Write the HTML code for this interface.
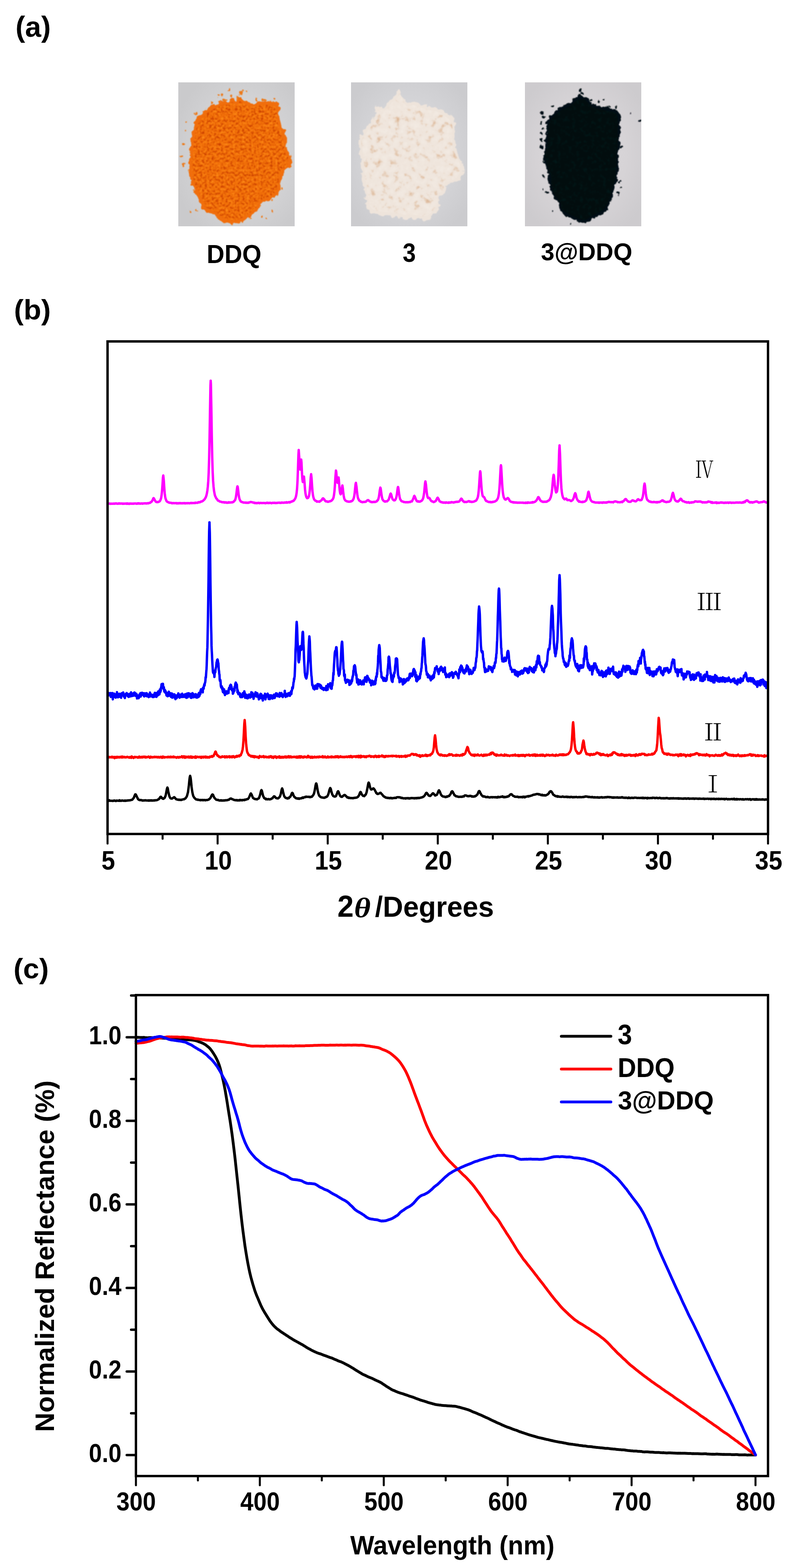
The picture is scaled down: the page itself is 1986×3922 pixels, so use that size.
<!DOCTYPE html><html><head><meta charset="utf-8"><title>Figure</title><style>
html,body{margin:0;padding:0;background:#fff;}body{width:1986px;height:3922px;overflow:hidden;}
svg{display:block;}
.t{font-family:"Liberation Sans",Arial,sans-serif;font-weight:bold;fill:#000;}
.r{font-family:"Liberation Serif","Noto Serif CJK SC",serif;fill:#000;}
</style></head><body>
<svg width="1986" height="3922" viewBox="0 0 1986 3922">
<rect width="1986" height="3922" fill="#fff"/>
<text transform="matrix(1.0050 0 0 1.0132 38.78 91.70)" font-size="72" font-family="Liberation Sans" font-weight="bold" fill="#000">(a)</text>
<text transform="matrix(1.0036 0 0 0.9868 34.89 799.10)" font-size="72" font-family="Liberation Sans" font-weight="bold" fill="#000">(b)</text>
<text transform="matrix(1.0037 0 0 0.9809 33.78 2446.99)" font-size="72" font-family="Liberation Sans" font-weight="bold" fill="#000">(c)</text>

<defs>
<filter id="edge" x="-10%" y="-10%" width="120%" height="120%">
 <feTurbulence type="fractalNoise" baseFrequency="0.09" numOctaves="2" seed="5" result="t"/>
 <feDisplacementMap in="SourceGraphic" in2="t" scale="14" xChannelSelector="R" yChannelSelector="G" result="d"/>
 <feGaussianBlur in="d" stdDeviation="0.8"/>
</filter>
<filter id="grainO" x="0" y="0" width="100%" height="100%" color-interpolation-filters="sRGB">
 <feTurbulence type="fractalNoise" baseFrequency="0.16" numOctaves="2" seed="11" result="n"/>
 <feColorMatrix in="n" type="matrix" values="0 0 0 0 0.8  0 0 0 0 0.26  0 0 0 0 0.0  -4 0 0 0 1.95" result="dk"/>
 <feColorMatrix in="n" type="matrix" values="0 0 0 0 1  0 0 0 0 0.56  0 0 0 0 0.1  3 0 0 0 -1.6" result="lt"/>
 <feMerge result="m"><feMergeNode in="SourceGraphic"/><feMergeNode in="dk"/><feMergeNode in="lt"/></feMerge>
 <feComposite in="m" in2="SourceGraphic" operator="in" result="c"/>
 <feGaussianBlur in="c" stdDeviation="0.9"/>
</filter>
<filter id="grainW" x="0" y="0" width="100%" height="100%" color-interpolation-filters="sRGB">
 <feTurbulence type="fractalNoise" baseFrequency="0.06" numOctaves="3" seed="21" result="n"/>
 <feColorMatrix in="n" type="matrix" values="0 0 0 0 0.86  0 0 0 0 0.71  0 0 0 0 0.58  -3.2 0 0 0 1.36" result="dk"/>
 <feColorMatrix in="n" type="matrix" values="0 0 0 0 0.95  0 0 0 0 0.92  0 0 0 0 0.89  2.5 0 0 0 -1.2" result="lt"/>
 <feMerge result="m"><feMergeNode in="SourceGraphic"/><feMergeNode in="dk"/><feMergeNode in="lt"/></feMerge>
 <feComposite in="m" in2="SourceGraphic" operator="in" result="c"/>
 <feGaussianBlur in="c" stdDeviation="0.9"/>
</filter>
<filter id="grainK" x="0" y="0" width="100%" height="100%" color-interpolation-filters="sRGB">
 <feTurbulence type="fractalNoise" baseFrequency="0.1" numOctaves="2" seed="31" result="n"/>
 <feColorMatrix in="n" type="matrix" values="0 0 0 0 0.0  0 0 0 0 0.11  0 0 0 0 0.11  2 0 0 0 -1.0" result="lt"/>
 <feMerge result="m"><feMergeNode in="SourceGraphic"/><feMergeNode in="lt"/></feMerge>
 <feComposite in="m" in2="SourceGraphic" operator="in" result="c"/>
 <feGaussianBlur in="c" stdDeviation="0.9"/>
</filter>
<clipPath id="cp1"><rect x="446" y="206" width="291" height="360"/></clipPath>
<clipPath id="cp2"><rect x="878" y="206" width="291" height="360"/></clipPath>
<clipPath id="cp3"><rect x="1313" y="206" width="291" height="360"/></clipPath>
<radialGradient id="bg1" cx="0.55" cy="0.5" r="0.62"><stop offset="0" stop-color="#dadadc"/><stop offset="0.6" stop-color="#d3d3d5"/><stop offset="1" stop-color="#cacacc"/></radialGradient>
<radialGradient id="bg2" cx="0.5" cy="0.5" r="0.62"><stop offset="0" stop-color="#dbdbde"/><stop offset="0.6" stop-color="#d4d4d7"/><stop offset="1" stop-color="#cbcbce"/></radialGradient>
<radialGradient id="bg3" cx="0.5" cy="0.5" r="0.62"><stop offset="0" stop-color="#dedbde"/><stop offset="0.6" stop-color="#d6d3d6"/><stop offset="1" stop-color="#cdcbce"/></radialGradient>
</defs>
<g clip-path="url(#cp1)">
<rect x="446" y="206" width="291" height="360" fill="url(#bg1)"/>
<g filter="url(#edge)"><circle cx="553" cy="237" r="3.5" fill="#ec7a1a"/><circle cx="571" cy="223" r="3" fill="#ec7a1a"/><circle cx="580" cy="240" r="3.5" fill="#ec7a1a"/><circle cx="602" cy="234" r="3.5" fill="#ec7a1a"/><circle cx="607" cy="229" r="2.5" fill="#ec7a1a"/><circle cx="618" cy="228" r="2.5" fill="#ec7a1a"/><circle cx="642" cy="249" r="3" fill="#ec7a1a"/><circle cx="685" cy="249" r="3" fill="#ec7a1a"/><circle cx="544" cy="241" r="2.5" fill="#ec7a1a"/><circle cx="490" cy="285" r="3" fill="#ec7a1a"/><circle cx="468" cy="306" r="2.5" fill="#ec7a1a"/><circle cx="462" cy="327" r="2.5" fill="#ec7a1a"/><circle cx="457" cy="362" r="3.5" fill="#ec7a1a"/><circle cx="453" cy="393" r="3" fill="#ec7a1a"/><circle cx="459" cy="411" r="4" fill="#ec7a1a"/><circle cx="475" cy="531" r="3" fill="#ec7a1a"/><circle cx="491" cy="527" r="2.5" fill="#ec7a1a"/><circle cx="654" cy="542" r="3" fill="#ec7a1a"/><circle cx="665" cy="547" r="2.5" fill="#ec7a1a"/><circle cx="680" cy="527" r="3" fill="#ec7a1a"/><circle cx="625" cy="547" r="2.5" fill="#ec7a1a"/><circle cx="683" cy="502" r="3" fill="#ec7a1a"/><circle cx="705" cy="469" r="2.5" fill="#ec7a1a"/><circle cx="530" cy="258" r="4" fill="#ec7a1a"/><circle cx="596" cy="246" r="4" fill="#ec7a1a"/><circle cx="660" cy="250" r="3.5" fill="#ec7a1a"/><circle cx="563" cy="249" r="4" fill="#ec7a1a"/><path d="M542.0,259.0 C545.7,257.2 548.2,254.0 553.0,253.0 C557.8,252.0 566.5,254.2 571.0,253.0 C575.5,251.8 576.7,246.0 580.0,246.0 C583.3,246.0 587.3,253.5 591.0,253.0 C594.7,252.5 598.0,243.0 602.0,243.0 C606.0,243.0 611.2,250.8 615.0,253.0 C618.8,255.2 621.5,255.2 625.0,256.0 C628.5,256.8 632.3,258.5 636.0,258.0 C639.7,257.5 643.0,253.7 647.0,253.0 C651.0,252.3 654.5,253.8 660.0,254.0 C665.5,254.2 674.7,253.5 680.0,254.0 C685.3,254.5 689.0,255.2 692.0,257.0 C695.0,258.8 696.8,258.7 698.0,265.0 C699.2,271.3 697.8,287.0 699.0,295.0 C700.2,303.0 702.8,307.0 705.0,313.0 C707.2,319.0 710.0,322.8 712.0,331.0 C714.0,339.2 715.3,353.2 717.0,362.0 C718.7,370.8 720.0,378.5 722.0,384.0 C724.0,389.5 728.2,390.2 729.0,395.0 C729.8,399.8 729.5,407.8 727.0,413.0 C724.5,418.2 717.3,421.2 714.0,426.0 C710.7,430.8 708.8,436.3 707.0,442.0 C705.2,447.7 704.5,453.7 703.0,460.0 C701.5,466.3 700.7,474.5 698.0,480.0 C695.3,485.5 691.8,489.3 687.0,493.0 C682.2,496.7 675.0,499.0 669.0,502.0 C663.0,505.0 655.5,506.5 651.0,511.0 C646.5,515.5 646.3,523.8 642.0,529.0 C637.7,534.2 631.7,537.5 625.0,542.0 C618.3,546.5 609.5,552.7 602.0,556.0 C594.5,559.3 587.3,562.0 580.0,562.0 C572.7,562.0 564.7,559.3 558.0,556.0 C551.3,552.7 546.3,546.2 540.0,542.0 C533.7,537.8 525.7,534.0 520.0,531.0 C514.3,528.0 509.0,527.7 506.0,524.0 C503.0,520.3 504.5,515.3 502.0,509.0 C499.5,502.7 494.7,493.5 491.0,486.0 C487.3,478.5 483.0,473.2 480.0,464.0 C477.0,454.8 474.5,441.7 473.0,431.0 C471.5,420.3 470.7,407.7 471.0,400.0 C471.3,392.3 473.7,395.0 475.0,385.0 C476.3,375.0 476.8,353.2 479.0,340.0 C481.2,326.8 485.0,314.2 488.0,306.0 C491.0,297.8 492.8,296.2 497.0,291.0 C501.2,285.8 507.3,279.5 513.0,275.0 C518.7,270.5 526.2,266.7 531.0,264.0 C535.8,261.3 538.3,260.8 542.0,259.0 Z" fill="#f06e08"/></g>
<path d="M542.0,259.0 C545.7,257.2 548.2,254.0 553.0,253.0 C557.8,252.0 566.5,254.2 571.0,253.0 C575.5,251.8 576.7,246.0 580.0,246.0 C583.3,246.0 587.3,253.5 591.0,253.0 C594.7,252.5 598.0,243.0 602.0,243.0 C606.0,243.0 611.2,250.8 615.0,253.0 C618.8,255.2 621.5,255.2 625.0,256.0 C628.5,256.8 632.3,258.5 636.0,258.0 C639.7,257.5 643.0,253.7 647.0,253.0 C651.0,252.3 654.5,253.8 660.0,254.0 C665.5,254.2 674.7,253.5 680.0,254.0 C685.3,254.5 689.0,255.2 692.0,257.0 C695.0,258.8 696.8,258.7 698.0,265.0 C699.2,271.3 697.8,287.0 699.0,295.0 C700.2,303.0 702.8,307.0 705.0,313.0 C707.2,319.0 710.0,322.8 712.0,331.0 C714.0,339.2 715.3,353.2 717.0,362.0 C718.7,370.8 720.0,378.5 722.0,384.0 C724.0,389.5 728.2,390.2 729.0,395.0 C729.8,399.8 729.5,407.8 727.0,413.0 C724.5,418.2 717.3,421.2 714.0,426.0 C710.7,430.8 708.8,436.3 707.0,442.0 C705.2,447.7 704.5,453.7 703.0,460.0 C701.5,466.3 700.7,474.5 698.0,480.0 C695.3,485.5 691.8,489.3 687.0,493.0 C682.2,496.7 675.0,499.0 669.0,502.0 C663.0,505.0 655.5,506.5 651.0,511.0 C646.5,515.5 646.3,523.8 642.0,529.0 C637.7,534.2 631.7,537.5 625.0,542.0 C618.3,546.5 609.5,552.7 602.0,556.0 C594.5,559.3 587.3,562.0 580.0,562.0 C572.7,562.0 564.7,559.3 558.0,556.0 C551.3,552.7 546.3,546.2 540.0,542.0 C533.7,537.8 525.7,534.0 520.0,531.0 C514.3,528.0 509.0,527.7 506.0,524.0 C503.0,520.3 504.5,515.3 502.0,509.0 C499.5,502.7 494.7,493.5 491.0,486.0 C487.3,478.5 483.0,473.2 480.0,464.0 C477.0,454.8 474.5,441.7 473.0,431.0 C471.5,420.3 470.7,407.7 471.0,400.0 C471.3,392.3 473.7,395.0 475.0,385.0 C476.3,375.0 476.8,353.2 479.0,340.0 C481.2,326.8 485.0,314.2 488.0,306.0 C491.0,297.8 492.8,296.2 497.0,291.0 C501.2,285.8 507.3,279.5 513.0,275.0 C518.7,270.5 526.2,266.7 531.0,264.0 C535.8,261.3 538.3,260.8 542.0,259.0 Z" fill="#f06e08" filter="url(#grainO)" transform="translate(600 400) scale(0.94) translate(-600 -400)"/>
</g>
<g clip-path="url(#cp2)">
<rect x="878" y="206" width="291" height="360" fill="url(#bg2)"/>
<g filter="url(#edge)"><path d="M998.0,224.0 C1000.2,223.3 1000.0,227.5 1003.0,233.0 C1006.0,238.5 1010.8,253.3 1016.0,257.0 C1021.2,260.7 1027.2,254.2 1034.0,255.0 C1040.8,255.8 1049.5,259.8 1057.0,262.0 C1064.5,264.2 1071.7,266.2 1079.0,268.0 C1086.3,269.8 1094.3,270.3 1101.0,273.0 C1107.7,275.7 1113.3,279.5 1119.0,284.0 C1124.7,288.5 1131.7,293.7 1135.0,300.0 C1138.3,306.3 1138.5,314.7 1139.0,322.0 C1139.5,329.3 1138.0,336.5 1138.0,344.0 C1138.0,351.5 1137.7,360.2 1139.0,367.0 C1140.3,373.8 1143.0,378.2 1146.0,385.0 C1149.0,391.8 1154.8,400.3 1157.0,408.0 C1159.2,415.7 1160.2,424.3 1159.0,431.0 C1157.8,437.7 1154.0,443.7 1150.0,448.0 C1146.0,452.3 1140.2,455.0 1135.0,457.0 C1129.8,459.0 1122.8,455.5 1119.0,460.0 C1115.2,464.5 1115.3,478.8 1112.0,484.0 C1108.7,489.2 1101.3,485.0 1099.0,491.0 C1096.7,497.0 1100.7,511.8 1098.0,520.0 C1095.3,528.2 1088.5,534.8 1083.0,540.0 C1077.5,545.2 1072.3,549.8 1065.0,551.0 C1057.7,552.2 1047.8,547.7 1039.0,547.0 C1030.2,546.3 1020.2,547.8 1012.0,547.0 C1003.8,546.2 997.5,543.2 990.0,542.0 C982.5,540.8 974.5,540.7 967.0,540.0 C959.5,539.3 952.3,539.8 945.0,538.0 C937.7,536.2 927.8,533.8 923.0,529.0 C918.2,524.2 918.0,518.0 916.0,509.0 C914.0,500.0 912.8,486.2 911.0,475.0 C909.2,463.8 906.3,453.2 905.0,442.0 C903.7,430.8 903.8,417.5 903.0,408.0 C902.2,398.5 900.8,391.8 900.0,385.0 C899.2,378.2 898.7,372.7 898.0,367.0 C897.3,361.3 894.8,356.3 896.0,351.0 C897.2,345.7 901.7,340.5 905.0,335.0 C908.3,329.5 912.3,322.8 916.0,318.0 C919.7,313.2 923.3,311.7 927.0,306.0 C930.7,300.3 935.8,290.3 938.0,284.0 C940.2,277.7 935.8,271.0 940.0,268.0 C944.2,265.0 957.3,268.8 963.0,266.0 C968.7,263.2 969.5,255.8 974.0,251.0 C978.5,246.2 986.0,241.5 990.0,237.0 C994.0,232.5 995.8,224.7 998.0,224.0 Z" fill="#eee4db"/></g>
<path d="M998.0,224.0 C1000.2,223.3 1000.0,227.5 1003.0,233.0 C1006.0,238.5 1010.8,253.3 1016.0,257.0 C1021.2,260.7 1027.2,254.2 1034.0,255.0 C1040.8,255.8 1049.5,259.8 1057.0,262.0 C1064.5,264.2 1071.7,266.2 1079.0,268.0 C1086.3,269.8 1094.3,270.3 1101.0,273.0 C1107.7,275.7 1113.3,279.5 1119.0,284.0 C1124.7,288.5 1131.7,293.7 1135.0,300.0 C1138.3,306.3 1138.5,314.7 1139.0,322.0 C1139.5,329.3 1138.0,336.5 1138.0,344.0 C1138.0,351.5 1137.7,360.2 1139.0,367.0 C1140.3,373.8 1143.0,378.2 1146.0,385.0 C1149.0,391.8 1154.8,400.3 1157.0,408.0 C1159.2,415.7 1160.2,424.3 1159.0,431.0 C1157.8,437.7 1154.0,443.7 1150.0,448.0 C1146.0,452.3 1140.2,455.0 1135.0,457.0 C1129.8,459.0 1122.8,455.5 1119.0,460.0 C1115.2,464.5 1115.3,478.8 1112.0,484.0 C1108.7,489.2 1101.3,485.0 1099.0,491.0 C1096.7,497.0 1100.7,511.8 1098.0,520.0 C1095.3,528.2 1088.5,534.8 1083.0,540.0 C1077.5,545.2 1072.3,549.8 1065.0,551.0 C1057.7,552.2 1047.8,547.7 1039.0,547.0 C1030.2,546.3 1020.2,547.8 1012.0,547.0 C1003.8,546.2 997.5,543.2 990.0,542.0 C982.5,540.8 974.5,540.7 967.0,540.0 C959.5,539.3 952.3,539.8 945.0,538.0 C937.7,536.2 927.8,533.8 923.0,529.0 C918.2,524.2 918.0,518.0 916.0,509.0 C914.0,500.0 912.8,486.2 911.0,475.0 C909.2,463.8 906.3,453.2 905.0,442.0 C903.7,430.8 903.8,417.5 903.0,408.0 C902.2,398.5 900.8,391.8 900.0,385.0 C899.2,378.2 898.7,372.7 898.0,367.0 C897.3,361.3 894.8,356.3 896.0,351.0 C897.2,345.7 901.7,340.5 905.0,335.0 C908.3,329.5 912.3,322.8 916.0,318.0 C919.7,313.2 923.3,311.7 927.0,306.0 C930.7,300.3 935.8,290.3 938.0,284.0 C940.2,277.7 935.8,271.0 940.0,268.0 C944.2,265.0 957.3,268.8 963.0,266.0 C968.7,263.2 969.5,255.8 974.0,251.0 C978.5,246.2 986.0,241.5 990.0,237.0 C994.0,232.5 995.8,224.7 998.0,224.0 Z" fill="#efe5dc" filter="url(#grainW)" transform="translate(1025 390) scale(0.94) translate(-1025 -390)"/>
</g>
<g clip-path="url(#cp3)">
<rect x="1313" y="206" width="291" height="360" fill="url(#bg3)"/>
<g filter="url(#edge)"><circle cx="1451" cy="224" r="4" fill="#041012"/><circle cx="1456" cy="233" r="4" fill="#041012"/><circle cx="1447" cy="240" r="4" fill="#041012"/><circle cx="1478" cy="250" r="3" fill="#041012"/><circle cx="1498" cy="253" r="3" fill="#041012"/><circle cx="1512" cy="250" r="3" fill="#041012"/><circle cx="1527" cy="265" r="3" fill="#041012"/><circle cx="1541" cy="268" r="3" fill="#041012"/><circle cx="1380" cy="264" r="3" fill="#041012"/><circle cx="1355" cy="282" r="3.5" fill="#041012"/><circle cx="1360" cy="291" r="3" fill="#041012"/><circle cx="1353" cy="309" r="3" fill="#041012"/><circle cx="1358" cy="322" r="3" fill="#041012"/><circle cx="1353" cy="333" r="3.5" fill="#041012"/><circle cx="1355" cy="351" r="4" fill="#041012"/><circle cx="1355" cy="367" r="3.5" fill="#041012"/><circle cx="1577" cy="284" r="1.5" fill="#041012"/><circle cx="1601" cy="302" r="2.5" fill="#041012"/><circle cx="1554" cy="367" r="4.5" fill="#041012"/><circle cx="1360" cy="440" r="2.5" fill="#041012"/><circle cx="1358" cy="473" r="2" fill="#041012"/><circle cx="1369" cy="482" r="4.5" fill="#041012"/><circle cx="1550" cy="457" r="3.5" fill="#041012"/><circle cx="1552" cy="471" r="3" fill="#041012"/><circle cx="1547" cy="484" r="3.5" fill="#041012"/><circle cx="1384" cy="529" r="2" fill="#041012"/><circle cx="1429" cy="562" r="2.5" fill="#041012"/><circle cx="1463" cy="246" r="5" fill="#041012"/><circle cx="1436" cy="250" r="4" fill="#041012"/><circle cx="1520" cy="268" r="3.5" fill="#041012"/><path d="M1440.0,244.0 C1444.8,241.5 1453.2,239.7 1458.0,240.0 C1462.8,240.3 1464.8,242.7 1469.0,246.0 C1473.2,249.3 1477.3,256.7 1483.0,260.0 C1488.7,263.3 1496.0,264.2 1503.0,266.0 C1510.0,267.8 1518.0,269.2 1525.0,271.0 C1532.0,272.8 1540.8,273.0 1545.0,277.0 C1549.2,281.0 1549.2,286.3 1550.0,295.0 C1550.8,303.7 1550.0,317.8 1550.0,329.0 C1550.0,340.2 1550.5,352.7 1550.0,362.0 C1549.5,371.3 1547.5,377.3 1547.0,385.0 C1546.5,392.7 1547.3,400.3 1547.0,408.0 C1546.7,415.7 1545.7,423.5 1545.0,431.0 C1544.3,438.5 1544.5,445.7 1543.0,453.0 C1541.5,460.3 1537.8,468.3 1536.0,475.0 C1534.2,481.7 1533.8,487.0 1532.0,493.0 C1530.2,499.0 1528.0,505.0 1525.0,511.0 C1522.0,517.0 1518.5,524.2 1514.0,529.0 C1509.5,533.8 1503.2,537.0 1498.0,540.0 C1492.8,543.0 1487.8,544.3 1483.0,547.0 C1478.2,549.7 1473.5,554.2 1469.0,556.0 C1464.5,557.8 1461.2,558.8 1456.0,558.0 C1450.8,557.2 1444.0,553.7 1438.0,551.0 C1432.0,548.3 1426.0,545.7 1420.0,542.0 C1414.0,538.3 1405.7,534.2 1402.0,529.0 C1398.3,523.8 1401.0,517.0 1398.0,511.0 C1395.0,505.0 1387.7,499.7 1384.0,493.0 C1380.3,486.3 1377.8,479.5 1376.0,471.0 C1374.2,462.5 1375.0,451.7 1373.0,442.0 C1371.0,432.3 1366.5,422.3 1364.0,413.0 C1361.5,403.7 1358.0,393.8 1358.0,386.0 C1358.0,378.2 1362.7,375.3 1364.0,366.0 C1365.3,356.7 1365.2,341.0 1366.0,330.0 C1366.8,319.0 1365.5,308.3 1369.0,300.0 C1372.5,291.7 1381.5,285.3 1387.0,280.0 C1392.5,274.7 1397.2,271.0 1402.0,268.0 C1406.8,265.0 1411.5,264.2 1416.0,262.0 C1420.5,259.8 1425.0,258.0 1429.0,255.0 C1433.0,252.0 1435.2,246.5 1440.0,244.0 Z" fill="#041012"/></g>
<path d="M1440.0,244.0 C1444.8,241.5 1453.2,239.7 1458.0,240.0 C1462.8,240.3 1464.8,242.7 1469.0,246.0 C1473.2,249.3 1477.3,256.7 1483.0,260.0 C1488.7,263.3 1496.0,264.2 1503.0,266.0 C1510.0,267.8 1518.0,269.2 1525.0,271.0 C1532.0,272.8 1540.8,273.0 1545.0,277.0 C1549.2,281.0 1549.2,286.3 1550.0,295.0 C1550.8,303.7 1550.0,317.8 1550.0,329.0 C1550.0,340.2 1550.5,352.7 1550.0,362.0 C1549.5,371.3 1547.5,377.3 1547.0,385.0 C1546.5,392.7 1547.3,400.3 1547.0,408.0 C1546.7,415.7 1545.7,423.5 1545.0,431.0 C1544.3,438.5 1544.5,445.7 1543.0,453.0 C1541.5,460.3 1537.8,468.3 1536.0,475.0 C1534.2,481.7 1533.8,487.0 1532.0,493.0 C1530.2,499.0 1528.0,505.0 1525.0,511.0 C1522.0,517.0 1518.5,524.2 1514.0,529.0 C1509.5,533.8 1503.2,537.0 1498.0,540.0 C1492.8,543.0 1487.8,544.3 1483.0,547.0 C1478.2,549.7 1473.5,554.2 1469.0,556.0 C1464.5,557.8 1461.2,558.8 1456.0,558.0 C1450.8,557.2 1444.0,553.7 1438.0,551.0 C1432.0,548.3 1426.0,545.7 1420.0,542.0 C1414.0,538.3 1405.7,534.2 1402.0,529.0 C1398.3,523.8 1401.0,517.0 1398.0,511.0 C1395.0,505.0 1387.7,499.7 1384.0,493.0 C1380.3,486.3 1377.8,479.5 1376.0,471.0 C1374.2,462.5 1375.0,451.7 1373.0,442.0 C1371.0,432.3 1366.5,422.3 1364.0,413.0 C1361.5,403.7 1358.0,393.8 1358.0,386.0 C1358.0,378.2 1362.7,375.3 1364.0,366.0 C1365.3,356.7 1365.2,341.0 1366.0,330.0 C1366.8,319.0 1365.5,308.3 1369.0,300.0 C1372.5,291.7 1381.5,285.3 1387.0,280.0 C1392.5,274.7 1397.2,271.0 1402.0,268.0 C1406.8,265.0 1411.5,264.2 1416.0,262.0 C1420.5,259.8 1425.0,258.0 1429.0,255.0 C1433.0,252.0 1435.2,246.5 1440.0,244.0 Z" fill="#020d0e" filter="url(#grainK)" transform="translate(1455 400) scale(0.95) translate(-1455 -400)"/>
</g>

<text transform="matrix(0.9767 0 0 1.0419 517.09 657.70)" font-size="63" font-family="Liberation Sans" font-weight="bold" fill="#000">DDQ</text>
<text transform="matrix(0.9355 0 0 1.0442 1007.13 654.80)" font-size="63" font-family="Liberation Sans" font-weight="bold" fill="#000">3</text>
<text transform="matrix(0.9668 0 0 0.9800 1353.07 650.60)" font-size="63" font-family="Liberation Sans" font-weight="bold" fill="#000">3@DDQ</text>
<polyline points="269.0,1259.9 270.1,1260.0 271.2,1259.8 272.3,1259.6 273.4,1259.7 274.5,1259.5 275.6,1259.9 276.7,1260.3 277.8,1259.7 278.9,1259.7 280.0,1260.0 281.1,1260.0 282.2,1259.9 283.3,1259.5 284.4,1259.8 285.5,1260.1 286.6,1259.4 287.7,1259.7 288.8,1259.2 289.9,1259.4 291.0,1259.2 292.1,1259.7 293.2,1259.4 294.3,1259.9 295.4,1259.9 296.5,1259.7 297.6,1258.9 298.7,1259.6 299.8,1259.8 300.9,1259.8 302.0,1259.3 303.1,1259.6 304.2,1259.4 305.3,1259.5 306.4,1260.1 307.5,1259.5 308.6,1259.8 309.7,1260.1 310.8,1259.5 311.9,1259.7 313.0,1259.8 314.1,1259.8 315.2,1259.3 316.3,1259.8 317.4,1260.2 318.5,1259.2 319.6,1260.0 320.7,1259.7 321.8,1259.5 322.9,1260.4 324.0,1260.0 325.1,1259.3 326.2,1259.7 327.3,1259.9 328.4,1259.6 329.5,1259.9 330.6,1259.6 331.7,1259.9 332.8,1260.1 333.9,1259.4 335.0,1259.7 336.1,1259.4 337.2,1259.6 338.3,1259.2 339.4,1259.4 340.5,1259.5 341.6,1259.9 342.7,1259.9 343.8,1259.1 344.9,1259.2 346.0,1259.7 347.1,1258.8 348.2,1259.3 349.3,1259.4 350.4,1259.9 351.5,1259.7 352.6,1259.3 353.7,1259.3 354.8,1259.3 355.9,1259.9 357.0,1259.2 358.1,1259.2 359.2,1259.4 360.3,1259.2 361.4,1259.1 362.5,1258.8 363.6,1259.1 364.7,1258.9 365.8,1259.4 366.9,1259.2 368.0,1258.8 369.1,1259.0 370.2,1258.5 371.3,1258.9 372.4,1258.3 373.5,1258.3 374.6,1257.4 375.7,1257.6 376.8,1256.4 377.9,1255.5 379.0,1255.1 380.1,1253.4 381.2,1251.6 382.3,1249.8 383.4,1246.6 384.2,1245.9 385.6,1247.7 386.7,1250.2 387.8,1252.2 388.9,1253.8 390.0,1255.2 391.1,1255.7 392.2,1255.5 393.3,1256.0 394.4,1256.0 395.5,1255.4 396.6,1255.5 397.7,1254.6 398.8,1254.5 399.9,1253.1 401.0,1251.4 402.1,1248.6 403.2,1244.7 404.3,1237.4 405.4,1226.9 406.5,1211.6 407.6,1194.3 408.4,1189.3 409.8,1202.7 410.9,1221.1 412.0,1233.6 413.1,1242.6 414.2,1247.4 415.3,1250.0 416.4,1253.1 417.5,1254.5 418.6,1255.0 419.7,1255.7 420.8,1256.3 421.9,1256.4 423.0,1257.5 424.1,1257.2 425.2,1257.6 426.3,1257.6 427.4,1257.8 428.5,1257.7 429.6,1258.7 430.7,1258.3 431.8,1258.7 432.9,1258.5 434.0,1258.3 435.1,1258.5 436.2,1258.4 437.3,1258.7 438.4,1258.6 439.5,1258.6 440.6,1258.3 441.7,1258.5 442.8,1259.4 443.9,1258.6 445.0,1258.4 446.1,1258.9 447.2,1259.3 448.3,1258.3 449.4,1258.7 450.5,1258.6 451.6,1258.2 452.7,1259.1 453.8,1258.8 454.9,1258.8 456.0,1258.5 457.1,1259.0 458.2,1258.6 459.3,1258.7 460.4,1258.4 461.5,1258.3 462.6,1259.2 463.7,1258.5 464.8,1258.8 465.9,1258.7 467.0,1258.5 468.1,1258.5 469.2,1258.8 470.3,1258.5 471.4,1258.5 472.5,1258.5 473.6,1258.9 474.7,1258.7 475.8,1258.5 476.9,1258.2 478.0,1257.8 479.1,1258.6 480.2,1258.6 481.3,1258.1 482.4,1258.3 483.5,1258.3 484.6,1258.3 485.7,1258.2 486.8,1257.7 487.9,1258.3 489.0,1257.2 490.1,1257.8 491.2,1257.6 492.3,1257.6 493.4,1257.8 494.5,1257.5 495.6,1256.4 496.7,1256.1 497.8,1256.7 498.9,1255.9 500.0,1256.0 501.1,1256.0 502.2,1254.8 503.3,1254.2 504.4,1254.6 505.5,1254.0 506.6,1253.4 507.7,1252.8 508.8,1251.7 509.9,1250.5 511.0,1249.8 512.1,1248.2 513.2,1246.2 514.3,1244.8 515.4,1241.9 516.5,1238.5 517.6,1233.3 518.7,1226.9 519.8,1217.5 520.9,1203.4 522.0,1181.7 523.1,1146.7 524.2,1094.9 525.3,1025.7 526.4,963.9 527.0,952.2 527.5,960.4 528.6,1018.9 529.7,1089.1 530.8,1142.5 531.9,1178.8 533.0,1202.2 534.1,1216.6 535.2,1226.4 536.3,1232.9 537.4,1238.3 538.5,1241.5 539.6,1243.5 540.7,1246.2 541.8,1247.5 542.9,1248.4 544.0,1250.5 545.1,1252.1 546.2,1252.4 547.3,1252.7 548.4,1253.3 549.5,1254.5 550.6,1254.6 551.7,1254.9 552.8,1255.2 553.9,1255.5 555.0,1256.0 556.1,1256.2 557.2,1256.2 558.3,1255.9 559.4,1256.6 560.5,1256.3 561.6,1257.1 562.7,1256.3 563.8,1256.8 564.9,1256.9 566.0,1256.5 567.1,1257.6 568.2,1257.6 569.3,1256.9 570.4,1257.4 571.5,1257.2 572.6,1256.2 573.7,1257.1 574.8,1257.0 575.9,1257.0 577.0,1256.5 578.1,1256.6 579.2,1256.5 580.3,1256.8 581.4,1256.2 582.5,1255.7 583.6,1255.8 584.7,1254.4 585.8,1253.6 586.9,1251.8 588.0,1251.0 589.1,1247.6 590.2,1242.7 591.3,1235.3 592.4,1225.5 593.5,1217.5 594.0,1216.4 594.6,1218.0 595.7,1226.4 596.8,1236.4 597.9,1243.2 599.0,1247.7 600.1,1250.6 601.2,1252.5 602.3,1254.5 603.4,1255.0 604.5,1255.5 605.6,1255.9 606.7,1256.0 607.8,1256.6 608.9,1257.2 610.0,1256.9 611.1,1257.1 612.2,1257.2 613.3,1257.4 614.4,1256.9 615.5,1257.4 616.6,1257.2 617.7,1257.8 618.8,1257.2 619.9,1257.6 621.0,1257.8 622.1,1257.0 623.2,1256.7 624.3,1256.7 625.4,1256.3 626.5,1255.6 628.0,1255.7 628.7,1255.9 629.8,1256.0 630.9,1256.4 632.0,1256.5 633.1,1257.2 634.2,1256.9 635.3,1257.2 636.4,1258.2 637.5,1257.5 638.6,1258.3 639.7,1258.5 640.8,1258.1 641.9,1258.2 643.0,1258.7 644.1,1258.0 645.2,1257.9 646.3,1257.6 647.4,1258.1 648.5,1258.7 649.6,1258.5 650.7,1257.8 651.8,1257.9 652.9,1258.0 654.0,1258.3 655.1,1258.1 656.2,1258.2 657.3,1258.3 658.4,1258.1 659.5,1258.1 660.6,1258.2 661.7,1258.1 662.8,1258.3 663.9,1258.8 665.0,1258.3 666.1,1258.1 667.2,1257.5 668.3,1258.2 669.4,1257.4 670.5,1257.6 671.6,1258.4 672.7,1258.3 673.8,1258.0 674.9,1257.5 676.0,1257.9 677.1,1257.8 678.2,1258.2 679.3,1258.8 680.4,1258.1 681.5,1257.7 682.6,1257.6 683.7,1257.9 684.8,1257.9 685.9,1257.5 687.0,1258.0 688.1,1257.5 689.2,1258.3 690.3,1258.2 691.4,1258.2 692.5,1257.6 693.6,1258.0 694.7,1257.7 695.8,1257.6 696.9,1257.6 698.0,1257.2 699.1,1257.2 700.2,1257.9 701.3,1257.5 702.4,1257.6 703.5,1257.9 704.6,1256.9 705.7,1257.2 706.8,1257.5 707.9,1257.5 709.0,1257.2 710.1,1257.6 711.2,1257.3 712.3,1256.8 713.4,1256.8 714.5,1257.3 715.6,1257.1 716.7,1256.2 717.8,1257.3 718.9,1256.9 720.0,1257.0 721.1,1256.3 722.2,1256.2 723.3,1255.8 724.4,1256.9 725.5,1255.7 726.6,1256.1 727.7,1255.1 728.8,1255.0 729.9,1254.0 731.0,1254.1 732.1,1254.0 733.2,1252.6 734.3,1252.7 735.4,1251.5 736.5,1249.8 737.6,1248.4 738.7,1246.3 739.8,1243.5 740.9,1239.1 742.0,1232.3 743.1,1221.3 744.2,1202.4 745.3,1172.9 746.4,1138.5 747.2,1125.4 748.6,1146.0 749.7,1168.8 750.8,1174.5 751.9,1164.0 753.4,1149.5 754.1,1157.0 755.2,1181.0 756.3,1198.4 757.4,1205.6 758.5,1201.8 759.6,1193.3 760.3,1192.1 761.8,1208.6 762.9,1223.8 764.0,1233.6 765.1,1239.2 766.2,1243.0 767.3,1244.9 768.4,1246.1 769.5,1245.6 770.6,1245.3 771.7,1243.1 772.8,1240.8 773.9,1234.6 775.0,1224.9 776.1,1211.0 777.2,1194.0 778.2,1186.1 779.4,1197.1 780.5,1214.6 781.6,1228.5 782.7,1238.2 783.8,1243.4 784.9,1246.9 786.0,1249.6 787.1,1250.6 788.2,1252.1 789.3,1252.4 790.4,1253.0 791.5,1253.2 792.6,1254.8 793.7,1254.3 794.8,1254.6 795.9,1254.6 797.0,1254.7 798.1,1254.6 799.2,1255.1 800.3,1253.8 801.4,1253.1 802.5,1252.6 803.6,1251.5 804.7,1250.8 805.8,1249.2 806.9,1246.9 808.1,1246.4 809.1,1247.0 810.2,1249.1 811.3,1249.3 812.4,1251.9 813.5,1252.5 814.6,1254.0 815.7,1253.8 816.8,1254.4 817.9,1254.2 819.0,1254.5 820.1,1255.3 821.2,1255.1 822.3,1254.6 823.4,1254.3 824.5,1253.7 825.6,1253.9 826.7,1253.6 827.8,1253.1 828.9,1252.5 830.0,1251.2 831.1,1250.4 832.2,1248.8 833.3,1247.0 834.4,1243.7 835.5,1237.5 836.6,1228.4 837.7,1214.6 838.8,1195.4 840.3,1176.9 841.0,1179.9 842.1,1193.7 843.2,1205.6 844.3,1207.7 845.4,1201.4 846.8,1194.3 847.6,1200.4 848.7,1215.1 849.8,1227.3 850.9,1233.9 852.0,1236.4 853.1,1234.5 854.2,1228.1 855.3,1219.4 856.4,1214.2 857.5,1221.1 858.6,1232.2 859.7,1240.0 860.8,1245.9 861.9,1249.0 863.0,1250.8 864.1,1252.0 865.2,1252.8 866.3,1253.2 867.4,1253.9 868.5,1254.2 869.6,1254.6 870.7,1254.3 871.8,1254.9 872.9,1254.9 874.0,1254.8 875.1,1254.6 876.2,1254.8 877.3,1253.8 878.4,1254.2 879.5,1253.6 880.6,1253.0 881.7,1252.1 882.8,1250.4 883.9,1248.5 885.0,1245.5 886.1,1240.3 887.2,1232.4 888.3,1221.0 889.4,1210.8 890.2,1207.7 891.6,1216.6 892.7,1227.9 893.8,1236.6 894.9,1243.7 896.0,1247.4 897.1,1249.1 898.2,1251.8 899.3,1252.3 900.4,1253.2 901.5,1254.0 902.6,1255.1 903.7,1254.9 904.8,1255.4 905.9,1256.1 907.0,1256.2 908.1,1255.7 909.2,1255.6 910.3,1255.3 911.4,1255.4 912.5,1255.6 913.6,1255.3 914.7,1254.8 915.8,1254.5 916.9,1253.0 918.0,1252.3 919.1,1251.5 920.4,1250.8 921.3,1251.1 922.4,1252.1 923.5,1252.9 924.6,1254.1 925.7,1254.3 926.8,1254.6 927.9,1255.7 929.0,1255.7 930.1,1256.0 931.2,1255.4 932.3,1255.9 933.4,1255.8 934.5,1255.6 935.6,1255.1 936.7,1255.6 937.8,1255.8 938.9,1255.4 940.0,1254.8 941.1,1254.5 942.2,1254.2 943.3,1252.1 944.4,1251.8 945.5,1250.2 946.6,1247.3 947.7,1243.1 948.8,1236.0 949.9,1227.1 951.4,1219.6 952.1,1221.5 953.2,1229.1 954.3,1237.6 955.4,1244.0 956.5,1248.4 957.6,1250.2 958.7,1251.8 959.8,1252.9 960.9,1253.9 962.0,1253.9 963.1,1254.7 964.2,1253.9 965.3,1254.2 966.4,1254.1 967.5,1254.1 968.6,1253.8 969.7,1252.2 970.8,1251.3 971.9,1250.1 973.0,1247.3 974.1,1243.6 975.2,1240.2 976.3,1235.9 977.2,1234.5 978.5,1236.8 979.6,1241.5 980.7,1245.0 981.8,1248.3 982.9,1249.5 984.0,1250.6 985.3,1251.5 986.2,1251.5 987.3,1251.5 988.4,1250.5 989.5,1248.6 990.6,1246.4 991.7,1242.1 992.8,1236.1 993.9,1226.9 995.0,1219.4 995.6,1218.1 996.1,1219.2 997.2,1227.2 998.3,1235.4 999.4,1242.3 1000.5,1247.4 1001.6,1249.7 1002.7,1251.3 1003.8,1253.0 1004.9,1253.9 1006.0,1254.1 1007.1,1254.3 1008.2,1254.7 1009.3,1255.7 1010.4,1255.4 1011.5,1255.8 1012.6,1256.1 1013.7,1256.3 1014.8,1256.0 1015.9,1256.4 1017.0,1255.9 1018.1,1256.1 1019.2,1255.9 1020.3,1256.6 1021.4,1256.1 1022.5,1255.8 1023.6,1255.8 1024.7,1255.7 1025.8,1255.8 1026.9,1254.7 1028.0,1254.5 1029.1,1254.1 1030.2,1254.2 1031.3,1252.3 1032.4,1250.0 1033.5,1247.6 1034.6,1244.8 1035.7,1241.1 1036.5,1240.3 1037.9,1242.9 1039.0,1245.9 1040.1,1248.9 1041.2,1250.7 1042.3,1253.1 1043.4,1254.0 1044.5,1254.2 1045.6,1254.6 1046.7,1253.9 1047.8,1254.9 1048.9,1254.6 1050.0,1254.7 1051.1,1254.5 1052.2,1253.8 1053.3,1252.9 1054.4,1252.9 1055.5,1251.5 1056.6,1250.2 1057.7,1248.0 1058.8,1244.7 1059.9,1238.8 1061.0,1231.9 1062.1,1220.2 1063.2,1208.3 1064.1,1204.1 1065.4,1211.9 1066.5,1223.4 1067.6,1233.6 1068.7,1240.0 1069.8,1243.9 1070.9,1245.8 1072.0,1245.2 1073.1,1245.5 1074.0,1245.5 1075.3,1247.7 1076.4,1249.8 1077.5,1251.6 1078.6,1253.0 1079.7,1253.7 1080.8,1254.2 1081.9,1254.1 1083.0,1254.9 1084.1,1255.7 1085.2,1255.7 1086.3,1255.3 1087.4,1254.7 1088.5,1253.7 1089.6,1253.5 1090.7,1251.6 1091.8,1249.7 1092.9,1247.2 1094.0,1245.3 1094.7,1244.9 1096.2,1246.8 1097.3,1248.9 1098.4,1251.4 1099.5,1253.9 1100.6,1254.3 1101.7,1255.0 1102.8,1255.8 1103.9,1256.2 1105.0,1255.9 1106.1,1256.4 1107.2,1256.9 1108.3,1256.8 1109.4,1256.9 1110.5,1257.5 1111.6,1256.8 1112.7,1257.1 1113.8,1256.9 1114.9,1257.7 1116.0,1256.5 1117.1,1256.9 1118.2,1257.0 1119.3,1257.4 1120.4,1257.4 1121.5,1257.7 1122.6,1256.6 1123.7,1257.4 1124.8,1257.0 1125.9,1256.7 1127.0,1257.1 1128.1,1256.4 1129.2,1255.8 1130.3,1256.4 1130.8,1256.3 1131.4,1256.3 1132.5,1256.6 1133.6,1256.6 1134.7,1257.1 1135.8,1256.5 1136.9,1255.9 1138.0,1256.0 1139.1,1255.7 1140.2,1255.3 1141.3,1255.6 1142.5,1255.1 1143.5,1255.0 1144.6,1255.4 1145.7,1255.1 1146.8,1255.0 1147.9,1254.5 1149.0,1253.9 1150.1,1252.4 1151.2,1251.1 1152.3,1248.9 1153.8,1247.2 1154.5,1247.6 1155.6,1248.7 1156.7,1251.2 1157.8,1252.8 1158.9,1254.1 1160.0,1254.3 1161.1,1255.9 1162.2,1255.7 1163.3,1255.4 1164.4,1255.3 1165.5,1255.7 1166.6,1255.7 1167.7,1255.2 1168.8,1255.1 1169.9,1254.4 1171.0,1254.2 1172.1,1253.5 1172.9,1253.4 1174.3,1254.0 1175.4,1255.1 1176.5,1254.4 1177.6,1254.9 1178.7,1255.0 1179.8,1255.7 1180.9,1255.1 1182.0,1255.3 1183.1,1255.3 1184.2,1254.8 1185.3,1254.6 1186.4,1254.4 1187.5,1253.4 1188.6,1253.1 1189.7,1252.8 1190.8,1252.1 1191.9,1250.7 1193.0,1248.4 1194.1,1246.4 1195.2,1243.1 1196.3,1237.1 1197.4,1227.7 1198.5,1213.6 1199.6,1196.2 1200.7,1181.0 1201.2,1178.8 1201.8,1181.7 1202.9,1197.8 1204.0,1214.7 1205.1,1227.8 1206.2,1235.4 1207.3,1240.4 1208.4,1241.9 1209.5,1242.6 1210.8,1243.5 1211.7,1244.9 1212.8,1247.4 1213.9,1249.9 1215.0,1251.7 1216.1,1253.2 1217.2,1253.5 1218.3,1253.6 1219.4,1254.5 1220.5,1255.0 1221.6,1255.2 1222.7,1255.8 1223.8,1255.6 1224.9,1255.9 1226.0,1255.2 1227.1,1256.0 1228.2,1256.4 1229.3,1255.9 1230.4,1255.7 1231.5,1255.5 1232.6,1256.0 1233.7,1254.9 1234.8,1255.0 1235.9,1254.9 1237.0,1254.7 1238.1,1253.9 1239.2,1253.7 1240.3,1252.8 1241.4,1252.2 1242.5,1251.0 1243.6,1249.2 1244.7,1247.6 1245.8,1245.1 1246.9,1240.2 1248.0,1233.7 1249.1,1223.4 1250.2,1206.9 1251.3,1186.2 1252.4,1167.1 1253.0,1163.8 1253.5,1166.3 1254.6,1184.7 1255.7,1205.2 1256.8,1221.9 1257.9,1232.6 1259.0,1239.4 1260.1,1244.2 1261.2,1245.9 1262.3,1248.4 1263.4,1249.0 1264.5,1249.8 1265.6,1249.2 1266.7,1248.2 1267.8,1247.4 1268.9,1246.4 1270.2,1245.6 1271.1,1246.3 1272.2,1247.8 1273.3,1249.2 1274.4,1251.9 1275.5,1253.2 1276.6,1254.0 1277.7,1254.7 1278.8,1255.5 1279.9,1255.4 1281.0,1255.6 1282.1,1256.0 1283.2,1256.7 1284.3,1256.0 1285.4,1257.0 1286.5,1256.5 1287.6,1256.4 1288.7,1257.3 1289.8,1256.9 1290.9,1256.6 1292.0,1257.0 1293.1,1257.5 1294.2,1257.6 1295.3,1257.1 1296.4,1257.4 1297.5,1257.5 1298.6,1257.1 1299.7,1257.5 1300.8,1257.3 1301.9,1257.2 1303.0,1257.2 1304.1,1257.4 1305.2,1257.4 1306.3,1257.2 1307.4,1257.3 1308.5,1257.8 1309.6,1257.5 1310.7,1257.7 1311.8,1257.8 1312.9,1257.6 1314.0,1258.2 1315.1,1257.1 1316.2,1257.7 1317.3,1257.2 1318.4,1258.0 1319.5,1257.9 1320.6,1256.6 1321.7,1256.9 1322.8,1257.5 1323.9,1257.5 1325.0,1257.4 1326.1,1257.1 1327.2,1257.2 1328.3,1257.2 1329.4,1256.9 1330.5,1257.1 1331.6,1255.9 1332.7,1256.8 1333.8,1256.0 1334.9,1256.5 1336.0,1255.8 1337.1,1255.2 1338.2,1255.2 1339.3,1254.1 1340.4,1253.2 1341.5,1251.7 1342.6,1250.5 1343.7,1248.5 1344.8,1246.2 1345.9,1243.8 1346.7,1243.4 1348.1,1244.7 1349.2,1247.0 1350.3,1249.5 1351.4,1251.5 1352.5,1252.4 1353.6,1253.4 1354.7,1254.1 1355.8,1254.6 1356.9,1254.5 1358.0,1255.4 1359.1,1255.0 1360.2,1255.3 1361.3,1254.8 1362.4,1255.2 1363.5,1255.1 1364.6,1254.7 1365.7,1255.3 1366.8,1254.5 1367.9,1254.7 1369.0,1254.1 1370.1,1253.0 1371.2,1252.5 1372.3,1252.1 1373.4,1251.1 1374.5,1249.9 1375.6,1248.2 1376.7,1245.5 1377.8,1243.0 1378.9,1237.9 1380.0,1232.3 1381.1,1222.6 1382.2,1210.3 1383.3,1196.9 1384.7,1187.4 1385.5,1190.0 1386.6,1200.3 1387.7,1212.6 1388.8,1221.6 1389.9,1227.9 1391.0,1231.7 1392.1,1231.0 1393.2,1229.1 1394.3,1222.2 1395.4,1211.2 1396.5,1191.1 1397.6,1160.9 1398.7,1126.6 1399.6,1113.9 1400.9,1139.3 1402.0,1175.0 1403.1,1202.1 1404.2,1220.3 1405.3,1230.9 1406.4,1237.9 1407.5,1241.9 1408.6,1245.4 1409.7,1246.0 1410.8,1247.8 1411.9,1248.9 1413.0,1248.5 1414.1,1247.9 1415.2,1247.4 1416.2,1247.1 1417.4,1248.3 1418.5,1250.5 1419.6,1251.1 1420.7,1250.8 1421.8,1250.8 1422.9,1250.7 1423.8,1250.8 1425.1,1251.1 1426.2,1251.9 1427.3,1253.0 1428.4,1253.2 1429.5,1252.7 1430.6,1252.0 1431.7,1251.1 1432.8,1250.1 1433.9,1247.6 1435.0,1245.7 1436.1,1241.2 1437.2,1237.0 1438.7,1233.6 1439.4,1234.4 1440.5,1237.8 1441.6,1243.2 1442.7,1247.2 1443.8,1249.3 1444.9,1251.2 1446.0,1252.8 1447.1,1253.1 1448.2,1254.8 1449.3,1253.9 1450.4,1254.7 1451.5,1255.2 1452.6,1255.4 1453.7,1255.6 1454.8,1255.7 1455.9,1255.6 1457.0,1256.0 1458.1,1254.8 1459.2,1255.4 1460.3,1255.0 1461.4,1255.0 1462.5,1254.6 1463.6,1253.6 1464.7,1252.9 1465.8,1252.1 1466.9,1250.0 1468.0,1246.6 1469.1,1243.1 1470.2,1237.5 1471.3,1231.3 1472.1,1229.9 1473.5,1235.0 1474.6,1240.3 1475.7,1245.2 1476.8,1248.7 1477.9,1251.1 1479.0,1252.8 1480.1,1253.7 1481.2,1254.9 1482.3,1255.1 1483.4,1255.5 1484.5,1255.5 1485.6,1256.2 1486.7,1256.1 1487.8,1256.5 1488.9,1257.0 1490.0,1256.9 1491.1,1257.0 1492.2,1257.0 1493.3,1257.0 1494.4,1257.0 1495.5,1257.0 1496.6,1257.4 1497.7,1256.8 1498.8,1257.7 1499.9,1257.2 1501.0,1257.0 1502.1,1257.1 1503.2,1257.0 1504.3,1257.3 1505.4,1257.0 1506.5,1257.6 1507.6,1256.9 1508.7,1256.4 1509.8,1256.9 1510.9,1256.4 1512.3,1257.1 1513.1,1257.1 1514.2,1257.2 1515.3,1256.4 1516.4,1256.5 1517.5,1257.2 1518.6,1256.4 1519.7,1256.0 1520.8,1256.0 1521.9,1255.5 1522.7,1255.3 1524.1,1255.4 1525.2,1255.8 1526.3,1256.1 1527.4,1255.9 1528.5,1255.8 1529.6,1256.2 1530.7,1256.1 1531.8,1256.1 1532.9,1256.0 1534.0,1256.6 1535.1,1255.1 1536.2,1254.9 1537.3,1254.4 1538.8,1254.1 1539.5,1254.3 1540.6,1254.4 1541.7,1254.7 1542.8,1254.9 1543.9,1255.5 1545.0,1256.2 1546.1,1256.2 1547.2,1255.9 1548.3,1256.1 1549.4,1256.3 1550.5,1256.4 1551.6,1256.0 1552.7,1256.0 1553.8,1255.3 1554.9,1255.3 1556.0,1256.0 1557.1,1254.3 1558.2,1254.5 1559.3,1253.9 1560.4,1252.7 1561.5,1251.2 1562.6,1250.0 1563.7,1248.7 1564.6,1248.3 1565.9,1248.4 1567.0,1250.4 1568.1,1251.5 1569.2,1252.7 1570.3,1253.8 1571.4,1254.5 1572.5,1255.0 1573.6,1254.7 1574.7,1255.2 1575.8,1255.2 1576.9,1255.0 1578.0,1254.7 1579.1,1253.5 1580.2,1252.6 1581.3,1251.9 1582.4,1251.3 1583.5,1251.7 1584.6,1252.3 1585.7,1253.1 1586.8,1253.1 1587.9,1253.7 1589.0,1254.0 1590.1,1254.1 1591.2,1253.6 1592.3,1252.5 1593.4,1251.4 1594.5,1249.8 1595.6,1249.0 1596.2,1248.7 1596.7,1248.8 1597.8,1250.1 1598.9,1250.5 1600.0,1250.7 1601.1,1251.3 1602.2,1251.1 1603.3,1250.7 1604.4,1250.7 1605.5,1248.8 1606.6,1245.7 1607.7,1242.4 1608.8,1236.3 1609.9,1226.5 1611.0,1215.5 1612.2,1209.5 1613.2,1214.1 1614.3,1225.1 1615.4,1235.1 1616.5,1242.1 1617.6,1246.6 1618.7,1249.5 1619.8,1251.1 1620.9,1251.6 1622.0,1253.0 1623.1,1253.8 1624.2,1254.1 1625.3,1254.9 1626.4,1254.8 1627.5,1254.8 1628.6,1255.9 1629.7,1255.8 1630.8,1255.7 1631.9,1256.1 1633.0,1256.2 1634.1,1256.1 1635.2,1255.2 1636.3,1255.8 1637.4,1255.9 1638.5,1255.8 1639.6,1256.2 1640.7,1256.6 1641.8,1256.0 1642.9,1255.7 1644.0,1256.8 1645.1,1255.9 1646.2,1255.6 1647.3,1256.0 1648.4,1255.9 1649.5,1255.3 1650.6,1255.5 1651.7,1254.6 1652.8,1253.8 1653.9,1253.4 1655.0,1252.7 1656.1,1251.6 1657.0,1251.4 1658.3,1251.8 1659.4,1253.7 1660.5,1253.3 1661.6,1254.8 1662.7,1254.8 1663.8,1255.1 1664.9,1255.6 1666.0,1255.8 1667.1,1256.0 1668.2,1255.6 1669.3,1255.2 1670.4,1255.1 1671.5,1255.3 1672.6,1255.1 1673.7,1255.0 1674.8,1254.1 1675.9,1253.5 1677.0,1252.5 1678.1,1250.2 1679.2,1246.9 1680.3,1243.0 1681.4,1237.8 1682.5,1233.9 1683.2,1232.6 1684.7,1237.3 1685.8,1242.2 1686.9,1246.9 1688.0,1249.7 1689.1,1251.3 1690.2,1252.5 1691.3,1253.4 1692.4,1253.9 1693.5,1253.9 1694.6,1254.2 1695.7,1254.6 1696.8,1253.0 1697.9,1253.0 1699.0,1251.4 1700.1,1250.2 1701.2,1248.6 1702.5,1247.3 1703.4,1247.9 1704.5,1248.9 1705.6,1251.6 1706.7,1252.3 1707.8,1253.6 1708.9,1253.8 1710.0,1253.8 1710.8,1254.1 1712.2,1254.8 1713.3,1255.8 1714.4,1255.7 1715.5,1256.1 1716.6,1255.7 1717.7,1256.9 1718.8,1257.1 1719.9,1256.6 1721.0,1256.6 1722.1,1256.1 1723.2,1257.0 1724.3,1257.7 1725.4,1257.0 1726.5,1257.2 1727.6,1256.9 1728.7,1256.4 1729.8,1257.1 1730.9,1256.2 1732.0,1256.4 1733.1,1256.4 1734.2,1256.4 1735.3,1256.0 1736.4,1255.6 1737.5,1254.7 1738.6,1254.0 1739.8,1254.2 1740.8,1254.2 1741.9,1254.2 1743.0,1254.6 1744.1,1255.1 1745.2,1254.7 1746.3,1254.8 1747.4,1254.5 1748.5,1254.8 1749.6,1254.5 1750.8,1254.4 1751.8,1254.3 1752.9,1254.6 1754.0,1255.7 1755.1,1255.7 1756.2,1256.0 1757.3,1256.9 1758.4,1256.4 1759.5,1256.2 1760.6,1256.2 1761.7,1256.8 1762.8,1256.8 1763.9,1256.2 1765.0,1256.3 1766.1,1256.7 1767.2,1256.6 1768.3,1255.9 1769.4,1256.0 1770.5,1255.5 1771.6,1254.3 1772.9,1254.7 1773.8,1254.9 1774.9,1255.0 1776.0,1254.9 1777.1,1256.0 1778.2,1256.7 1779.3,1257.2 1780.4,1256.0 1781.5,1257.8 1782.6,1256.6 1783.7,1257.4 1784.8,1257.5 1785.9,1257.5 1787.0,1257.2 1788.1,1256.8 1789.2,1257.4 1790.3,1257.0 1791.4,1256.4 1792.5,1258.3 1793.6,1257.5 1794.7,1257.9 1795.8,1257.0 1796.9,1257.8 1798.0,1257.9 1799.1,1257.9 1800.2,1257.3 1801.3,1256.9 1802.4,1257.3 1803.5,1256.6 1804.6,1256.7 1805.7,1257.4 1806.8,1257.0 1807.9,1257.3 1809.0,1257.3 1810.1,1258.0 1811.2,1257.8 1812.3,1257.3 1813.4,1257.8 1814.5,1257.1 1815.6,1257.2 1816.7,1257.7 1817.8,1257.2 1818.5,1257.3 1820.0,1256.9 1821.1,1257.4 1822.2,1257.9 1823.3,1257.1 1824.4,1257.4 1825.5,1257.0 1826.6,1256.9 1827.7,1256.9 1828.8,1257.9 1829.9,1257.5 1830.9,1257.4 1832.1,1257.3 1833.2,1257.6 1834.3,1257.2 1835.4,1257.6 1836.5,1257.4 1837.6,1257.4 1838.7,1257.5 1839.8,1257.1 1840.9,1257.1 1842.0,1256.7 1843.1,1257.1 1844.2,1256.8 1845.3,1257.2 1846.4,1256.9 1847.5,1257.2 1848.6,1257.3 1849.7,1256.7 1850.8,1256.8 1851.9,1256.8 1853.0,1257.3 1854.1,1257.6 1855.2,1257.2 1856.3,1256.7 1857.4,1257.3 1858.5,1256.1 1859.6,1256.9 1860.7,1255.9 1861.8,1254.8 1862.9,1256.2 1864.0,1255.1 1865.1,1253.3 1866.2,1252.6 1867.3,1251.7 1868.2,1251.4 1869.5,1251.4 1870.6,1252.7 1871.7,1254.1 1872.8,1254.8 1873.9,1255.8 1875.0,1255.8 1876.1,1256.9 1877.2,1256.1 1878.3,1256.5 1879.4,1255.9 1880.5,1256.1 1881.6,1257.1 1882.7,1256.2 1883.8,1256.7 1884.9,1256.3 1886.0,1255.8 1887.1,1255.7 1888.2,1255.2 1889.3,1254.7 1890.4,1254.5 1891.6,1254.3 1892.6,1254.3 1893.7,1254.5 1894.8,1255.4 1895.9,1255.7 1897.0,1256.5 1898.1,1257.3 1899.2,1256.8 1900.3,1256.5 1901.4,1256.5 1902.5,1256.2 1903.6,1256.1 1904.7,1256.0 1905.8,1255.9 1906.9,1255.6 1908.0,1255.5 1909.1,1254.6 1910.2,1254.3 1911.0,1254.1 1912.4,1255.1 1913.5,1255.3 1914.6,1256.2 1915.7,1256.3 1916.8,1256.9 1917.9,1256.5 1919.0,1257.0 1920.1,1257.9" fill="none" stroke="#ff00ff" stroke-width="6" stroke-linejoin="round" stroke-linecap="round" />
<polyline points="269.0,1733.6 269.6,1740.1 270.1,1741.0 270.6,1736.6 271.2,1737.3 271.8,1738.9 272.3,1733.5 272.9,1737.5 273.4,1734.5 273.9,1736.0 274.5,1736.8 275.1,1738.6 275.6,1739.4 276.1,1739.9 276.7,1733.4 277.2,1743.1 277.8,1740.0 278.4,1738.5 278.9,1735.2 279.4,1736.3 280.0,1738.8 280.6,1739.1 281.1,1733.6 281.6,1741.9 282.2,1749.2 282.8,1734.8 283.3,1743.5 283.9,1741.3 284.4,1739.4 284.9,1743.5 285.5,1735.0 286.1,1738.5 286.6,1742.1 287.1,1736.9 287.7,1736.6 288.2,1739.0 288.8,1738.0 289.4,1745.0 289.9,1738.0 290.4,1743.8 291.0,1737.0 291.6,1742.4 292.1,1739.4 292.6,1731.3 293.2,1738.9 293.8,1735.6 294.3,1737.8 294.9,1744.3 295.4,1736.3 295.9,1736.3 296.5,1743.5 297.1,1738.8 297.6,1742.7 298.1,1738.8 298.7,1735.2 299.2,1738.2 299.8,1742.8 300.4,1742.6 300.9,1740.3 301.4,1741.0 302.0,1740.5 302.6,1738.5 303.1,1745.4 303.6,1738.5 304.2,1734.0 304.8,1735.2 305.3,1738.4 305.9,1737.9 306.4,1735.5 306.9,1734.1 307.5,1736.7 308.1,1731.9 308.6,1733.5 309.1,1740.5 309.7,1737.3 310.2,1740.7 310.8,1743.8 311.4,1742.2 311.9,1740.0 312.4,1745.9 313.0,1740.6 313.6,1736.7 314.1,1739.6 314.6,1738.5 315.2,1735.0 315.8,1738.5 316.3,1738.5 316.9,1733.6 317.4,1739.5 317.9,1739.5 318.5,1739.3 319.1,1736.0 319.6,1740.5 320.1,1741.8 320.7,1742.3 321.2,1738.3 321.8,1743.2 322.4,1736.6 322.9,1738.6 323.4,1742.4 324.0,1735.6 324.6,1735.9 325.1,1740.9 325.6,1736.6 326.2,1737.2 326.8,1739.0 327.3,1741.7 327.9,1731.7 328.4,1736.2 328.9,1736.1 329.5,1736.3 330.1,1737.4 330.6,1737.6 331.1,1740.8 331.7,1736.5 332.2,1738.7 332.8,1738.7 333.4,1734.3 333.9,1736.1 334.4,1740.1 335.0,1735.7 335.6,1732.7 336.1,1734.6 336.6,1732.1 337.2,1736.1 337.8,1738.3 338.3,1733.7 338.9,1736.1 339.4,1740.6 339.9,1736.1 340.5,1738.6 341.1,1735.4 341.6,1736.6 342.1,1738.2 342.7,1746.9 343.2,1739.6 343.8,1739.5 344.4,1739.5 344.9,1740.5 345.4,1742.6 346.0,1740.9 346.6,1746.5 347.1,1741.1 347.6,1745.0 348.2,1741.6 348.8,1742.8 349.3,1736.6 349.9,1740.4 350.4,1740.3 350.9,1739.5 351.5,1733.4 352.1,1742.2 352.6,1738.1 353.1,1737.6 353.7,1737.7 354.2,1737.2 354.8,1738.4 355.4,1732.8 355.9,1733.3 356.4,1736.5 357.0,1736.0 357.6,1734.7 358.1,1734.5 358.6,1734.2 359.2,1736.7 359.8,1740.6 360.3,1734.0 360.9,1742.0 361.4,1740.3 361.9,1736.8 362.5,1741.0 363.1,1734.8 363.6,1734.5 364.1,1736.3 364.7,1739.2 365.2,1739.6 365.8,1738.9 366.4,1740.5 366.9,1733.7 367.4,1741.6 368.0,1736.3 368.6,1739.2 369.1,1740.8 369.6,1739.2 370.2,1739.1 370.8,1740.3 371.3,1742.8 371.9,1743.6 372.4,1742.3 372.9,1736.4 373.5,1736.1 374.1,1735.3 374.6,1739.5 375.1,1732.3 375.7,1742.1 376.2,1736.7 376.8,1735.6 377.4,1738.8 377.9,1740.7 378.4,1738.6 379.0,1740.9 379.6,1738.4 380.1,1742.1 380.6,1742.5 381.2,1738.8 381.8,1743.6 382.3,1740.0 382.9,1740.1 383.4,1737.7 383.9,1740.0 384.5,1743.5 385.1,1737.2 385.6,1742.8 386.1,1741.5 386.7,1740.8 387.2,1733.1 387.8,1739.4 388.4,1741.8 388.9,1737.8 389.4,1740.7 390.0,1733.6 390.6,1742.9 391.1,1738.7 391.6,1742.9 392.2,1734.0 392.8,1740.5 393.3,1736.5 393.9,1738.2 394.4,1731.6 394.9,1731.3 395.5,1738.9 396.1,1729.2 396.6,1729.5 397.1,1731.0 397.7,1729.0 398.2,1735.6 398.8,1736.8 399.4,1728.7 399.9,1724.6 400.4,1732.1 401.0,1730.7 401.6,1728.4 402.1,1727.9 402.6,1720.1 403.2,1720.1 403.8,1714.0 404.3,1711.1 404.9,1715.5 405.4,1711.9 406.1,1713.2 407.1,1713.0 407.6,1710.4 408.1,1717.2 408.7,1722.8 409.2,1721.4 409.8,1718.6 410.4,1725.2 410.9,1729.5 411.4,1725.1 412.0,1725.2 412.6,1731.6 413.1,1730.1 413.6,1727.5 414.2,1730.7 414.8,1730.7 415.3,1734.9 415.9,1735.3 416.4,1739.4 416.9,1738.9 417.5,1732.8 418.1,1739.4 418.6,1741.3 419.1,1740.1 419.7,1741.5 420.2,1736.3 420.8,1734.5 421.4,1739.6 421.9,1733.3 422.4,1730.1 423.0,1740.0 423.6,1735.5 424.1,1737.7 424.6,1735.2 425.2,1736.0 425.8,1736.9 426.3,1739.6 426.9,1742.0 427.4,1734.1 427.9,1743.2 428.5,1737.1 429.1,1737.1 429.6,1742.0 430.1,1739.5 430.7,1735.0 431.2,1745.1 431.8,1737.1 432.4,1740.5 432.9,1740.5 433.4,1744.2 434.0,1738.5 434.6,1742.6 435.1,1737.0 435.6,1742.4 436.2,1736.7 436.8,1738.2 437.3,1745.4 437.9,1741.4 438.4,1741.6 438.9,1748.8 439.5,1743.7 440.1,1740.5 440.6,1745.2 441.1,1739.4 441.7,1746.1 442.2,1745.9 442.8,1740.1 443.4,1739.5 443.9,1741.4 444.4,1740.5 445.0,1737.3 445.6,1742.0 446.1,1734.3 446.6,1739.6 447.2,1740.3 447.8,1741.4 448.3,1743.9 448.9,1739.8 449.4,1745.2 449.9,1742.5 450.5,1740.4 451.1,1737.5 451.6,1737.6 452.1,1741.8 452.7,1737.3 453.2,1739.9 453.8,1742.6 454.4,1742.2 454.9,1743.4 455.4,1737.6 456.0,1735.1 456.6,1741.5 457.1,1739.6 457.6,1742.4 458.2,1739.4 458.8,1743.2 459.3,1741.8 459.9,1740.9 460.4,1739.6 460.9,1738.7 461.5,1737.8 462.1,1737.6 462.6,1740.1 463.1,1736.2 463.7,1743.7 464.2,1738.9 464.8,1742.7 465.4,1739.6 465.9,1739.1 466.4,1745.6 467.0,1738.2 467.6,1735.0 468.1,1736.4 468.6,1737.4 469.2,1744.5 469.8,1738.4 470.3,1740.3 470.9,1734.1 471.4,1737.7 471.9,1738.3 472.5,1741.7 473.1,1734.6 473.6,1739.3 474.1,1739.4 474.7,1736.6 475.2,1740.7 475.8,1741.0 476.4,1735.7 476.9,1745.2 477.4,1745.3 478.0,1742.2 478.6,1738.6 479.1,1745.6 479.6,1740.3 480.2,1740.8 480.8,1740.4 481.3,1733.7 481.9,1737.5 482.4,1734.8 482.9,1736.5 483.5,1738.0 484.1,1739.7 484.6,1744.2 485.1,1741.8 485.7,1741.0 486.2,1740.3 486.8,1741.5 487.4,1737.0 487.9,1737.4 488.4,1738.2 489.0,1736.4 489.6,1737.8 490.1,1736.5 490.6,1744.5 491.2,1742.5 491.8,1739.8 492.3,1738.3 492.9,1744.9 493.4,1739.2 493.9,1737.8 494.5,1738.9 495.1,1738.9 495.6,1742.0 496.1,1737.4 496.7,1743.4 497.2,1733.9 497.8,1738.2 498.4,1732.7 498.9,1740.9 499.4,1734.2 500.0,1734.3 500.6,1736.3 501.1,1736.0 501.6,1727.4 502.2,1728.2 502.8,1723.9 503.3,1727.8 503.9,1726.8 504.4,1726.1 504.9,1725.4 505.5,1726.7 506.1,1725.8 506.6,1729.5 507.1,1731.8 507.7,1720.4 508.2,1724.3 508.8,1721.7 509.4,1722.5 509.9,1716.1 510.4,1716.5 511.0,1711.7 511.6,1714.9 512.1,1711.1 512.6,1708.0 513.2,1707.0 513.8,1701.9 514.3,1693.9 514.9,1695.3 515.4,1688.2 516.0,1679.4 516.5,1674.0 517.0,1664.1 517.6,1644.6 518.1,1630.5 518.7,1619.4 519.2,1597.1 519.8,1564.1 520.4,1531.2 520.9,1495.6 521.5,1453.9 522.0,1405.4 522.5,1366.2 523.1,1329.2 523.9,1306.4 524.8,1332.6 525.3,1365.5 525.9,1411.0 526.4,1457.6 527.0,1499.4 527.5,1532.2 528.0,1563.9 528.6,1586.6 529.1,1614.9 529.7,1628.4 530.2,1636.7 530.8,1651.1 531.4,1662.4 531.9,1669.4 532.5,1679.4 533.0,1682.5 533.5,1680.0 534.1,1683.5 534.6,1681.1 535.2,1686.2 535.8,1685.9 536.3,1693.2 536.9,1685.0 537.4,1677.7 538.0,1680.9 538.5,1681.5 539.0,1674.8 539.6,1672.6 540.1,1670.2 540.7,1668.3 541.2,1662.6 541.8,1656.4 542.4,1658.0 542.9,1651.4 543.5,1650.4 544.1,1649.5 545.1,1653.3 545.6,1660.6 546.2,1658.4 546.8,1668.2 547.3,1676.2 547.9,1678.7 548.4,1686.1 549.0,1687.2 549.5,1699.2 550.0,1702.6 550.6,1703.6 551.1,1700.6 551.7,1705.4 552.2,1713.8 552.8,1718.1 553.4,1715.7 553.9,1720.2 554.5,1716.4 555.0,1719.4 555.5,1721.8 556.1,1724.7 556.6,1720.3 557.2,1729.0 557.8,1731.3 558.3,1724.9 558.9,1725.2 559.4,1731.1 560.0,1728.8 560.5,1724.2 561.0,1734.2 561.6,1732.5 562.1,1730.8 562.7,1738.6 563.2,1732.6 563.8,1729.9 564.4,1732.6 564.9,1729.2 565.5,1729.9 566.0,1733.0 566.5,1729.7 567.1,1729.3 567.6,1735.1 568.2,1732.1 568.8,1731.7 569.3,1730.8 569.9,1730.6 570.4,1733.3 571.0,1728.5 571.5,1733.5 572.0,1724.2 572.6,1725.2 573.1,1720.4 573.7,1721.9 574.2,1722.5 574.8,1723.3 575.4,1715.0 575.9,1714.8 576.9,1712.7 577.5,1713.2 578.1,1713.9 578.6,1720.3 579.2,1717.6 579.8,1725.4 580.3,1726.9 580.9,1726.0 581.4,1725.7 582.0,1725.1 582.5,1735.1 583.0,1725.3 583.6,1733.7 584.1,1730.1 584.7,1726.3 585.2,1722.7 585.8,1727.8 586.4,1728.0 586.9,1717.7 587.5,1716.8 588.0,1717.9 588.5,1710.1 589.1,1709.8 589.6,1707.3 590.2,1708.9 590.8,1709.3 591.3,1719.2 591.9,1713.7 592.4,1712.3 593.0,1721.4 593.5,1723.7 594.0,1731.8 594.6,1726.6 595.1,1729.1 595.7,1732.2 596.2,1736.4 596.8,1732.3 597.4,1736.3 597.9,1735.3 598.5,1733.6 599.0,1735.5 599.5,1736.4 600.1,1734.5 600.6,1741.9 601.2,1735.1 601.8,1743.7 602.3,1743.7 602.9,1741.1 603.4,1739.4 604.0,1741.1 604.5,1743.2 605.0,1743.7 605.6,1741.9 606.1,1743.3 606.7,1737.9 607.2,1739.6 607.8,1733.6 608.4,1740.3 608.9,1738.3 609.5,1736.7 610.0,1741.5 610.5,1740.0 611.1,1729.3 611.6,1737.6 612.2,1733.0 612.8,1740.7 613.3,1745.4 613.9,1736.9 614.4,1739.2 615.0,1738.7 615.5,1740.9 616.0,1742.1 616.6,1744.4 617.1,1738.0 617.7,1746.3 618.2,1739.5 618.8,1743.7 619.4,1746.8 619.9,1745.6 620.5,1740.4 621.0,1740.6 621.5,1740.8 622.1,1741.5 622.6,1744.7 623.2,1737.1 623.8,1742.3 624.3,1742.7 624.9,1742.5 625.4,1742.0 626.0,1744.8 626.5,1741.3 627.0,1741.7 627.6,1740.1 628.1,1743.1 628.7,1731.4 629.2,1740.6 629.8,1735.8 630.4,1736.0 630.9,1734.6 631.5,1732.9 632.0,1738.7 632.5,1739.2 633.1,1744.0 633.6,1738.9 634.2,1747.9 634.8,1744.4 635.3,1742.4 635.9,1740.2 636.4,1738.7 637.0,1736.3 637.5,1736.8 638.0,1737.3 638.6,1735.8 639.1,1731.5 639.7,1734.7 640.2,1732.9 640.8,1736.4 641.4,1742.2 641.9,1739.2 642.5,1737.0 643.0,1733.7 643.5,1735.0 644.1,1734.8 644.6,1742.9 645.2,1739.3 645.8,1742.9 646.3,1741.9 646.9,1744.8 647.4,1749.2 648.0,1743.1 648.5,1743.9 649.0,1741.9 649.6,1746.2 650.1,1739.6 650.7,1738.2 651.2,1736.3 651.8,1735.3 652.4,1740.3 652.9,1746.5 653.5,1736.2 654.0,1742.9 654.5,1742.1 655.1,1739.6 655.6,1743.5 656.2,1744.9 656.8,1744.2 657.3,1752.1 657.9,1739.9 658.4,1745.7 659.0,1744.2 659.5,1740.2 660.0,1741.3 660.6,1742.6 661.1,1740.1 661.7,1741.2 662.2,1742.7 662.8,1735.3 663.4,1746.5 663.9,1749.4 664.5,1745.7 665.0,1745.6 665.5,1737.7 666.1,1740.8 666.6,1737.9 667.2,1738.0 667.8,1742.4 668.3,1737.3 668.9,1739.8 669.4,1735.1 670.0,1741.2 670.5,1742.6 671.0,1740.6 671.6,1740.6 672.1,1748.2 672.7,1738.8 673.2,1739.2 673.8,1740.0 674.4,1746.0 674.9,1748.7 675.5,1743.4 676.0,1740.3 676.5,1741.0 677.1,1745.1 677.6,1738.9 678.2,1745.8 678.8,1745.7 679.3,1741.9 679.9,1743.9 680.4,1744.5 681.0,1747.3 681.5,1740.0 682.0,1747.3 682.6,1743.2 683.1,1742.4 683.7,1744.9 684.2,1743.5 684.8,1740.3 685.4,1737.5 685.9,1738.5 686.5,1744.9 687.0,1745.9 687.5,1741.6 688.1,1742.9 688.6,1737.5 689.2,1738.3 689.8,1738.9 690.3,1734.3 690.9,1734.3 691.4,1737.5 692.0,1736.4 692.5,1734.5 693.0,1739.2 693.6,1737.6 694.1,1741.6 694.7,1738.4 695.2,1737.5 695.8,1739.0 696.4,1738.5 696.9,1737.4 697.5,1738.4 698.0,1741.9 698.5,1741.3 699.1,1742.8 699.6,1733.2 700.2,1736.5 700.8,1735.9 701.3,1737.3 701.9,1735.1 702.4,1734.9 703.0,1738.9 703.5,1737.2 704.0,1733.4 704.6,1741.2 705.1,1740.7 705.7,1736.6 706.2,1741.6 706.8,1737.5 707.4,1743.6 707.9,1739.7 708.5,1737.8 709.0,1738.8 709.5,1737.2 710.1,1739.6 710.6,1739.2 711.2,1738.6 711.8,1736.9 712.3,1727.9 712.9,1739.6 713.4,1733.9 714.0,1740.6 714.5,1743.2 715.0,1740.5 715.6,1738.2 716.1,1738.4 716.7,1738.2 717.2,1736.8 717.8,1736.6 718.4,1735.4 718.9,1741.5 719.5,1737.5 720.0,1739.7 720.5,1735.2 721.1,1735.3 721.6,1734.0 722.2,1735.7 722.8,1736.9 723.3,1735.5 723.9,1733.2 724.4,1733.2 725.0,1740.5 725.5,1734.3 726.0,1733.5 726.6,1737.8 727.1,1735.5 727.7,1732.7 728.2,1728.7 728.8,1735.9 729.4,1728.9 729.9,1728.2 730.5,1724.9 731.0,1719.9 731.5,1718.8 732.1,1722.4 732.6,1720.3 733.2,1715.9 733.8,1710.2 734.3,1706.0 734.9,1705.4 735.4,1697.5 736.0,1699.4 736.5,1694.2 737.0,1692.1 737.6,1677.7 738.1,1662.8 738.7,1649.1 739.2,1625.7 739.8,1616.0 740.4,1597.3 740.9,1581.0 741.5,1563.8 742.1,1555.5 743.1,1568.7 743.6,1584.1 744.2,1603.5 744.8,1612.0 745.3,1627.4 745.9,1635.3 746.4,1652.0 747.0,1655.9 747.5,1656.5 748.0,1650.2 748.6,1651.2 749.1,1644.3 749.7,1637.5 750.2,1627.9 750.8,1620.7 751.3,1616.2 751.9,1617.3 752.5,1620.1 753.0,1623.4 753.5,1625.5 754.1,1623.2 754.6,1622.3 755.2,1611.2 755.8,1602.8 756.3,1590.1 756.9,1581.4 757.5,1580.4 758.0,1582.9 758.5,1595.2 759.0,1610.4 759.6,1620.0 760.1,1637.1 760.7,1651.6 761.2,1661.8 761.8,1669.8 762.4,1682.6 762.9,1684.8 763.5,1690.4 764.0,1690.4 764.5,1694.3 765.1,1692.3 765.6,1695.2 766.2,1697.3 766.8,1695.1 767.3,1692.0 767.9,1687.4 768.4,1687.2 769.0,1682.2 769.5,1673.3 770.0,1663.0 770.6,1656.7 771.1,1650.8 771.7,1629.5 772.2,1618.2 772.8,1604.2 773.8,1591.8 774.5,1598.6 775.0,1605.4 775.5,1624.6 776.1,1633.9 776.6,1646.3 777.2,1660.9 777.8,1673.4 778.3,1680.8 778.9,1690.1 779.4,1692.4 780.0,1700.5 780.5,1707.1 781.0,1713.6 781.6,1712.2 782.1,1713.0 782.7,1717.5 783.2,1718.5 783.8,1722.1 784.4,1722.0 784.9,1720.1 785.5,1722.6 786.0,1723.4 786.5,1724.3 787.1,1723.8 787.6,1720.2 788.2,1715.4 788.8,1719.0 789.3,1714.4 789.9,1720.6 790.4,1720.5 791.0,1715.6 791.5,1722.5 792.0,1722.5 792.6,1719.3 793.1,1722.7 793.7,1721.7 794.2,1710.9 794.8,1716.3 795.4,1712.4 796.1,1712.0 797.0,1713.2 797.5,1711.3 798.1,1712.6 798.6,1712.8 799.2,1713.8 799.8,1716.3 800.3,1712.8 800.9,1714.5 801.4,1720.1 802.0,1718.9 802.5,1721.0 803.0,1714.8 803.6,1718.4 804.1,1719.3 804.7,1721.0 805.2,1719.2 805.8,1723.2 806.5,1722.5 807.5,1722.8 808.0,1722.0 808.5,1724.4 809.1,1721.0 809.6,1725.8 810.2,1723.6 810.8,1722.2 811.3,1721.5 811.9,1722.8 812.4,1724.4 813.0,1724.4 813.5,1723.0 814.0,1724.7 814.6,1722.6 815.1,1726.0 815.7,1722.1 816.2,1716.0 816.8,1726.3 817.4,1722.4 817.9,1718.1 818.5,1720.4 819.0,1717.5 819.5,1725.3 820.1,1719.1 820.6,1711.6 821.2,1716.7 821.8,1712.8 822.3,1716.8 823.3,1713.5 824.0,1712.5 824.5,1713.2 825.0,1712.7 825.6,1713.2 826.1,1708.8 826.7,1717.1 827.2,1721.4 827.8,1711.0 828.4,1720.2 828.9,1714.7 829.5,1722.9 830.0,1716.2 830.5,1712.9 831.1,1714.4 831.6,1709.7 832.2,1702.5 832.8,1701.8 833.3,1692.8 833.9,1682.9 834.4,1687.6 835.0,1672.6 835.5,1662.9 836.0,1656.0 836.6,1644.5 837.5,1632.3 838.2,1629.1 838.8,1627.5 839.4,1628.6 839.9,1629.5 840.5,1621.1 841.0,1618.8 841.7,1619.1 842.6,1629.9 843.2,1642.6 843.8,1649.9 844.3,1665.6 844.9,1671.9 845.4,1677.1 846.0,1678.0 846.5,1685.8 847.0,1685.1 847.6,1690.2 848.1,1687.3 848.7,1683.9 849.2,1686.8 849.8,1683.1 850.4,1675.2 850.9,1675.5 851.5,1664.7 852.0,1656.8 852.5,1648.8 853.1,1635.7 853.6,1625.9 854.2,1615.3 854.8,1608.6 855.4,1605.0 855.9,1605.7 856.4,1614.1 857.0,1624.8 857.5,1637.3 858.0,1649.8 858.6,1658.0 859.1,1673.2 859.7,1674.4 860.2,1676.8 860.8,1689.8 861.4,1689.2 861.9,1692.9 862.5,1687.3 863.0,1701.2 863.5,1702.3 864.1,1703.6 864.6,1705.2 865.2,1708.0 865.8,1703.2 866.3,1706.2 866.9,1700.9 867.4,1701.5 868.0,1705.1 868.5,1701.5 869.2,1700.2 870.1,1702.4 870.7,1702.2 871.2,1701.3 871.8,1706.0 872.4,1704.3 872.9,1701.5 873.5,1703.7 874.0,1713.0 874.5,1703.9 875.1,1709.8 875.6,1711.5 876.2,1711.7 876.8,1705.8 877.3,1707.9 877.9,1708.3 878.4,1709.1 879.0,1703.4 879.5,1700.2 880.0,1704.9 880.6,1703.3 881.1,1698.8 881.7,1693.3 882.2,1693.5 882.8,1689.5 883.4,1688.1 883.9,1677.9 884.5,1678.0 885.0,1673.1 885.5,1666.4 886.1,1667.7 886.6,1665.2 887.2,1664.0 887.8,1665.7 888.3,1667.1 888.9,1672.5 889.4,1678.4 890.0,1682.3 890.5,1688.9 891.0,1686.1 891.6,1688.8 892.1,1697.3 892.7,1700.5 893.2,1707.4 893.8,1704.2 894.4,1700.7 894.9,1706.2 895.5,1701.4 896.0,1699.5 896.5,1712.1 897.1,1705.7 897.6,1707.3 898.2,1707.3 898.8,1711.4 899.3,1706.9 899.9,1709.7 900.4,1702.8 901.0,1701.5 901.5,1709.9 902.0,1710.2 902.6,1707.8 903.1,1707.4 903.7,1707.6 904.2,1705.3 904.8,1712.0 905.4,1709.2 905.9,1708.4 906.5,1707.5 907.0,1709.1 907.5,1707.2 908.1,1707.8 908.6,1702.1 909.2,1707.0 909.8,1711.8 910.3,1703.1 910.9,1703.4 911.4,1705.2 912.0,1704.1 912.5,1697.3 913.0,1694.6 913.6,1695.6 914.1,1694.2 914.7,1694.6 915.2,1699.1 915.8,1696.4 916.4,1699.3 916.9,1705.6 917.5,1697.5 918.0,1696.2 918.5,1690.4 919.1,1690.7 919.6,1694.0 920.5,1694.8 921.3,1696.0 921.9,1696.8 922.4,1700.4 923.0,1699.6 923.5,1699.2 924.0,1699.7 924.6,1705.2 925.1,1704.0 925.7,1707.3 926.2,1707.9 926.8,1704.6 927.4,1708.4 927.9,1702.6 928.5,1714.0 929.0,1710.9 929.5,1706.8 930.1,1704.2 930.6,1709.1 931.2,1702.8 931.8,1706.6 932.3,1711.6 932.9,1709.8 933.4,1708.1 934.0,1712.2 934.5,1705.8 935.0,1709.3 935.6,1706.6 936.1,1705.2 936.7,1708.6 937.2,1703.7 937.8,1711.6 938.4,1703.3 938.9,1709.8 939.5,1699.0 940.0,1702.2 940.5,1694.6 941.1,1691.8 941.6,1693.8 942.2,1692.5 942.8,1683.4 943.3,1686.7 943.9,1675.8 944.4,1672.5 945.0,1665.6 945.5,1657.2 946.0,1639.8 946.6,1639.3 947.1,1625.8 947.7,1620.0 948.6,1613.4 949.4,1617.6 949.9,1621.1 950.5,1637.9 951.0,1646.6 951.5,1654.7 952.1,1665.7 952.6,1679.6 953.2,1680.1 953.8,1684.4 954.3,1694.1 954.9,1694.5 955.4,1695.5 956.0,1695.2 956.5,1693.4 957.0,1695.4 957.6,1698.0 958.1,1699.3 958.7,1701.6 959.2,1702.7 959.8,1702.1 960.4,1702.5 960.9,1699.1 961.5,1696.0 962.0,1701.4 962.5,1700.5 963.1,1701.7 963.6,1703.1 964.2,1700.3 964.8,1700.5 965.3,1703.0 965.9,1702.8 966.4,1699.0 967.0,1700.4 967.5,1695.5 968.0,1689.5 968.6,1688.1 969.1,1688.0 969.7,1673.7 970.2,1671.8 970.8,1664.6 971.4,1657.4 971.9,1644.0 972.7,1642.4 973.5,1644.8 974.1,1651.1 974.6,1657.6 975.2,1666.4 975.8,1670.7 976.3,1675.3 976.9,1684.6 977.4,1683.1 978.0,1686.2 978.5,1695.4 979.0,1698.3 979.6,1702.0 980.1,1697.2 980.7,1704.5 981.2,1702.7 981.8,1705.8 982.4,1695.5 982.9,1698.2 983.5,1694.9 984.0,1688.9 984.5,1689.4 985.1,1692.7 985.6,1685.6 986.2,1682.4 986.8,1684.3 987.3,1681.2 987.9,1676.9 988.4,1666.2 989.0,1662.2 989.5,1658.9 990.0,1647.8 990.6,1647.8 991.4,1646.6 992.2,1650.1 992.8,1647.7 993.4,1650.2 993.9,1661.3 994.5,1670.2 995.0,1679.7 995.5,1687.7 996.1,1689.9 996.6,1691.5 997.2,1696.1 997.8,1693.9 998.3,1697.3 998.9,1696.0 999.4,1706.3 1000.0,1701.3 1000.5,1697.1 1001.0,1697.5 1001.6,1700.0 1002.1,1696.9 1002.7,1699.8 1003.2,1699.6 1003.8,1704.3 1004.4,1700.5 1004.9,1700.0 1005.5,1699.6 1006.0,1701.6 1006.5,1706.5 1007.1,1707.2 1007.6,1711.9 1008.2,1706.5 1008.8,1710.7 1009.3,1707.1 1009.9,1705.2 1010.4,1698.5 1011.0,1700.3 1011.5,1706.4 1012.0,1708.4 1012.6,1704.8 1013.1,1706.3 1013.7,1702.5 1014.2,1702.1 1014.8,1700.6 1015.4,1704.8 1015.9,1702.1 1016.5,1699.5 1017.0,1698.2 1017.5,1698.6 1018.3,1697.7 1019.2,1696.8 1019.8,1701.7 1020.3,1697.4 1020.9,1696.9 1021.4,1701.5 1022.0,1700.1 1022.5,1696.5 1023.0,1697.9 1023.6,1692.2 1024.2,1692.4 1024.7,1686.3 1025.2,1695.6 1025.8,1684.9 1026.3,1691.4 1026.9,1685.7 1027.5,1686.1 1028.0,1685.3 1028.6,1684.8 1029.1,1685.0 1029.7,1686.3 1030.2,1689.5 1030.8,1691.3 1031.3,1686.6 1031.8,1689.4 1032.4,1685.8 1033.0,1681.1 1033.5,1678.7 1034.0,1675.8 1034.6,1673.8 1035.1,1673.4 1035.7,1674.2 1036.2,1677.1 1036.8,1681.2 1037.3,1677.3 1037.9,1683.6 1038.5,1692.5 1039.0,1681.5 1039.5,1688.9 1040.1,1694.3 1040.7,1688.6 1041.2,1702.9 1041.8,1688.9 1042.3,1702.5 1042.8,1704.1 1043.4,1702.8 1044.0,1699.5 1044.5,1700.7 1045.0,1696.2 1045.6,1700.4 1046.2,1693.8 1046.7,1695.7 1047.2,1699.0 1047.8,1692.4 1048.3,1694.4 1048.9,1695.7 1049.5,1690.5 1050.0,1696.8 1050.5,1692.7 1051.1,1685.2 1051.7,1687.5 1052.2,1682.8 1052.8,1680.1 1053.3,1678.7 1053.8,1671.7 1054.4,1671.2 1055.0,1659.6 1055.5,1657.2 1056.0,1645.7 1056.6,1639.2 1057.2,1625.4 1057.7,1616.1 1058.2,1605.6 1058.8,1601.7 1059.7,1596.5 1060.5,1601.0 1061.0,1611.2 1061.5,1616.7 1062.1,1624.8 1062.7,1636.3 1063.2,1644.1 1063.8,1656.7 1064.3,1662.2 1064.8,1662.8 1065.4,1668.3 1066.0,1678.6 1066.5,1678.9 1067.0,1680.4 1067.6,1687.6 1068.2,1685.4 1068.7,1687.8 1069.2,1688.8 1069.8,1685.1 1070.3,1693.9 1070.9,1687.8 1071.5,1689.7 1072.0,1689.4 1072.5,1694.2 1073.1,1692.5 1073.7,1693.7 1074.2,1689.8 1074.8,1695.5 1075.3,1692.0 1075.8,1697.6 1076.4,1697.6 1077.0,1696.1 1077.5,1701.8 1078.0,1696.8 1078.6,1696.7 1079.2,1695.2 1079.7,1694.1 1080.2,1697.6 1080.8,1698.0 1081.3,1690.7 1081.9,1697.5 1082.5,1695.4 1083.0,1696.3 1083.5,1694.1 1084.1,1688.0 1084.7,1686.9 1085.2,1694.4 1085.8,1687.9 1086.3,1681.0 1086.8,1684.4 1087.4,1680.4 1088.0,1674.1 1088.5,1670.8 1089.0,1671.1 1089.6,1672.7 1090.2,1671.1 1090.7,1670.3 1091.2,1670.8 1091.8,1671.7 1092.3,1666.4 1092.9,1673.3 1093.5,1673.5 1094.0,1674.1 1094.5,1677.7 1095.1,1680.0 1095.7,1680.1 1096.2,1676.6 1096.8,1679.1 1097.3,1686.1 1097.8,1676.2 1098.4,1673.6 1099.0,1678.8 1099.5,1679.1 1100.0,1677.8 1100.6,1671.8 1101.2,1676.8 1101.7,1669.9 1102.2,1669.6 1102.8,1668.3 1103.4,1667.8 1103.9,1668.7 1104.5,1669.9 1105.0,1670.2 1105.5,1674.6 1106.1,1673.6 1106.7,1677.6 1107.2,1672.1 1107.8,1672.9 1108.3,1680.8 1108.8,1674.6 1109.4,1677.5 1110.0,1677.1 1110.5,1676.7 1111.4,1676.4 1112.2,1678.7 1112.7,1669.6 1113.2,1681.4 1113.8,1687.5 1114.3,1682.7 1114.9,1684.6 1115.5,1688.7 1116.0,1693.7 1116.5,1685.9 1117.1,1690.5 1117.7,1690.0 1118.2,1692.4 1118.8,1691.1 1119.3,1692.5 1119.8,1689.1 1120.4,1690.4 1121.0,1688.2 1121.5,1688.0 1122.0,1689.3 1122.6,1689.2 1123.2,1685.9 1123.7,1693.8 1124.2,1688.3 1124.8,1684.2 1125.3,1691.2 1125.9,1685.1 1126.5,1688.4 1127.0,1686.4 1127.5,1684.4 1128.1,1683.9 1128.7,1683.2 1129.2,1683.8 1129.8,1685.7 1130.3,1681.3 1130.8,1688.9 1131.4,1690.4 1132.0,1686.2 1132.5,1685.1 1133.0,1695.2 1133.6,1686.7 1134.2,1692.9 1134.7,1686.9 1135.2,1684.4 1135.8,1684.6 1136.3,1684.4 1136.9,1685.6 1137.5,1683.2 1138.0,1682.2 1138.5,1681.9 1139.0,1682.8 1139.7,1682.6 1140.2,1680.4 1140.8,1682.4 1141.3,1686.4 1141.8,1684.5 1142.4,1686.1 1143.0,1684.8 1143.5,1687.1 1144.0,1689.0 1144.6,1690.4 1145.2,1687.2 1145.7,1693.2 1146.2,1686.8 1146.8,1696.6 1147.3,1689.7 1147.9,1687.5 1148.5,1683.2 1149.0,1674.4 1149.5,1680.2 1150.1,1678.8 1150.7,1681.4 1151.2,1668.9 1151.8,1676.4 1152.3,1667.8 1152.8,1669.2 1153.4,1664.6 1154.2,1665.8 1155.0,1666.4 1155.6,1671.5 1156.2,1672.1 1156.7,1670.5 1157.2,1678.5 1157.8,1679.0 1158.3,1679.6 1158.9,1681.6 1159.5,1682.6 1160.0,1679.9 1160.5,1676.4 1161.1,1676.6 1161.7,1684.6 1162.2,1682.2 1162.8,1679.6 1163.3,1677.0 1163.8,1677.3 1164.4,1676.3 1165.0,1674.3 1165.5,1672.2 1166.0,1679.4 1166.6,1672.1 1167.2,1668.0 1167.7,1664.3 1168.2,1666.1 1169.1,1666.3 1169.9,1667.1 1170.5,1668.3 1171.0,1671.3 1171.5,1672.6 1172.1,1672.3 1172.7,1681.2 1173.2,1679.4 1173.8,1686.3 1174.3,1676.8 1174.8,1678.7 1175.4,1681.7 1176.0,1678.4 1176.5,1675.3 1177.0,1677.2 1177.6,1681.0 1178.2,1682.5 1178.7,1681.8 1179.2,1685.6 1179.8,1685.7 1180.3,1683.5 1180.9,1682.3 1181.5,1681.1 1182.0,1682.7 1182.5,1682.9 1183.1,1679.1 1183.7,1678.9 1184.2,1675.2 1184.8,1670.6 1185.3,1670.6 1185.8,1674.9 1186.4,1673.2 1187.0,1675.9 1187.5,1670.4 1188.0,1671.5 1188.6,1670.9 1189.2,1667.2 1189.7,1659.2 1190.2,1656.8 1190.8,1653.7 1191.3,1645.7 1191.9,1644.9 1192.5,1640.4 1193.0,1628.7 1193.5,1627.4 1194.1,1610.3 1194.7,1598.3 1195.2,1584.0 1195.8,1567.0 1196.3,1554.1 1196.8,1537.4 1197.4,1526.8 1198.3,1517.0 1199.0,1522.1 1199.6,1528.2 1200.2,1538.0 1200.7,1557.1 1201.2,1570.2 1201.8,1590.0 1202.3,1599.7 1202.9,1615.4 1203.5,1621.0 1204.0,1627.3 1204.5,1629.1 1205.1,1630.6 1205.7,1631.9 1206.2,1628.7 1207.0,1629.6 1207.8,1636.7 1208.4,1649.2 1209.0,1646.7 1209.5,1651.7 1210.0,1655.4 1210.6,1657.6 1211.2,1669.2 1211.7,1668.8 1212.2,1671.7 1212.8,1677.9 1213.3,1681.0 1213.9,1671.5 1214.5,1677.8 1215.0,1676.8 1215.5,1676.3 1216.1,1676.6 1216.7,1674.9 1217.2,1679.5 1217.8,1676.3 1218.3,1675.3 1218.8,1677.9 1219.4,1676.7 1220.0,1675.3 1220.5,1674.5 1221.0,1678.1 1221.6,1673.3 1222.2,1670.3 1222.7,1666.6 1223.2,1671.4 1223.8,1670.4 1224.3,1671.1 1224.9,1671.3 1225.5,1670.0 1226.0,1668.6 1226.5,1671.5 1227.1,1671.0 1227.7,1668.4 1228.2,1675.9 1228.8,1671.0 1229.3,1670.6 1229.8,1672.1 1230.4,1676.4 1231.0,1680.1 1231.5,1680.9 1232.0,1677.8 1232.6,1672.8 1233.2,1673.2 1233.7,1671.2 1234.2,1672.0 1234.8,1666.0 1235.3,1670.5 1235.9,1670.8 1236.5,1666.9 1237.0,1666.8 1237.5,1660.5 1238.1,1656.4 1238.7,1656.0 1239.2,1658.3 1239.8,1654.4 1240.3,1645.9 1240.8,1646.1 1241.4,1635.9 1242.0,1634.5 1242.5,1623.0 1243.0,1610.0 1243.6,1601.2 1244.2,1581.6 1244.7,1563.7 1245.2,1542.8 1245.8,1527.3 1246.3,1505.8 1246.9,1488.5 1247.5,1475.4 1248.0,1472.1 1248.5,1475.1 1249.1,1487.3 1249.7,1506.9 1250.2,1526.6 1250.8,1542.8 1251.3,1554.8 1251.8,1574.9 1252.4,1593.5 1253.0,1604.8 1253.5,1620.8 1254.0,1621.6 1254.6,1635.7 1255.2,1638.3 1255.7,1649.2 1256.2,1648.6 1256.8,1654.2 1257.3,1650.5 1257.9,1648.9 1258.5,1649.8 1259.0,1651.0 1259.5,1649.0 1260.1,1654.7 1260.7,1654.0 1261.2,1649.7 1261.8,1644.9 1262.3,1646.7 1263.0,1645.5 1264.0,1648.2 1264.5,1651.5 1265.0,1653.3 1265.6,1651.1 1266.2,1645.5 1266.7,1647.5 1267.2,1643.7 1267.8,1644.6 1268.3,1639.6 1268.9,1632.5 1269.5,1629.8 1270.0,1631.7 1270.5,1628.1 1271.0,1628.2 1271.7,1631.2 1272.2,1634.4 1272.8,1641.0 1273.3,1649.6 1273.8,1658.4 1274.4,1652.2 1275.0,1661.2 1275.5,1664.3 1276.0,1666.2 1276.6,1667.8 1277.2,1668.8 1277.7,1674.0 1278.2,1670.5 1278.8,1672.5 1279.3,1674.1 1279.9,1675.6 1280.5,1676.0 1281.0,1680.6 1281.5,1678.4 1282.1,1679.5 1282.7,1679.0 1283.2,1676.1 1283.8,1676.4 1284.3,1675.6 1284.8,1679.3 1285.4,1676.8 1286.0,1676.2 1286.5,1680.7 1287.0,1682.2 1287.6,1676.0 1288.2,1687.0 1288.7,1682.5 1289.2,1682.4 1289.8,1686.0 1290.3,1683.0 1290.9,1680.9 1291.5,1689.2 1292.0,1679.4 1292.5,1682.5 1293.1,1685.7 1293.7,1680.4 1294.2,1683.8 1294.8,1685.5 1295.3,1691.7 1295.8,1681.8 1296.4,1684.3 1297.0,1686.4 1297.5,1684.6 1298.0,1680.9 1298.6,1685.7 1299.2,1684.8 1299.7,1685.6 1300.2,1687.3 1300.8,1686.5 1301.3,1684.2 1301.9,1683.4 1302.5,1678.8 1303.0,1681.4 1303.5,1682.1 1304.1,1679.7 1304.7,1680.7 1305.2,1677.2 1305.8,1683.6 1306.3,1685.0 1306.8,1677.4 1307.4,1680.1 1308.0,1678.8 1308.5,1683.7 1309.0,1681.5 1309.6,1680.1 1310.2,1678.4 1310.7,1678.1 1311.2,1673.0 1311.8,1673.3 1312.3,1671.3 1312.9,1671.8 1313.5,1671.6 1314.0,1672.9 1314.5,1672.8 1315.1,1677.0 1315.7,1672.1 1316.2,1677.4 1316.8,1675.4 1317.3,1677.1 1317.8,1677.4 1318.4,1680.7 1319.0,1672.6 1319.5,1680.3 1320.0,1675.3 1320.6,1683.6 1321.2,1673.9 1321.7,1676.2 1322.2,1673.3 1322.8,1682.0 1323.3,1672.0 1323.9,1675.1 1324.5,1672.4 1325.0,1667.9 1325.5,1673.7 1326.1,1673.9 1326.7,1672.9 1327.2,1673.8 1327.8,1673.1 1328.3,1671.7 1328.8,1670.9 1329.4,1673.4 1330.0,1678.6 1330.5,1674.7 1331.0,1675.1 1331.6,1673.6 1332.2,1674.0 1332.7,1681.0 1333.2,1673.3 1333.8,1673.8 1334.3,1676.1 1334.9,1675.0 1335.5,1681.9 1336.0,1668.8 1336.5,1676.9 1337.1,1677.8 1337.7,1671.9 1338.2,1672.5 1338.8,1674.4 1339.3,1676.4 1339.8,1667.2 1340.4,1663.7 1341.0,1669.8 1341.5,1669.7 1342.0,1662.1 1342.6,1654.0 1343.2,1662.0 1343.7,1653.6 1344.2,1653.8 1344.8,1646.5 1345.3,1642.2 1346.2,1640.0 1347.0,1642.8 1347.5,1648.5 1348.1,1640.9 1348.7,1648.0 1349.2,1659.6 1349.8,1656.3 1350.3,1655.9 1350.8,1662.0 1351.4,1663.2 1352.0,1664.5 1352.5,1664.3 1353.0,1665.7 1353.6,1666.3 1354.2,1669.8 1354.7,1667.6 1355.2,1670.3 1355.8,1671.7 1356.3,1676.8 1356.9,1674.6 1357.5,1673.5 1358.0,1675.8 1358.5,1675.9 1359.1,1678.3 1359.7,1676.9 1360.2,1681.0 1360.8,1679.6 1361.3,1672.0 1361.8,1671.2 1362.3,1671.6 1363.0,1670.4 1363.5,1670.1 1364.0,1664.4 1364.6,1661.9 1365.2,1667.1 1365.7,1667.0 1366.2,1665.7 1366.8,1657.8 1367.3,1662.7 1367.9,1655.2 1368.5,1654.4 1369.0,1650.1 1369.5,1641.3 1370.1,1636.1 1370.7,1630.7 1371.5,1625.5 1372.3,1622.9 1372.8,1624.4 1373.4,1623.0 1374.0,1624.5 1374.5,1620.4 1375.0,1613.4 1375.6,1610.5 1376.2,1600.7 1376.7,1594.2 1377.2,1582.0 1377.8,1565.1 1378.3,1554.0 1378.9,1540.2 1379.5,1526.5 1380.0,1519.6 1380.7,1515.4 1381.7,1521.9 1382.2,1531.3 1382.8,1539.2 1383.3,1560.0 1383.8,1572.9 1384.4,1580.5 1385.0,1599.1 1385.5,1609.6 1386.0,1613.6 1386.6,1621.2 1387.2,1624.4 1387.7,1633.2 1388.2,1628.8 1388.8,1633.9 1389.3,1641.4 1389.9,1635.5 1390.5,1635.7 1391.0,1631.9 1391.5,1625.9 1392.1,1625.4 1392.7,1621.6 1393.2,1611.0 1393.8,1607.2 1394.3,1600.4 1394.8,1588.5 1395.4,1566.9 1396.0,1552.8 1396.5,1532.3 1397.0,1519.5 1397.6,1495.6 1398.2,1473.9 1398.7,1451.5 1399.6,1438.4 1400.3,1448.9 1400.9,1466.2 1401.5,1484.9 1402.0,1511.0 1402.5,1535.0 1403.1,1554.2 1403.7,1568.4 1404.2,1580.7 1404.8,1599.3 1405.3,1611.4 1405.8,1619.2 1406.4,1626.2 1407.0,1631.7 1407.5,1641.2 1408.0,1643.3 1408.6,1647.6 1409.2,1647.4 1409.7,1651.1 1410.2,1655.6 1410.8,1653.6 1411.3,1653.8 1411.9,1657.2 1412.5,1662.3 1413.0,1659.7 1413.5,1664.3 1414.1,1660.3 1414.7,1660.7 1415.2,1658.2 1415.8,1661.4 1416.3,1668.1 1416.8,1664.9 1417.4,1666.2 1418.0,1666.2 1418.5,1664.0 1419.0,1663.5 1419.6,1664.3 1420.2,1665.5 1420.7,1663.8 1421.2,1662.5 1421.8,1659.7 1422.3,1654.8 1422.9,1654.3 1423.5,1649.7 1424.0,1652.9 1424.5,1639.7 1425.1,1641.8 1425.7,1645.6 1426.2,1631.9 1426.8,1623.7 1427.3,1621.1 1427.8,1619.0 1428.4,1608.1 1429.0,1604.8 1429.5,1600.0 1430.4,1596.6 1431.2,1601.6 1431.7,1600.7 1432.2,1604.3 1432.8,1611.2 1433.3,1621.2 1433.9,1628.3 1434.5,1636.0 1435.0,1639.8 1435.5,1639.7 1436.1,1650.0 1436.7,1650.7 1437.2,1653.7 1437.8,1652.4 1438.3,1657.8 1438.8,1659.5 1439.4,1663.8 1440.0,1660.8 1440.5,1666.9 1441.0,1667.7 1441.6,1664.0 1442.2,1665.6 1442.7,1664.9 1443.2,1671.0 1443.8,1660.8 1444.3,1669.2 1444.9,1666.5 1445.5,1672.0 1446.0,1677.3 1446.5,1673.1 1447.1,1675.5 1447.7,1671.3 1448.2,1679.1 1448.8,1674.1 1449.3,1673.4 1449.8,1664.4 1450.4,1664.7 1451.0,1671.6 1451.5,1664.7 1452.2,1664.1 1453.2,1665.0 1453.7,1663.9 1454.2,1670.4 1454.8,1667.4 1455.3,1668.5 1455.9,1664.4 1456.5,1668.3 1457.0,1664.2 1457.5,1669.7 1458.1,1669.6 1458.7,1667.6 1459.2,1664.2 1459.8,1661.7 1460.3,1646.9 1460.8,1654.7 1461.4,1646.2 1462.0,1642.1 1462.5,1634.9 1463.0,1624.8 1463.6,1621.4 1464.2,1618.5 1464.9,1616.5 1465.8,1618.4 1466.3,1619.7 1466.9,1633.9 1467.5,1632.8 1468.0,1649.5 1468.5,1648.5 1469.1,1650.2 1469.7,1660.5 1470.2,1666.0 1470.8,1657.4 1471.3,1669.3 1471.8,1664.3 1472.4,1671.4 1473.0,1665.8 1473.5,1662.5 1474.0,1670.2 1474.6,1672.0 1475.2,1676.2 1475.7,1675.2 1476.2,1672.2 1476.8,1669.7 1477.3,1669.5 1477.9,1671.3 1478.5,1670.5 1479.0,1673.4 1479.5,1666.6 1480.1,1677.1 1480.7,1677.3 1481.2,1686.9 1481.8,1680.7 1482.3,1676.0 1482.8,1678.7 1483.4,1671.1 1484.0,1671.3 1484.5,1664.5 1485.0,1673.4 1485.6,1667.9 1486.2,1659.3 1486.7,1661.2 1487.2,1661.4 1487.8,1660.0 1488.3,1659.8 1488.9,1659.4 1489.5,1661.1 1490.0,1664.3 1490.5,1669.6 1491.1,1665.5 1491.7,1666.1 1492.2,1675.5 1492.8,1669.0 1493.3,1676.9 1493.8,1674.6 1494.4,1677.7 1495.0,1681.8 1495.5,1679.2 1496.0,1680.6 1496.6,1675.4 1497.2,1676.7 1497.7,1681.8 1498.2,1685.1 1498.8,1684.9 1499.3,1688.7 1499.9,1682.3 1500.5,1682.9 1501.0,1686.9 1501.5,1684.4 1502.1,1685.0 1502.7,1681.9 1503.2,1689.2 1503.8,1681.2 1504.3,1685.9 1504.8,1678.0 1505.4,1686.6 1506.0,1679.2 1506.5,1686.9 1507.0,1679.7 1507.6,1685.6 1508.2,1693.2 1508.7,1687.6 1509.2,1691.6 1509.8,1689.8 1510.3,1682.6 1510.9,1691.0 1511.5,1690.1 1512.0,1683.3 1512.5,1688.3 1513.1,1682.3 1513.7,1680.8 1514.2,1683.8 1514.8,1680.9 1515.3,1691.7 1515.8,1678.1 1516.4,1686.7 1517.0,1687.8 1517.5,1677.0 1518.0,1677.5 1518.6,1685.2 1519.2,1680.7 1519.7,1683.1 1520.2,1685.0 1520.8,1679.0 1521.3,1676.1 1521.9,1669.9 1522.5,1680.4 1523.0,1676.2 1523.5,1680.8 1524.1,1680.4 1524.7,1674.5 1525.2,1685.5 1525.8,1682.9 1526.3,1681.5 1526.8,1673.4 1527.4,1675.3 1528.0,1673.7 1528.5,1673.0 1529.0,1674.2 1530.0,1675.2 1530.7,1675.2 1531.2,1673.8 1531.8,1671.3 1532.3,1678.9 1532.9,1676.5 1533.5,1667.6 1534.0,1676.8 1534.5,1680.4 1535.1,1685.5 1535.7,1682.0 1536.2,1682.9 1536.8,1681.9 1537.3,1687.0 1537.8,1683.3 1538.4,1683.2 1539.0,1683.2 1539.5,1688.4 1540.0,1685.1 1540.6,1681.6 1541.2,1690.5 1541.7,1686.2 1542.2,1690.3 1542.8,1690.3 1543.3,1693.1 1543.9,1692.5 1544.5,1686.7 1545.0,1688.2 1545.5,1684.2 1546.1,1694.9 1546.7,1690.2 1547.2,1693.3 1547.8,1686.6 1548.3,1679.9 1548.8,1692.7 1549.4,1687.5 1550.0,1687.7 1550.5,1687.7 1551.0,1690.0 1551.6,1689.5 1552.2,1681.3 1552.7,1690.4 1553.2,1683.7 1553.8,1682.9 1554.3,1689.9 1554.9,1686.1 1555.5,1680.7 1556.0,1674.2 1556.5,1680.2 1557.1,1680.0 1557.7,1675.9 1558.2,1669.6 1558.8,1668.9 1559.3,1665.1 1559.8,1668.5 1560.4,1670.3 1561.0,1669.5 1561.5,1667.5 1562.0,1668.4 1562.6,1669.2 1563.2,1668.0 1563.7,1671.0 1564.2,1680.6 1564.8,1674.4 1565.3,1676.9 1565.9,1671.8 1566.5,1672.9 1567.0,1665.5 1567.5,1670.5 1568.1,1673.7 1568.7,1675.9 1569.2,1671.7 1569.8,1666.7 1570.7,1665.8 1571.4,1665.9 1572.0,1667.0 1572.5,1670.9 1573.0,1667.2 1573.6,1674.7 1574.2,1668.8 1574.7,1666.8 1575.2,1670.7 1575.8,1669.5 1576.3,1671.9 1576.9,1682.2 1577.5,1678.4 1578.0,1680.7 1578.5,1684.5 1579.1,1685.1 1579.7,1678.8 1580.2,1685.4 1580.8,1681.9 1581.3,1680.8 1581.8,1682.8 1582.4,1676.5 1583.0,1679.1 1583.5,1681.9 1584.0,1684.7 1584.6,1681.0 1585.2,1681.5 1585.7,1684.9 1586.2,1686.0 1586.8,1683.3 1587.3,1684.9 1587.9,1678.9 1588.5,1679.4 1589.0,1681.7 1589.5,1679.4 1590.1,1678.6 1590.7,1686.2 1591.2,1678.7 1591.8,1674.9 1592.3,1678.8 1592.8,1682.2 1593.4,1674.1 1594.0,1676.3 1594.5,1668.0 1595.0,1665.3 1595.6,1662.2 1596.2,1661.6 1596.7,1666.4 1597.2,1653.4 1597.8,1661.8 1598.3,1653.6 1598.9,1652.7 1599.4,1652.6 1600.0,1651.7 1600.5,1651.1 1601.1,1645.4 1601.7,1652.5 1602.2,1647.1 1602.8,1659.5 1603.3,1648.0 1603.8,1647.7 1604.4,1640.5 1605.0,1640.0 1605.5,1633.4 1606.0,1637.9 1606.6,1629.8 1607.2,1629.9 1607.7,1626.3 1608.6,1625.4 1609.3,1629.3 1609.9,1628.4 1610.5,1629.6 1611.0,1642.3 1611.5,1641.2 1612.1,1648.1 1612.7,1657.1 1613.2,1654.4 1613.8,1663.9 1614.3,1661.2 1614.8,1671.9 1615.4,1674.0 1616.0,1670.0 1616.5,1673.3 1617.0,1673.1 1617.6,1678.5 1618.2,1683.1 1618.7,1674.1 1619.2,1682.6 1619.8,1673.8 1620.3,1674.7 1620.9,1670.5 1621.5,1684.1 1622.0,1676.5 1622.5,1677.3 1623.1,1674.3 1623.7,1681.3 1624.2,1670.7 1624.8,1679.4 1625.3,1688.3 1625.8,1679.6 1626.4,1681.4 1627.0,1684.0 1627.5,1678.5 1628.0,1681.4 1628.6,1684.8 1629.2,1682.1 1629.7,1683.1 1630.2,1681.0 1630.8,1684.3 1631.3,1684.5 1631.9,1690.9 1632.5,1689.5 1633.0,1687.0 1633.5,1679.7 1634.1,1691.5 1634.7,1691.5 1635.2,1684.8 1635.8,1679.9 1636.3,1681.8 1636.8,1688.1 1637.4,1679.6 1638.0,1680.8 1638.5,1682.7 1639.0,1686.0 1639.6,1681.3 1640.2,1680.9 1640.7,1679.1 1641.2,1686.9 1641.8,1684.4 1642.3,1679.5 1642.9,1673.9 1643.5,1675.3 1644.0,1679.4 1644.5,1673.7 1645.1,1678.6 1645.7,1675.8 1646.2,1674.7 1646.8,1675.0 1647.3,1673.1 1647.8,1669.3 1648.4,1668.8 1648.9,1670.9 1649.5,1667.9 1650.0,1669.5 1650.6,1674.0 1651.2,1670.9 1651.7,1670.0 1652.2,1669.8 1652.8,1678.1 1653.3,1681.2 1653.9,1683.5 1654.5,1679.7 1655.0,1684.7 1655.5,1678.7 1656.1,1684.6 1656.7,1682.7 1657.2,1686.3 1657.8,1688.4 1658.3,1688.9 1658.8,1680.1 1659.4,1686.7 1660.0,1678.5 1660.5,1674.9 1661.0,1677.0 1661.6,1671.7 1662.2,1677.0 1662.7,1678.2 1663.2,1676.7 1663.8,1679.6 1664.3,1676.3 1664.9,1677.1 1665.5,1671.2 1666.0,1675.7 1666.5,1672.6 1667.3,1672.6 1668.2,1673.3 1668.8,1676.6 1669.3,1670.7 1669.8,1671.7 1670.4,1676.8 1671.0,1679.9 1671.5,1679.5 1672.0,1681.4 1672.6,1683.0 1673.2,1680.2 1673.7,1678.8 1674.2,1675.7 1674.8,1676.5 1675.3,1678.2 1675.9,1680.3 1676.5,1678.8 1677.0,1676.1 1677.5,1673.2 1678.1,1673.4 1678.7,1669.2 1679.2,1667.1 1679.8,1664.9 1680.3,1659.7 1680.8,1656.0 1681.4,1659.5 1682.0,1656.9 1682.5,1652.3 1683.0,1649.5 1683.6,1654.8 1684.5,1651.1 1685.2,1652.5 1685.8,1652.8 1686.3,1650.7 1686.9,1659.1 1687.5,1669.2 1688.0,1669.9 1688.5,1672.3 1689.1,1675.0 1689.7,1675.5 1690.2,1680.1 1690.8,1676.9 1691.3,1676.4 1691.8,1678.7 1692.4,1682.3 1693.0,1681.0 1693.5,1683.2 1694.0,1674.3 1694.6,1686.8 1695.2,1691.3 1695.7,1687.4 1696.2,1680.6 1696.8,1677.7 1697.3,1680.8 1697.9,1675.3 1698.5,1681.4 1699.0,1677.2 1699.5,1678.8 1700.1,1679.2 1700.7,1676.2 1701.2,1678.5 1701.8,1678.0 1702.3,1674.6 1702.8,1676.8 1703.4,1677.8 1704.0,1682.4 1704.5,1673.6 1705.0,1684.1 1705.6,1689.3 1706.2,1685.8 1706.7,1687.4 1707.2,1686.9 1707.8,1683.9 1708.3,1691.1 1708.9,1691.1 1709.5,1692.7 1710.0,1699.5 1710.5,1692.8 1711.1,1691.7 1711.7,1695.9 1712.2,1685.3 1712.8,1686.2 1713.3,1689.0 1713.8,1687.7 1714.4,1692.1 1715.0,1687.6 1715.5,1694.3 1716.0,1692.7 1716.6,1689.1 1717.2,1684.1 1717.7,1687.1 1718.2,1687.1 1718.8,1679.5 1719.3,1683.7 1719.9,1683.6 1720.5,1680.2 1721.0,1683.7 1721.5,1681.3 1722.1,1680.0 1723.0,1680.8 1723.8,1680.7 1724.3,1683.3 1724.8,1681.1 1725.4,1690.8 1726.0,1691.5 1726.5,1695.7 1727.0,1692.8 1727.6,1688.7 1728.2,1700.6 1728.7,1693.2 1729.2,1698.4 1729.8,1694.4 1730.3,1694.8 1730.9,1698.7 1731.5,1693.1 1732.0,1697.0 1732.5,1686.7 1733.1,1695.9 1733.7,1692.3 1734.2,1693.2 1734.8,1694.0 1735.3,1695.5 1735.8,1700.5 1736.4,1687.5 1737.0,1694.4 1737.5,1691.4 1738.0,1698.4 1738.6,1692.7 1739.2,1696.1 1739.7,1692.8 1740.2,1696.2 1740.8,1696.6 1741.3,1690.2 1741.9,1690.6 1742.5,1684.0 1743.0,1689.2 1743.5,1689.8 1744.1,1683.5 1744.7,1688.7 1745.2,1682.6 1745.9,1682.5 1746.8,1683.5 1747.4,1682.0 1748.0,1684.8 1748.5,1685.9 1749.0,1687.6 1749.6,1692.3 1750.2,1689.5 1750.7,1687.9 1751.2,1689.1 1751.8,1702.3 1752.3,1686.4 1752.9,1694.8 1753.5,1701.3 1754.0,1698.2 1754.5,1693.9 1755.1,1697.7 1755.7,1701.6 1756.2,1703.5 1756.8,1696.2 1757.3,1702.5 1757.8,1700.5 1758.4,1703.1 1759.0,1703.1 1759.5,1695.3 1760.0,1689.8 1760.6,1695.2 1761.2,1699.0 1761.7,1694.0 1762.2,1691.9 1762.8,1699.8 1763.3,1687.2 1763.9,1694.3 1764.5,1688.6 1765.0,1690.1 1765.5,1689.2 1766.1,1689.7 1767.0,1686.9 1767.8,1687.6 1768.3,1680.8 1768.8,1689.7 1769.4,1688.1 1770.0,1693.6 1770.5,1690.2 1771.0,1694.5 1771.6,1700.9 1772.2,1696.9 1772.7,1700.0 1773.2,1699.5 1773.8,1696.0 1774.3,1691.4 1774.9,1700.9 1775.5,1698.3 1776.0,1702.0 1776.5,1691.5 1777.1,1693.3 1777.7,1691.8 1778.2,1696.5 1778.8,1703.6 1779.3,1701.8 1779.8,1699.8 1780.4,1700.7 1781.0,1703.2 1781.5,1699.4 1782.0,1702.1 1782.6,1701.3 1783.2,1692.9 1783.7,1700.0 1784.2,1706.9 1784.8,1700.9 1785.3,1702.3 1785.9,1700.9 1786.5,1701.3 1787.0,1706.9 1787.5,1701.0 1788.1,1697.1 1788.7,1688.4 1789.2,1696.9 1789.8,1691.2 1790.3,1691.4 1790.8,1700.9 1791.4,1700.6 1792.0,1691.1 1792.5,1701.8 1793.0,1700.9 1793.6,1696.9 1794.2,1703.0 1794.7,1694.6 1795.2,1696.5 1795.8,1695.8 1796.3,1697.2 1796.9,1704.8 1797.5,1696.9 1798.0,1697.9 1798.5,1698.9 1799.1,1703.3 1799.7,1701.2 1800.2,1705.2 1800.8,1698.6 1801.3,1695.5 1801.8,1697.7 1802.4,1699.3 1803.0,1695.6 1803.5,1700.2 1804.0,1701.3 1805.0,1699.1 1805.7,1699.8 1806.2,1704.6 1806.8,1696.8 1807.3,1695.5 1807.9,1694.0 1808.5,1699.2 1809.0,1699.6 1809.5,1697.6 1810.1,1699.0 1810.7,1704.3 1811.2,1703.6 1811.8,1696.0 1812.3,1701.9 1812.8,1702.9 1813.4,1705.6 1814.0,1702.4 1814.5,1701.0 1815.0,1701.7 1815.6,1696.7 1816.2,1702.9 1816.7,1700.4 1817.2,1703.9 1817.8,1698.1 1818.3,1700.0 1818.9,1697.8 1819.5,1697.3 1820.0,1703.8 1820.5,1699.6 1821.1,1703.2 1821.7,1697.4 1822.2,1701.6 1822.8,1694.5 1823.3,1698.6 1823.8,1698.3 1824.4,1702.0 1825.0,1700.4 1825.5,1699.3 1826.0,1703.6 1826.6,1702.1 1827.2,1704.3 1827.7,1706.0 1828.2,1703.4 1828.8,1702.6 1829.3,1704.7 1829.9,1701.7 1830.5,1704.4 1831.0,1701.5 1831.5,1701.0 1832.0,1699.8 1832.7,1699.1 1833.2,1701.1 1833.8,1700.2 1834.3,1704.0 1834.8,1697.8 1835.4,1698.0 1836.0,1701.3 1836.5,1697.2 1837.0,1699.2 1837.6,1707.4 1838.2,1708.0 1838.7,1706.3 1839.2,1706.3 1839.8,1702.7 1840.3,1708.9 1840.9,1707.3 1841.5,1708.0 1842.0,1705.1 1842.5,1706.7 1843.1,1705.9 1843.7,1707.7 1844.2,1711.9 1844.8,1707.8 1845.3,1700.0 1845.8,1702.2 1846.4,1699.4 1847.0,1701.9 1847.5,1706.7 1848.0,1706.3 1848.6,1703.0 1849.2,1706.6 1849.7,1703.1 1850.2,1700.6 1850.8,1700.0 1851.3,1700.8 1851.9,1707.8 1852.5,1696.3 1853.0,1705.0 1853.5,1705.0 1854.1,1699.6 1854.7,1700.6 1855.2,1699.0 1855.8,1701.5 1856.3,1703.9 1856.8,1700.9 1857.4,1703.5 1858.0,1702.9 1858.5,1698.6 1859.0,1697.6 1859.6,1695.3 1860.2,1696.1 1860.7,1689.9 1861.2,1691.1 1861.8,1690.3 1862.3,1688.9 1862.9,1691.7 1863.5,1689.1 1864.0,1686.2 1864.5,1690.5 1865.1,1682.7 1865.7,1687.6 1866.2,1685.7 1866.8,1688.7 1867.3,1692.9 1867.8,1695.7 1868.4,1699.8 1869.0,1699.9 1869.5,1702.5 1870.0,1701.2 1870.6,1697.8 1871.2,1703.9 1871.7,1697.8 1872.2,1696.8 1872.8,1704.0 1873.3,1700.5 1873.9,1697.6 1874.5,1698.9 1875.0,1698.9 1875.5,1696.1 1876.4,1697.3 1877.2,1696.9 1877.8,1698.0 1878.3,1696.0 1878.8,1704.5 1879.4,1702.1 1880.0,1697.8 1880.5,1701.4 1881.0,1697.4 1881.6,1702.4 1882.2,1704.7 1882.7,1704.1 1883.2,1696.5 1883.8,1702.9 1884.3,1706.5 1884.9,1706.0 1885.5,1709.3 1886.0,1700.2 1886.5,1707.2 1887.1,1703.2 1887.7,1707.1 1888.2,1708.9 1888.8,1710.8 1889.3,1706.9 1889.8,1710.3 1890.4,1705.8 1891.0,1705.3 1891.5,1713.0 1892.0,1710.9 1892.6,1705.3 1893.2,1708.5 1893.7,1712.0 1894.2,1717.9 1894.8,1715.8 1895.3,1714.3 1895.9,1703.9 1896.5,1709.3 1897.0,1710.5 1897.5,1709.2 1898.1,1708.2 1898.7,1705.0 1899.2,1712.1 1899.8,1711.1 1900.3,1705.6 1900.8,1702.6 1901.4,1714.2 1902.0,1704.5 1902.5,1710.7 1903.0,1712.7 1903.6,1701.1 1904.2,1704.7 1904.7,1701.2 1905.2,1703.3 1905.8,1701.4 1906.3,1706.4 1906.9,1701.0 1907.5,1699.9 1908.0,1701.0 1908.5,1700.2 1909.1,1701.0 1909.7,1712.0 1910.2,1703.3 1910.8,1707.0 1911.3,1711.0 1911.8,1708.0 1912.4,1704.4 1913.0,1716.1 1913.5,1708.7 1914.0,1709.0 1914.6,1709.2 1915.2,1706.6 1915.7,1706.5 1916.2,1711.7 1916.8,1720.9 1917.3,1715.7 1917.9,1716.6 1918.5,1708.9 1919.0,1714.8 1919.5,1710.5 1920.1,1717.7 1920.7,1713.7" fill="none" stroke="#0000ff" stroke-width="6" stroke-linejoin="round" stroke-linecap="round" />
<polyline points="269.0,1895.1 270.1,1894.4 271.2,1893.9 272.3,1894.5 273.4,1893.4 274.5,1894.2 275.6,1894.2 276.7,1893.8 277.8,1894.2 278.9,1893.1 280.0,1894.4 281.1,1892.9 282.2,1894.4 283.3,1894.3 284.4,1894.5 285.5,1893.4 286.6,1896.5 287.7,1893.7 288.8,1894.0 289.9,1893.3 291.0,1895.1 292.1,1893.5 293.2,1894.8 294.3,1893.1 295.4,1894.2 296.5,1893.6 297.6,1894.7 298.7,1893.7 299.8,1893.2 300.9,1894.3 302.0,1892.9 303.1,1893.1 304.2,1894.6 305.3,1892.3 306.4,1894.6 307.5,1893.6 308.6,1893.1 309.7,1894.1 310.8,1894.4 311.9,1893.4 313.0,1893.8 314.1,1894.6 315.2,1894.5 316.3,1893.9 317.4,1893.2 318.5,1893.1 319.6,1893.4 320.7,1894.5 321.8,1894.4 322.9,1894.2 324.0,1895.1 325.1,1893.6 326.2,1893.6 327.3,1893.6 328.4,1895.5 329.5,1892.1 330.6,1894.1 331.7,1894.3 332.8,1893.9 333.9,1895.9 335.0,1894.9 336.1,1894.5 337.2,1893.1 338.3,1894.3 339.4,1893.6 340.5,1893.9 341.6,1894.1 342.7,1893.5 343.8,1894.4 344.9,1895.3 346.0,1894.8 347.1,1894.1 348.2,1892.3 349.3,1894.8 350.4,1894.8 351.5,1893.7 352.6,1893.5 353.7,1894.4 354.8,1893.2 355.9,1894.6 357.0,1893.0 358.1,1893.1 359.2,1893.9 360.3,1892.7 361.4,1893.9 362.5,1894.3 363.6,1892.8 364.7,1894.7 365.8,1893.4 366.9,1894.3 368.0,1894.1 369.1,1893.5 370.2,1893.4 371.3,1892.4 372.4,1893.3 373.5,1893.2 374.6,1895.3 375.7,1894.7 376.8,1892.7 377.9,1894.5 379.0,1894.1 380.1,1893.5 381.2,1894.3 382.3,1894.5 383.4,1893.4 384.5,1893.6 385.6,1894.0 386.7,1893.0 387.8,1894.0 388.9,1893.8 390.0,1893.3 391.1,1893.1 392.2,1894.1 393.3,1894.6 394.4,1894.1 395.5,1893.1 396.6,1894.5 397.7,1894.0 398.8,1894.4 399.9,1894.8 401.0,1893.1 402.1,1893.7 403.2,1893.3 404.3,1893.1 405.4,1895.5 406.5,1894.6 407.6,1892.4 408.7,1894.2 409.8,1893.4 410.9,1894.8 412.0,1893.9 413.1,1893.7 414.2,1894.0 415.3,1894.2 416.4,1893.9 417.5,1893.6 418.6,1893.7 419.7,1894.3 420.8,1892.9 421.9,1893.8 423.0,1893.7 424.1,1893.4 425.2,1894.4 426.3,1892.7 427.4,1893.5 428.5,1893.1 429.6,1894.3 430.7,1893.4 431.8,1893.9 432.9,1894.1 434.0,1892.5 435.1,1894.2 436.2,1893.2 437.3,1893.6 438.4,1893.7 439.5,1894.5 440.6,1894.4 441.7,1895.3 442.8,1893.9 443.9,1893.4 445.0,1893.4 446.1,1894.3 447.2,1895.1 448.3,1894.1 449.4,1893.3 450.5,1894.0 451.6,1894.0 452.7,1893.8 453.8,1893.2 454.9,1891.6 456.0,1893.3 457.1,1894.7 458.2,1894.0 459.3,1891.9 460.4,1893.8 461.5,1892.2 462.6,1895.4 463.7,1893.9 464.8,1892.8 465.9,1894.4 467.0,1893.1 468.1,1894.2 469.2,1893.8 470.3,1892.8 471.4,1894.3 472.5,1892.6 473.6,1894.9 474.7,1893.8 475.8,1892.9 476.9,1892.2 478.0,1895.1 479.1,1895.0 480.2,1892.7 481.3,1895.1 482.4,1893.9 483.5,1893.5 484.6,1893.6 485.7,1893.5 486.8,1894.9 487.9,1893.8 489.0,1892.2 490.1,1895.5 491.2,1894.4 492.3,1892.8 493.4,1893.4 494.5,1892.9 495.6,1893.7 496.7,1894.0 497.8,1893.9 498.9,1893.2 500.0,1893.0 501.1,1894.4 502.2,1893.6 503.3,1895.5 504.4,1892.9 505.5,1894.3 506.6,1893.7 507.7,1893.0 508.8,1894.7 509.9,1893.7 511.0,1892.8 512.1,1893.3 513.2,1894.4 514.3,1892.5 515.4,1894.7 516.5,1894.1 517.6,1893.2 518.7,1894.6 519.8,1894.9 520.9,1893.9 522.0,1893.5 523.1,1894.8 524.2,1894.5 525.3,1892.3 526.4,1892.8 527.5,1892.7 528.6,1892.4 529.7,1891.3 530.8,1893.0 531.9,1891.9 533.0,1891.2 534.1,1891.4 535.2,1888.1 536.3,1886.2 537.4,1883.4 538.5,1880.3 539.1,1879.9 539.6,1880.4 540.7,1882.9 541.8,1887.1 542.9,1887.8 544.0,1890.2 545.1,1889.8 546.2,1891.6 547.3,1891.5 548.4,1893.6 549.5,1893.3 550.6,1893.2 551.7,1894.5 552.8,1894.2 553.9,1893.7 555.0,1892.5 556.1,1891.9 557.2,1893.2 558.3,1892.9 559.4,1892.7 560.5,1893.0 561.6,1891.9 562.7,1894.5 563.8,1892.3 564.9,1892.7 566.0,1893.8 567.1,1891.9 568.2,1894.0 569.3,1894.0 570.4,1893.0 571.5,1892.3 572.6,1892.8 573.7,1891.6 574.8,1894.3 575.9,1893.2 577.0,1892.5 578.1,1892.3 579.2,1893.5 580.3,1894.3 581.4,1891.9 582.5,1892.4 583.6,1891.4 584.7,1893.4 585.8,1892.9 586.9,1894.6 588.0,1892.5 589.1,1892.1 590.2,1891.7 591.3,1892.9 592.4,1890.7 593.5,1892.5 594.6,1891.8 595.7,1890.9 596.8,1890.2 597.9,1891.5 599.0,1891.7 600.1,1889.1 601.2,1889.0 602.3,1889.0 603.4,1885.4 604.5,1883.5 605.6,1879.4 606.7,1875.2 607.8,1866.8 608.9,1852.9 610.0,1832.3 611.1,1809.7 612.0,1801.0 613.3,1817.0 614.4,1841.6 615.5,1858.5 616.6,1869.7 617.7,1878.0 618.8,1882.3 619.9,1884.0 621.0,1886.0 622.1,1888.5 623.2,1889.2 624.3,1889.0 625.4,1890.5 626.5,1890.7 627.6,1892.1 628.7,1890.7 629.8,1892.5 630.9,1892.3 632.0,1891.2 633.1,1893.2 634.2,1893.2 635.3,1891.4 636.4,1894.3 637.5,1891.7 638.6,1892.0 639.7,1892.5 640.8,1893.5 641.9,1893.4 643.0,1892.9 644.1,1894.2 645.2,1893.4 646.3,1894.3 647.4,1895.6 648.5,1893.3 649.6,1891.0 650.7,1892.8 651.8,1892.3 652.9,1893.3 654.0,1893.4 655.1,1892.2 656.2,1892.3 657.3,1893.1 658.4,1893.2 659.5,1891.1 660.6,1894.2 661.7,1893.4 662.8,1893.4 663.9,1893.6 665.0,1892.5 666.1,1893.4 667.2,1894.3 668.3,1894.3 669.4,1893.8 670.5,1893.2 671.6,1892.7 672.7,1894.6 673.8,1893.9 674.9,1893.1 676.0,1891.6 677.1,1892.7 678.2,1891.8 679.3,1894.6 680.4,1893.6 681.5,1892.8 682.6,1893.2 683.7,1895.7 684.8,1894.5 685.9,1892.3 687.0,1893.4 688.1,1892.4 689.2,1892.0 690.3,1893.6 691.4,1895.6 692.5,1894.9 693.6,1893.5 694.7,1893.2 695.8,1893.7 696.9,1894.4 698.0,1892.2 699.1,1891.9 700.2,1895.2 701.3,1893.7 702.4,1894.9 703.5,1893.7 704.6,1894.8 705.7,1893.0 706.8,1893.9 707.9,1894.9 709.0,1894.4 710.1,1893.1 711.2,1894.3 712.3,1892.9 713.4,1892.2 714.5,1894.0 715.6,1894.8 716.7,1894.3 717.8,1892.4 718.9,1894.3 720.0,1894.1 721.1,1893.1 722.2,1891.3 723.3,1894.4 724.4,1894.3 725.5,1894.0 726.6,1892.0 727.7,1892.2 728.8,1894.4 729.9,1894.2 731.0,1893.9 732.1,1893.3 733.2,1893.9 734.3,1893.0 735.4,1893.2 736.5,1892.7 737.6,1893.7 738.7,1893.1 739.8,1894.4 740.9,1894.1 742.0,1892.8 743.1,1895.1 744.2,1892.5 745.3,1893.9 746.4,1894.5 747.5,1894.7 748.6,1891.5 749.7,1894.4 750.8,1894.6 751.9,1894.8 753.0,1891.5 754.1,1892.9 755.2,1893.4 756.3,1893.1 757.4,1894.7 758.5,1892.9 759.6,1894.6 760.7,1894.0 761.8,1892.2 762.9,1892.6 764.0,1893.1 765.1,1893.6 766.2,1894.4 767.3,1893.3 768.4,1894.3 769.5,1892.1 770.6,1890.7 771.7,1893.2 772.8,1893.9 773.9,1893.2 775.0,1892.6 776.1,1893.9 777.2,1895.2 778.3,1893.4 779.4,1892.8 780.5,1892.7 781.6,1895.3 782.7,1893.4 783.8,1894.0 784.9,1894.6 786.0,1894.4 787.1,1892.6 788.2,1894.3 789.3,1894.2 790.4,1893.9 791.5,1894.4 792.6,1893.0 793.7,1893.4 794.8,1893.0 795.9,1894.2 797.0,1892.9 798.1,1893.8 799.2,1892.5 800.3,1893.4 801.4,1893.1 802.5,1893.3 803.6,1893.5 804.7,1893.2 805.8,1893.2 806.9,1891.5 808.0,1894.4 809.1,1892.8 810.2,1893.1 811.3,1892.6 812.4,1894.2 813.5,1892.5 814.6,1893.8 815.7,1894.3 816.8,1894.8 817.9,1894.3 819.0,1893.8 820.1,1892.2 821.2,1894.4 822.3,1894.3 823.4,1894.0 824.5,1893.9 825.6,1893.2 826.7,1892.7 827.8,1894.1 828.9,1894.3 830.0,1892.2 831.1,1893.9 832.2,1893.3 833.3,1893.9 834.4,1893.3 835.5,1894.1 836.6,1894.0 837.7,1893.8 838.8,1891.8 839.9,1893.8 841.0,1893.1 842.1,1892.0 843.2,1893.6 844.3,1891.7 845.4,1893.8 846.5,1894.5 847.6,1892.5 848.7,1893.7 849.8,1893.3 850.9,1893.5 852.0,1891.7 853.1,1893.4 854.2,1893.0 855.3,1893.5 856.4,1892.8 857.5,1893.8 858.6,1893.1 859.7,1893.4 860.8,1894.0 861.9,1892.9 863.0,1893.7 864.1,1893.0 865.2,1893.2 866.3,1892.3 867.4,1893.4 868.5,1893.8 869.6,1892.6 870.7,1893.4 871.8,1893.1 872.9,1891.7 874.0,1893.0 875.1,1893.8 876.2,1892.2 877.3,1891.0 878.4,1892.8 879.5,1892.0 880.6,1894.3 881.7,1892.5 882.8,1892.5 883.9,1892.0 885.0,1892.7 886.1,1892.0 887.2,1891.7 888.3,1892.4 889.4,1891.8 890.5,1893.6 891.6,1891.4 892.7,1892.4 893.8,1891.8 894.9,1891.2 896.0,1893.9 897.1,1890.5 898.2,1893.7 899.3,1891.1 900.4,1892.4 901.5,1894.3 902.6,1890.4 903.7,1891.1 904.8,1893.5 905.9,1892.4 907.0,1891.8 908.1,1892.2 909.2,1891.4 910.3,1892.3 911.4,1893.5 912.5,1891.9 913.6,1892.3 914.7,1893.2 915.8,1893.9 916.9,1891.6 918.0,1892.4 919.1,1891.6 920.2,1891.5 921.3,1891.7 922.4,1891.5 923.5,1890.5 924.6,1890.3 925.7,1891.4 926.8,1892.2 927.9,1893.1 929.0,1891.5 930.1,1891.8 931.2,1892.6 932.3,1892.6 933.4,1891.9 934.5,1891.9 935.6,1893.6 936.7,1891.6 937.8,1891.5 938.9,1890.5 940.0,1892.3 941.1,1891.6 942.2,1893.5 943.3,1891.5 944.4,1892.5 945.5,1892.6 946.6,1893.2 947.7,1890.6 948.8,1893.1 949.9,1891.8 951.0,1891.7 952.1,1891.5 953.2,1891.4 954.3,1891.4 955.4,1889.6 956.5,1892.1 957.6,1891.7 958.7,1890.8 959.8,1891.6 960.9,1893.6 962.0,1891.9 963.1,1891.3 964.2,1893.1 965.3,1890.9 966.4,1891.4 967.5,1891.1 968.6,1891.3 969.7,1892.2 970.8,1892.0 971.9,1890.8 973.0,1891.4 974.1,1891.5 975.2,1891.1 976.3,1891.4 977.4,1890.8 978.5,1890.8 979.6,1891.4 980.7,1890.5 981.8,1891.7 982.9,1891.2 984.0,1890.5 985.1,1890.8 986.2,1890.9 987.3,1891.1 988.4,1891.4 989.5,1891.1 990.6,1890.5 991.7,1892.5 992.8,1892.0 993.9,1891.3 995.0,1892.0 996.1,1891.4 997.2,1890.9 998.3,1891.2 999.4,1893.4 1000.5,1891.9 1001.6,1892.0 1003.0,1890.9 1003.8,1891.1 1004.9,1893.0 1006.0,1891.4 1007.1,1891.9 1008.2,1892.0 1009.3,1891.5 1010.4,1892.3 1011.5,1891.1 1012.6,1891.3 1013.7,1890.2 1014.8,1893.1 1015.9,1891.0 1017.0,1890.7 1018.1,1891.8 1019.2,1890.1 1020.3,1890.4 1021.4,1889.6 1022.5,1890.1 1023.6,1889.6 1024.7,1890.1 1025.8,1889.0 1026.9,1887.9 1028.0,1887.3 1029.1,1886.4 1030.2,1885.6 1030.7,1885.8 1031.3,1885.8 1032.4,1886.5 1033.5,1886.1 1034.6,1888.2 1035.7,1886.9 1036.8,1888.1 1037.9,1887.6 1039.0,1886.6 1040.3,1886.6 1041.2,1886.9 1042.3,1889.5 1043.4,1888.2 1044.5,1888.8 1045.6,1890.2 1046.7,1890.0 1047.8,1890.8 1048.9,1888.9 1050.0,1889.1 1051.1,1893.0 1052.2,1890.1 1053.3,1889.9 1054.4,1890.3 1055.5,1891.0 1056.6,1889.1 1057.7,1890.4 1058.8,1890.1 1059.9,1890.7 1061.0,1890.2 1062.1,1889.6 1063.2,1889.2 1064.3,1887.8 1065.4,1890.7 1066.5,1888.5 1067.6,1889.4 1068.7,1891.1 1069.8,1889.1 1070.9,1889.9 1072.0,1889.0 1073.1,1889.6 1074.2,1888.8 1075.3,1888.0 1076.4,1889.3 1077.5,1887.4 1078.6,1885.8 1079.7,1885.8 1080.8,1885.3 1081.9,1882.0 1083.0,1880.7 1084.1,1875.8 1085.2,1869.2 1086.3,1855.3 1087.4,1843.6 1088.2,1839.2 1089.6,1849.5 1090.7,1862.6 1091.8,1872.3 1092.9,1877.9 1094.0,1881.6 1095.1,1883.4 1096.2,1885.1 1097.3,1886.7 1098.4,1887.6 1099.5,1888.2 1100.6,1888.9 1101.7,1889.4 1102.8,1887.1 1103.9,1888.4 1105.0,1888.8 1106.1,1888.5 1107.2,1890.1 1108.3,1889.9 1109.4,1889.2 1110.5,1889.5 1111.6,1890.5 1112.7,1889.1 1113.8,1889.2 1114.9,1890.2 1116.0,1889.8 1117.1,1890.6 1118.2,1889.7 1119.3,1889.9 1120.4,1888.7 1121.5,1888.2 1122.6,1888.8 1123.7,1886.3 1124.8,1888.5 1125.9,1888.5 1127.0,1887.2 1128.5,1886.8 1129.2,1887.1 1130.3,1887.3 1131.4,1888.6 1132.5,1890.1 1133.6,1889.2 1134.7,1889.7 1135.8,1889.5 1136.9,1889.4 1138.0,1889.5 1139.1,1889.3 1140.2,1890.2 1141.3,1887.9 1142.4,1889.1 1143.5,1889.9 1144.6,1888.6 1145.7,1889.2 1146.8,1888.7 1147.9,1889.6 1149.0,1889.9 1150.1,1890.4 1151.2,1889.5 1152.3,1888.3 1153.4,1889.0 1154.5,1889.2 1155.6,1889.7 1156.7,1886.5 1157.8,1888.4 1158.9,1886.1 1160.0,1887.8 1161.1,1887.0 1162.2,1886.1 1163.3,1885.0 1164.4,1882.6 1165.5,1878.8 1166.6,1875.8 1167.7,1872.3 1169.1,1868.4 1169.9,1869.4 1171.0,1872.1 1172.1,1878.3 1173.2,1880.3 1174.3,1882.6 1175.4,1884.5 1176.5,1885.3 1177.6,1886.6 1178.7,1888.4 1179.8,1888.4 1180.9,1889.2 1182.0,1889.5 1183.1,1887.7 1184.2,1889.0 1185.3,1890.0 1186.4,1890.7 1187.5,1887.6 1188.6,1887.7 1189.7,1889.3 1190.8,1888.7 1191.9,1888.2 1193.0,1889.4 1194.1,1888.4 1195.2,1887.1 1196.3,1889.1 1197.4,1889.2 1198.5,1889.7 1199.6,1889.9 1200.7,1889.3 1201.8,1888.9 1202.9,1888.6 1204.0,1887.7 1205.1,1888.8 1206.2,1890.0 1207.3,1889.7 1208.4,1890.9 1209.5,1889.0 1210.6,1887.6 1211.7,1889.8 1212.8,1889.9 1213.9,1888.0 1215.0,1887.6 1216.1,1889.1 1217.2,1889.5 1218.3,1887.8 1219.4,1888.4 1220.5,1887.9 1221.6,1887.4 1222.7,1887.1 1223.8,1888.0 1224.9,1887.2 1226.0,1886.3 1227.1,1883.8 1228.2,1886.5 1229.3,1882.9 1230.4,1882.7 1231.2,1882.3 1232.6,1883.6 1233.7,1883.1 1234.8,1885.7 1235.9,1886.4 1237.0,1888.0 1238.1,1886.8 1239.2,1887.5 1240.3,1888.2 1241.4,1890.4 1242.5,1887.4 1243.6,1889.1 1244.7,1888.3 1245.8,1889.2 1246.9,1889.6 1248.0,1889.2 1249.1,1889.3 1250.2,1889.4 1251.3,1888.6 1252.4,1889.0 1253.5,1887.8 1254.6,1888.9 1255.7,1888.6 1256.8,1889.0 1257.9,1889.9 1259.0,1889.6 1260.1,1889.7 1261.2,1890.2 1262.3,1887.2 1263.4,1889.7 1264.5,1889.3 1265.6,1889.2 1266.7,1888.2 1267.8,1889.8 1268.9,1890.3 1270.0,1890.2 1271.1,1889.2 1272.2,1889.9 1273.3,1890.1 1274.4,1890.9 1275.5,1890.4 1276.6,1889.4 1277.7,1889.4 1278.8,1889.5 1279.9,1889.5 1281.0,1888.9 1282.1,1890.0 1283.2,1888.7 1284.3,1888.6 1285.4,1889.6 1286.5,1888.8 1287.6,1889.1 1288.7,1887.5 1289.8,1890.0 1290.9,1889.3 1292.0,1889.2 1293.1,1889.7 1294.2,1889.5 1295.3,1888.7 1296.4,1891.0 1297.5,1888.9 1298.6,1890.1 1299.7,1890.9 1300.8,1888.8 1301.9,1889.4 1303.0,1888.6 1304.1,1890.2 1305.2,1889.0 1306.3,1888.3 1307.4,1890.4 1308.5,1890.0 1309.6,1888.5 1310.7,1890.2 1311.8,1889.3 1312.9,1891.5 1314.0,1890.6 1315.1,1888.6 1316.2,1888.7 1317.3,1888.1 1318.4,1888.9 1319.5,1888.7 1320.5,1888.9 1321.7,1888.8 1322.8,1887.5 1323.9,1888.2 1325.0,1890.2 1326.1,1890.0 1327.2,1889.0 1328.3,1889.0 1329.4,1889.0 1330.5,1889.2 1331.6,1887.8 1332.7,1890.0 1333.8,1888.7 1334.9,1889.4 1336.0,1887.1 1337.1,1889.4 1338.2,1890.4 1339.3,1887.3 1340.4,1890.6 1341.5,1889.7 1342.6,1888.6 1343.7,1887.9 1344.8,1890.2 1345.9,1889.5 1347.0,1889.8 1348.1,1889.0 1349.2,1888.6 1350.3,1890.0 1351.4,1888.4 1352.5,1890.0 1353.6,1887.8 1354.7,1888.4 1355.8,1888.0 1356.9,1890.3 1358.0,1887.7 1359.1,1888.2 1360.2,1889.8 1361.3,1889.4 1362.4,1891.1 1363.5,1890.8 1364.6,1889.7 1365.7,1889.8 1366.8,1887.6 1367.9,1888.4 1369.0,1888.9 1370.1,1889.0 1371.2,1888.0 1372.3,1888.3 1373.4,1888.4 1374.5,1890.0 1375.6,1889.5 1376.7,1888.8 1377.8,1888.9 1378.9,1889.4 1380.0,1888.5 1381.1,1888.9 1382.2,1887.6 1383.3,1889.6 1384.4,1889.9 1385.5,1889.3 1386.6,1889.4 1387.7,1889.3 1388.8,1890.7 1389.9,1889.1 1391.0,1887.8 1392.1,1888.0 1393.2,1889.5 1394.3,1889.8 1395.4,1889.5 1396.5,1889.6 1397.6,1889.0 1398.7,1887.5 1399.8,1888.1 1400.9,1887.1 1402.0,1888.3 1403.1,1887.4 1404.2,1888.7 1405.3,1888.4 1406.4,1886.8 1407.5,1889.0 1408.6,1889.0 1409.7,1887.0 1410.8,1888.2 1411.9,1888.6 1413.0,1887.6 1414.1,1888.4 1415.2,1887.7 1416.3,1888.2 1417.4,1887.2 1418.5,1886.6 1419.6,1886.8 1420.7,1886.5 1421.8,1885.5 1422.9,1884.1 1424.0,1882.7 1425.1,1881.6 1426.2,1879.4 1427.3,1877.0 1428.4,1872.2 1429.5,1864.0 1430.6,1851.3 1431.7,1832.8 1432.8,1812.8 1433.6,1806.5 1435.0,1822.3 1436.1,1843.7 1437.2,1858.5 1438.3,1868.5 1439.4,1874.3 1440.5,1877.6 1441.6,1879.3 1442.7,1879.8 1443.8,1883.2 1444.9,1884.7 1446.0,1883.4 1447.1,1884.8 1448.2,1884.1 1449.3,1884.6 1450.4,1883.2 1451.5,1883.1 1452.6,1882.0 1453.7,1878.2 1454.8,1877.4 1455.9,1872.3 1457.0,1863.2 1458.1,1857.6 1459.3,1852.3 1460.3,1855.9 1461.4,1864.4 1462.5,1871.3 1463.6,1876.1 1464.7,1880.1 1465.8,1882.3 1466.9,1886.1 1468.0,1886.7 1469.1,1885.4 1470.2,1886.0 1471.3,1887.0 1472.4,1887.5 1473.5,1886.6 1474.6,1886.5 1475.7,1889.2 1476.8,1888.5 1477.9,1886.3 1479.0,1886.1 1480.1,1887.0 1481.2,1887.9 1482.3,1888.1 1483.4,1887.2 1484.5,1886.0 1485.6,1887.3 1486.7,1887.4 1487.8,1886.4 1488.9,1885.5 1490.0,1885.7 1491.1,1884.4 1492.2,1882.7 1493.3,1883.1 1494.2,1882.6 1495.5,1884.1 1496.6,1884.4 1497.7,1884.0 1498.8,1885.8 1499.9,1887.4 1501.0,1884.9 1502.1,1887.1 1503.2,1889.0 1504.3,1886.4 1505.4,1887.8 1506.5,1886.8 1507.6,1888.1 1508.7,1886.2 1509.8,1886.9 1510.9,1887.9 1512.0,1888.5 1513.1,1888.8 1514.2,1888.8 1515.3,1889.5 1516.4,1889.1 1517.5,1889.1 1518.6,1887.6 1519.7,1888.3 1520.8,1891.2 1521.9,1890.3 1523.0,1889.0 1524.1,1888.8 1525.2,1888.9 1526.3,1887.5 1527.4,1889.3 1528.5,1886.9 1529.6,1886.7 1530.7,1888.1 1531.8,1883.6 1532.9,1884.8 1534.0,1881.8 1535.1,1881.7 1536.4,1881.8 1537.3,1882.0 1538.4,1883.1 1539.5,1883.4 1540.6,1885.0 1541.7,1884.9 1542.8,1886.3 1543.9,1885.9 1545.0,1888.1 1546.1,1886.7 1547.2,1888.6 1548.3,1887.8 1549.4,1888.0 1550.5,1889.4 1551.6,1888.6 1552.7,1886.8 1553.8,1889.0 1554.9,1886.0 1556.0,1888.9 1557.1,1888.3 1558.2,1887.5 1559.3,1888.8 1560.4,1888.5 1561.5,1890.5 1562.6,1888.4 1563.7,1890.5 1564.8,1890.0 1565.9,1888.3 1567.0,1888.1 1568.1,1890.0 1569.2,1888.7 1570.3,1889.0 1571.4,1888.6 1572.5,1887.7 1573.6,1888.5 1574.7,1888.0 1575.8,1887.5 1576.9,1888.6 1578.0,1890.4 1579.1,1890.3 1580.2,1888.7 1581.3,1888.9 1582.4,1889.2 1583.5,1890.0 1584.6,1889.1 1585.7,1888.3 1586.8,1888.4 1587.9,1889.7 1589.0,1891.0 1590.1,1888.1 1591.2,1886.8 1592.3,1889.4 1593.4,1888.5 1594.5,1888.7 1595.6,1889.6 1596.7,1888.5 1597.8,1887.2 1598.9,1886.5 1600.0,1888.1 1601.1,1887.0 1602.2,1888.1 1603.3,1886.4 1604.4,1886.9 1605.5,1885.4 1606.6,1885.9 1607.7,1885.4 1608.9,1885.7 1609.9,1886.0 1611.0,1885.9 1612.1,1885.7 1613.2,1888.7 1614.3,1887.6 1615.4,1888.0 1616.5,1888.2 1617.6,1889.1 1618.7,1888.7 1619.8,1888.4 1620.9,1888.5 1622.0,1887.0 1623.1,1887.2 1624.2,1887.6 1625.3,1887.7 1626.4,1887.5 1627.3,1887.5 1628.6,1887.3 1629.7,1886.7 1630.8,1885.4 1631.9,1887.3 1633.0,1886.8 1634.1,1885.0 1635.2,1885.8 1636.3,1885.0 1637.4,1883.8 1638.5,1880.9 1639.6,1879.9 1640.7,1878.1 1641.8,1876.5 1642.9,1868.4 1644.0,1858.8 1645.1,1841.5 1646.2,1817.9 1647.6,1795.5 1648.4,1800.2 1649.5,1816.3 1650.6,1831.9 1651.9,1839.7 1652.8,1848.5 1653.9,1861.6 1655.0,1870.7 1656.1,1873.7 1657.2,1879.0 1658.3,1882.4 1659.4,1882.3 1660.5,1883.7 1661.6,1885.7 1662.7,1885.2 1663.8,1884.8 1664.9,1885.6 1666.0,1885.3 1667.1,1887.2 1668.2,1885.2 1669.3,1887.7 1670.4,1885.3 1671.5,1886.7 1672.6,1885.2 1673.9,1886.4 1674.8,1886.9 1675.9,1887.9 1677.0,1888.4 1678.1,1887.4 1679.2,1887.8 1680.3,1888.1 1681.4,1888.6 1682.5,1887.8 1683.6,1889.2 1684.7,1888.6 1685.8,1889.3 1686.9,1888.8 1688.0,1889.0 1689.1,1887.8 1690.2,1888.1 1691.3,1887.3 1692.4,1888.2 1693.5,1888.4 1694.6,1889.3 1695.7,1887.4 1696.8,1891.5 1697.9,1888.5 1699.0,1889.7 1700.1,1889.5 1701.2,1886.3 1702.3,1888.4 1703.4,1890.0 1704.5,1886.5 1705.6,1889.4 1706.7,1888.5 1707.8,1888.6 1708.9,1888.8 1710.0,1887.1 1711.1,1888.9 1712.2,1888.2 1713.3,1888.1 1714.4,1889.4 1715.5,1891.9 1716.6,1889.1 1717.7,1889.3 1718.8,1888.7 1719.9,1888.1 1721.0,1889.0 1722.1,1890.1 1723.2,1888.9 1724.3,1889.5 1725.4,1888.5 1726.5,1890.9 1727.6,1887.1 1728.7,1889.1 1729.8,1889.0 1730.9,1888.6 1732.0,1887.3 1733.1,1887.1 1734.2,1887.7 1735.3,1887.7 1736.4,1886.2 1737.5,1885.8 1738.6,1886.7 1739.7,1886.4 1740.8,1884.3 1741.9,1884.1 1743.0,1883.8 1744.1,1884.8 1745.2,1885.3 1746.3,1885.5 1747.4,1887.2 1748.5,1889.0 1749.6,1888.5 1750.7,1886.5 1751.8,1888.0 1752.9,1888.0 1754.0,1888.2 1755.1,1887.5 1756.2,1888.4 1757.3,1887.9 1758.4,1889.2 1759.5,1889.0 1760.6,1887.8 1761.7,1887.5 1762.8,1888.7 1763.9,1889.8 1765.0,1889.6 1766.1,1889.2 1767.2,1886.3 1768.3,1888.8 1769.4,1888.6 1770.5,1889.0 1771.6,1888.2 1772.7,1889.0 1773.8,1888.8 1774.9,1891.8 1776.0,1890.0 1777.1,1889.2 1778.4,1889.4 1779.3,1889.4 1780.4,1889.6 1781.5,1889.1 1782.6,1889.4 1783.7,1890.4 1784.8,1890.2 1785.9,1889.8 1787.0,1890.7 1788.1,1889.7 1789.2,1888.6 1790.3,1887.9 1791.4,1888.8 1792.5,1889.4 1793.6,1889.8 1794.7,1890.4 1795.8,1888.9 1796.9,1888.7 1798.0,1890.0 1799.1,1890.4 1800.2,1888.8 1801.3,1889.5 1802.4,1890.3 1803.5,1889.3 1804.6,1888.8 1805.7,1886.8 1806.8,1889.6 1807.9,1888.6 1809.0,1887.6 1810.1,1886.4 1811.2,1884.8 1812.3,1884.8 1813.4,1883.8 1814.5,1883.5 1815.0,1882.9 1815.6,1883.6 1816.7,1884.0 1817.8,1886.1 1818.9,1885.2 1820.0,1887.3 1821.1,1888.7 1822.2,1888.3 1823.3,1887.2 1824.4,1888.5 1825.5,1889.5 1826.6,1888.0 1827.7,1888.0 1828.8,1889.7 1829.9,1888.7 1831.0,1890.2 1832.1,1888.6 1833.2,1888.1 1834.3,1889.1 1835.4,1891.2 1836.5,1889.1 1837.6,1889.9 1838.7,1890.1 1839.8,1889.1 1840.9,1890.9 1842.0,1890.1 1843.1,1890.4 1844.2,1888.5 1845.3,1888.4 1846.4,1887.5 1847.5,1889.9 1848.6,1889.8 1849.7,1890.7 1850.8,1891.4 1851.9,1889.8 1853.0,1889.8 1854.1,1890.5 1855.2,1891.4 1856.3,1889.3 1857.4,1890.6 1858.5,1889.8 1859.6,1889.7 1860.7,1890.7 1861.8,1889.2 1862.9,1888.9 1864.0,1890.4 1865.1,1889.7 1866.2,1889.3 1867.3,1889.3 1868.4,1889.6 1869.5,1888.6 1870.6,1889.2 1871.7,1888.4 1872.8,1888.8 1873.9,1888.1 1875.0,1886.8 1875.8,1886.4 1877.2,1886.8 1878.3,1886.7 1879.4,1890.3 1880.5,1887.9 1881.6,1889.0 1882.7,1889.9 1883.8,1887.6 1884.9,1888.7 1886.0,1888.9 1887.1,1889.0 1888.2,1888.3 1889.3,1889.2 1890.4,1891.0 1891.5,1890.7 1892.6,1890.2 1893.7,1890.3 1894.8,1888.8 1895.9,1891.0 1897.0,1890.8 1898.1,1889.5 1899.2,1890.7 1900.3,1890.4 1901.4,1890.1 1902.5,1889.7 1903.6,1890.0 1904.7,1889.8 1905.8,1891.1 1906.9,1891.0 1908.0,1891.0 1909.1,1890.6 1910.2,1890.4 1911.3,1892.6 1912.4,1889.1 1913.5,1891.9 1914.6,1891.1 1915.7,1890.9 1916.8,1890.4 1917.9,1890.7 1919.0,1889.8 1920.1,1889.6" fill="none" stroke="#ff0000" stroke-width="6" stroke-linejoin="round" stroke-linecap="round" />
<polyline points="269.0,2002.8 270.1,2002.3 271.2,2003.2 272.3,2003.3 273.4,2001.7 274.5,2002.3 275.6,2002.9 276.7,2002.9 277.8,2002.9 278.9,2003.0 280.0,2003.1 281.1,2003.1 282.2,2003.5 283.3,2002.8 284.4,2003.1 285.5,2002.3 286.6,2002.8 287.7,2002.4 288.8,2003.3 289.9,2003.6 291.0,2003.0 292.1,2002.3 293.2,2002.7 294.3,2002.8 295.4,2002.8 296.5,2003.1 297.6,2003.1 298.7,2001.8 299.8,2003.2 300.9,2002.6 302.0,2002.5 303.1,2003.2 304.2,2002.6 305.3,2002.2 306.4,2002.2 307.5,2002.7 308.6,2002.9 309.7,2003.1 310.8,2002.5 311.9,2002.4 313.0,2003.1 314.1,2002.3 315.2,2003.0 316.3,2002.5 317.4,2002.5 318.5,2002.2 319.6,2002.4 320.7,2002.0 321.8,2001.9 322.9,2002.0 324.0,2001.7 325.1,2001.8 326.2,2001.6 327.3,2001.2 328.4,2000.9 329.5,2000.5 330.6,2000.6 331.7,1999.2 332.8,1997.9 333.9,1996.5 335.0,1994.8 336.1,1991.9 337.2,1989.1 338.3,1987.0 338.9,1986.7 339.4,1987.0 340.5,1989.0 341.6,1991.1 342.7,1993.9 343.8,1995.5 344.9,1998.3 346.0,1999.5 347.1,2000.4 348.2,2000.5 349.3,2001.3 350.4,2001.2 351.5,2001.4 352.6,2001.1 353.7,2001.5 354.8,2001.7 355.9,2002.3 357.0,2002.6 358.1,2002.0 359.2,2002.3 360.3,2002.3 361.4,2002.0 362.5,2001.7 363.6,2002.0 364.7,2001.8 365.8,2002.2 366.9,2002.3 368.0,2002.3 369.1,2002.3 370.2,2002.5 371.3,2002.0 372.4,2002.7 373.5,2001.8 374.6,2002.4 375.7,2002.5 376.8,2002.0 377.9,2001.7 379.0,2002.5 380.1,2002.0 381.2,2002.5 382.3,2002.4 383.4,2002.1 384.5,2002.1 385.6,2002.4 386.7,2002.1 387.8,2001.5 388.9,2001.8 390.0,2001.8 391.1,2001.6 392.2,2001.4 393.3,2001.0 394.4,2000.6 395.5,1999.8 396.6,1998.9 397.7,1998.8 398.8,1996.8 399.9,1995.3 401.0,1993.4 401.9,1992.9 403.2,1993.4 404.3,1996.2 405.4,1996.1 406.5,1997.0 407.6,1998.0 408.7,1998.1 409.8,1996.6 410.9,1996.6 412.0,1995.5 413.1,1992.7 414.2,1990.2 415.3,1985.2 416.4,1979.1 417.5,1973.2 418.7,1969.9 419.7,1972.1 420.8,1979.0 421.9,1984.2 423.0,1988.9 424.1,1992.8 425.2,1994.7 426.3,1996.6 427.4,1996.9 428.5,1997.5 429.6,1997.5 430.7,1997.3 431.8,1996.5 432.9,1995.6 434.0,1995.2 435.5,1993.9 436.2,1994.2 437.3,1995.2 438.4,1996.8 439.5,1998.0 440.6,1999.1 441.7,1998.9 442.8,2000.0 443.9,2000.1 445.0,2000.3 446.1,2000.6 447.2,2000.0 448.3,2000.8 449.4,2000.8 450.5,2000.2 451.6,2000.6 452.7,2001.1 453.8,2000.3 454.9,2000.5 456.0,2000.0 457.1,1999.6 458.2,1999.3 459.3,1999.1 460.4,1999.3 461.5,1998.6 462.6,1997.4 463.7,1997.2 464.8,1995.7 465.9,1994.1 467.0,1992.5 468.1,1989.4 469.2,1985.3 470.3,1981.0 471.4,1972.6 472.5,1963.9 473.6,1952.3 474.7,1943.6 475.6,1940.7 476.9,1946.3 478.0,1956.1 479.1,1967.4 480.2,1976.1 481.3,1982.4 482.4,1987.4 483.5,1991.2 484.6,1993.0 485.7,1995.1 486.8,1995.9 487.9,1997.4 489.0,1998.3 490.1,1999.5 491.2,1999.5 492.3,1999.7 493.4,2000.4 494.5,1999.9 495.6,2000.8 496.7,2000.4 497.8,2000.6 498.9,2001.3 500.0,2001.1 501.1,2001.6 502.2,2000.7 503.3,2001.4 504.4,2001.2 505.5,2001.3 506.6,2000.8 507.7,2001.8 508.8,2001.6 509.9,2001.1 511.0,2001.0 512.1,2001.1 513.2,2001.9 514.3,2001.3 515.4,2001.1 516.5,2001.3 517.6,2001.0 518.7,2000.9 519.8,2000.8 520.9,2000.3 522.0,2000.1 523.1,1998.8 524.2,1998.4 525.3,1997.1 526.4,1995.8 527.5,1993.8 528.6,1991.3 529.7,1989.0 530.8,1987.5 531.5,1987.1 533.0,1988.2 534.1,1991.1 535.2,1993.6 536.3,1995.3 537.4,1997.0 538.5,1997.9 539.6,1999.0 540.7,2000.2 541.8,2000.6 542.9,2000.7 544.0,2000.9 545.1,2000.6 546.2,2001.5 547.3,2001.7 548.4,2002.0 549.5,2002.4 550.6,2001.9 551.7,2002.2 552.8,2001.5 553.9,2002.4 555.0,2002.3 556.1,2002.5 557.2,2002.2 558.3,2002.2 559.4,2002.5 560.5,2001.8 561.6,2002.2 562.7,2002.3 563.8,2001.6 564.9,2001.4 566.0,2001.8 567.1,2001.6 568.2,2001.6 569.3,2001.4 570.4,2000.6 571.5,2000.6 572.6,2000.3 573.7,1999.2 574.8,1998.6 575.9,1997.6 577.0,1997.6 577.6,1997.7 578.1,1997.4 579.2,1998.2 580.3,1998.8 581.4,1999.0 582.5,1999.6 583.6,1999.9 584.7,2000.4 585.8,2001.0 586.9,2001.3 588.0,2001.3 589.1,2001.7 590.2,2001.5 591.3,2001.1 592.4,2002.1 593.5,2002.0 594.6,2001.4 595.7,2002.2 596.8,2001.8 597.9,2001.6 599.0,2002.2 600.1,2000.7 601.2,2001.0 602.3,2001.7 603.4,2001.4 604.5,2001.1 605.6,2001.9 606.7,2001.5 607.8,2000.8 608.9,2000.9 610.0,2001.3 611.1,2001.5 612.2,2000.1 613.3,2000.7 614.4,2000.3 615.5,1999.6 616.6,1999.8 617.7,1998.9 618.8,1998.8 619.9,1998.8 621.0,1997.4 622.1,1996.1 623.2,1994.1 624.3,1991.4 625.4,1988.7 626.5,1985.7 627.5,1984.8 628.7,1986.4 629.8,1988.5 630.9,1991.4 632.0,1994.3 633.1,1996.1 634.2,1996.6 635.3,1997.3 636.4,1998.4 637.5,1998.6 638.6,1998.5 639.7,1999.0 640.8,1999.0 641.9,1998.7 643.0,1999.5 644.1,1998.6 645.2,1997.9 646.3,1997.2 647.4,1996.7 648.5,1994.3 649.6,1991.1 650.7,1987.8 651.8,1983.0 652.9,1978.2 654.0,1976.1 655.1,1978.3 656.2,1983.0 657.3,1987.5 658.4,1991.6 659.5,1993.4 660.6,1996.0 661.7,1996.8 662.8,1997.7 663.9,1997.4 665.0,1999.2 666.1,1998.3 667.2,1998.8 668.3,1999.4 669.4,1999.1 670.5,1999.2 671.6,1998.6 672.7,1999.2 673.8,1999.3 674.9,1999.4 676.0,1998.9 677.1,1998.8 678.2,1998.5 679.3,1997.6 680.4,1996.9 681.5,1996.8 682.6,1994.6 683.7,1993.8 684.8,1992.1 685.7,1991.8 687.0,1992.1 688.1,1993.8 689.2,1994.9 690.3,1995.7 691.4,1996.6 692.5,1996.6 693.6,1996.9 694.7,1996.8 695.8,1996.9 696.9,1996.1 698.0,1994.8 699.1,1993.9 700.2,1992.1 701.3,1988.9 702.4,1985.6 703.5,1980.1 704.6,1974.7 705.7,1972.1 706.8,1974.6 707.9,1980.2 709.0,1984.5 710.1,1989.2 711.2,1991.9 712.3,1993.6 713.4,1995.0 714.5,1995.4 715.6,1996.4 716.7,1996.2 717.8,1996.4 718.9,1997.4 720.0,1996.6 721.1,1995.9 722.2,1996.6 723.3,1995.4 724.4,1993.6 725.5,1993.5 726.6,1992.1 727.7,1989.6 728.8,1987.3 729.9,1984.1 731.0,1983.1 732.1,1984.0 733.2,1986.7 734.3,1989.9 735.4,1991.9 736.5,1993.6 737.6,1994.1 738.7,1995.5 739.8,1995.8 740.9,1996.9 742.0,1996.7 743.1,1997.2 744.2,1996.9 745.3,1997.9 746.4,1996.9 747.5,1997.3 748.6,1998.1 749.7,1997.2 750.8,1996.7 751.9,1997.1 753.0,1997.0 754.1,1996.7 755.2,1995.5 756.3,1996.0 757.4,1994.8 758.5,1995.9 759.6,1994.8 760.7,1994.3 761.8,1994.3 762.9,1993.8 764.0,1992.9 765.1,1993.6 766.2,1992.8 767.0,1992.6 768.4,1993.1 769.5,1993.2 770.6,1993.3 771.7,1993.2 772.8,1992.8 773.9,1993.6 775.0,1994.0 776.1,1993.6 777.2,1993.8 778.3,1992.8 779.4,1993.1 780.5,1992.6 781.6,1990.9 782.7,1989.7 783.8,1988.2 784.9,1986.0 786.0,1982.5 787.1,1977.3 788.2,1971.2 789.3,1964.6 790.4,1960.1 790.9,1959.6 791.5,1960.4 792.6,1965.2 793.7,1972.0 794.8,1978.0 795.9,1983.3 797.0,1986.4 798.1,1989.7 799.2,1990.9 800.3,1992.3 801.4,1992.9 802.5,1993.7 803.6,1994.4 804.7,1994.7 805.8,1994.7 806.9,1994.7 808.0,1995.2 809.1,1995.3 810.2,1995.4 811.3,1995.6 812.4,1994.9 813.5,1994.1 814.6,1994.4 815.7,1993.3 816.8,1992.9 817.9,1992.7 819.0,1991.3 820.1,1989.0 821.2,1986.4 822.3,1983.0 823.4,1978.1 824.5,1974.4 826.0,1971.0 826.7,1971.9 827.8,1974.8 828.9,1980.0 830.0,1983.5 831.1,1987.2 832.2,1988.8 833.3,1990.9 834.4,1991.5 835.5,1991.9 836.6,1992.4 837.7,1992.5 838.8,1992.1 839.9,1991.7 841.0,1990.0 842.1,1986.7 843.2,1984.5 844.3,1980.7 845.7,1979.1 846.5,1980.0 847.6,1982.4 848.7,1985.7 849.8,1988.8 850.9,1990.5 852.0,1992.3 853.1,1992.6 854.2,1992.9 855.3,1993.3 856.4,1992.1 857.5,1991.6 858.6,1990.3 859.7,1989.7 860.8,1988.7 861.9,1988.4 863.0,1988.8 864.1,1989.7 865.2,1991.0 866.3,1992.0 867.4,1993.5 868.5,1994.6 869.6,1993.9 870.7,1994.4 871.8,1995.9 872.9,1995.1 874.0,1995.9 875.1,1995.5 876.2,1996.3 877.3,1996.3 878.4,1996.1 879.5,1996.4 880.6,1996.1 881.7,1996.3 882.8,1996.7 883.9,1996.4 885.0,1995.7 886.1,1995.6 887.2,1995.7 888.3,1995.5 889.4,1995.5 890.5,1995.0 891.6,1995.2 892.7,1994.6 893.8,1994.2 894.9,1993.3 896.0,1992.5 897.1,1990.3 898.2,1989.1 899.3,1985.8 900.4,1982.8 901.7,1980.8 902.6,1981.5 903.7,1984.2 904.8,1986.7 905.9,1988.6 907.0,1989.4 908.1,1990.7 909.2,1990.8 910.3,1990.7 911.4,1991.3 912.5,1989.1 913.6,1988.6 914.7,1987.4 915.8,1985.0 916.9,1981.8 918.0,1976.4 919.1,1970.8 920.2,1964.7 921.3,1959.0 922.1,1957.4 923.5,1959.9 924.6,1964.8 925.7,1969.5 926.8,1972.5 927.9,1974.5 929.0,1974.7 930.1,1974.6 931.2,1973.6 932.3,1972.9 933.4,1972.0 934.3,1972.1 935.6,1973.4 936.7,1975.0 937.8,1976.7 938.9,1979.1 940.0,1980.8 941.1,1983.6 942.2,1983.6 943.3,1985.7 944.4,1985.4 945.5,1985.9 946.6,1985.5 947.7,1984.9 948.8,1984.6 949.9,1983.8 951.0,1983.0 952.0,1982.9 953.2,1984.5 954.3,1985.6 955.4,1986.6 956.5,1988.0 957.6,1989.7 958.7,1990.8 959.8,1992.2 960.9,1992.3 962.0,1993.3 963.1,1993.6 964.2,1994.8 965.3,1995.3 966.4,1994.9 967.5,1995.4 968.6,1995.9 969.7,1995.5 970.8,1995.4 971.9,1996.2 973.0,1996.2 974.1,1996.0 975.2,1996.7 976.3,1996.3 977.4,1995.6 978.5,1996.4 979.6,1996.3 980.7,1997.0 981.8,1996.3 982.9,1996.2 984.0,1996.4 985.1,1996.2 986.2,1995.5 987.3,1995.9 988.4,1995.6 989.5,1996.0 990.6,1996.1 991.7,1994.5 992.8,1994.3 993.9,1994.1 995.0,1993.9 996.4,1993.9 997.2,1994.1 998.3,1994.7 999.4,1994.1 1000.5,1994.4 1001.6,1994.6 1002.7,1995.9 1003.8,1996.2 1004.9,1995.4 1006.0,1995.6 1007.1,1996.3 1008.2,1996.8 1009.3,1996.9 1010.4,1996.7 1011.5,1996.9 1012.6,1996.8 1013.7,1996.5 1014.8,1997.4 1015.9,1996.7 1017.0,1996.4 1018.1,1996.6 1019.2,1996.2 1020.3,1996.8 1021.4,1997.1 1022.5,1996.3 1023.6,1997.1 1024.7,1997.4 1025.8,1996.8 1026.9,1996.3 1028.0,1996.3 1029.1,1996.5 1030.2,1996.1 1031.3,1996.1 1032.4,1996.4 1033.5,1996.4 1034.6,1996.7 1035.7,1996.0 1036.8,1997.0 1037.9,1996.7 1039.0,1996.6 1040.1,1996.0 1041.2,1996.8 1042.3,1996.0 1043.4,1996.7 1044.5,1996.4 1045.6,1995.6 1046.7,1995.7 1047.8,1996.4 1048.9,1996.0 1050.0,1995.5 1051.1,1995.4 1052.2,1995.3 1053.3,1994.7 1054.4,1994.7 1055.5,1994.2 1056.6,1994.0 1057.7,1993.8 1058.8,1992.6 1059.9,1992.4 1061.0,1991.1 1062.1,1989.8 1063.2,1988.1 1064.3,1986.2 1065.4,1984.0 1066.6,1983.1 1067.6,1983.4 1068.7,1985.1 1069.8,1986.3 1070.9,1988.1 1072.0,1989.7 1073.1,1990.2 1074.2,1990.7 1075.3,1990.2 1076.4,1990.8 1077.5,1989.4 1078.6,1988.8 1079.7,1987.3 1080.8,1986.2 1081.9,1984.7 1082.7,1984.3 1084.1,1984.5 1085.2,1986.3 1086.3,1987.2 1087.4,1988.8 1088.5,1989.8 1089.6,1988.7 1090.7,1988.8 1091.8,1988.6 1092.9,1987.7 1094.0,1985.5 1095.1,1982.9 1096.2,1979.9 1097.3,1977.4 1098.1,1976.9 1099.5,1978.9 1100.6,1981.3 1101.7,1984.5 1102.8,1987.2 1103.9,1988.7 1105.0,1990.2 1106.1,1991.0 1107.2,1991.6 1108.3,1992.5 1109.4,1992.4 1110.5,1992.4 1111.6,1992.7 1112.7,1993.0 1113.8,1993.8 1114.9,1993.1 1116.0,1993.5 1117.1,1993.0 1118.2,1991.9 1119.3,1992.6 1120.4,1991.9 1121.5,1991.3 1122.6,1990.8 1123.7,1991.0 1124.8,1988.7 1125.9,1987.5 1127.0,1986.2 1128.1,1983.8 1129.2,1980.6 1130.3,1979.5 1131.0,1979.1 1132.5,1980.5 1133.6,1983.1 1134.7,1985.0 1135.8,1987.1 1136.9,1989.3 1138.0,1989.3 1139.1,1990.7 1140.2,1991.6 1141.3,1991.4 1142.4,1992.0 1143.5,1992.0 1144.6,1992.7 1145.7,1992.6 1146.8,1993.2 1147.9,1993.3 1149.0,1993.0 1150.1,1992.9 1151.2,1993.1 1152.3,1993.0 1153.4,1992.6 1154.5,1993.3 1155.6,1992.9 1156.7,1992.9 1157.8,1991.9 1158.9,1992.3 1160.0,1992.3 1161.1,1991.2 1162.2,1989.8 1163.3,1989.7 1164.5,1989.4 1165.5,1989.6 1166.6,1990.0 1167.7,1990.8 1168.8,1990.9 1169.9,1991.5 1171.0,1991.3 1172.1,1991.5 1173.2,1991.6 1174.3,1990.7 1175.4,1990.7 1176.0,1990.5 1176.5,1990.6 1177.6,1990.9 1178.7,1991.9 1179.8,1991.6 1180.9,1992.6 1182.0,1991.8 1183.1,1992.4 1184.2,1992.7 1185.3,1992.6 1186.4,1991.8 1187.5,1991.5 1188.6,1991.9 1189.7,1990.6 1190.8,1990.6 1191.9,1989.2 1193.0,1988.1 1194.1,1987.2 1195.2,1984.7 1196.3,1982.1 1197.4,1979.5 1198.6,1978.6 1199.6,1979.3 1200.7,1981.4 1201.8,1984.3 1202.9,1985.5 1204.0,1988.1 1205.1,1989.5 1206.2,1990.2 1207.3,1991.9 1208.4,1991.4 1209.5,1992.3 1210.6,1992.7 1211.7,1992.1 1212.8,1992.6 1213.9,1992.9 1215.0,1993.7 1216.1,1993.9 1217.2,1993.8 1218.3,1993.8 1219.4,1993.0 1220.5,1993.9 1221.6,1993.7 1222.7,1994.3 1223.8,1994.4 1224.9,1994.8 1226.0,1994.3 1227.1,1994.3 1228.2,1993.7 1229.3,1994.1 1230.4,1993.7 1231.5,1994.4 1232.6,1993.7 1233.7,1994.1 1234.8,1993.9 1235.9,1994.0 1237.0,1994.3 1238.1,1994.0 1239.2,1994.2 1240.3,1993.8 1241.4,1994.6 1242.5,1993.9 1243.6,1994.4 1244.7,1994.8 1245.8,1993.1 1246.9,1993.6 1248.0,1993.8 1249.1,1994.2 1250.2,1993.5 1251.3,1993.6 1252.4,1993.0 1253.5,1993.3 1254.6,1992.8 1255.4,1993.0 1256.8,1991.9 1257.9,1992.4 1259.0,1993.9 1260.1,1993.4 1261.2,1993.1 1262.3,1994.2 1263.4,1993.8 1264.5,1993.8 1265.6,1993.1 1266.7,1993.4 1267.8,1993.1 1268.9,1992.1 1270.0,1992.6 1271.1,1991.8 1272.2,1991.7 1273.3,1990.9 1274.4,1989.3 1275.5,1988.2 1276.6,1987.4 1277.7,1986.6 1278.4,1986.4 1279.9,1987.0 1281.0,1988.3 1282.1,1989.3 1283.2,1990.6 1284.3,1991.1 1285.4,1991.4 1286.5,1991.6 1287.6,1992.9 1288.7,1992.8 1289.8,1993.0 1290.9,1993.1 1292.0,1992.8 1293.1,1993.3 1294.2,1992.6 1295.3,1993.4 1296.4,1993.3 1297.5,1994.3 1298.6,1993.8 1299.7,1993.6 1300.8,1993.7 1301.9,1993.9 1303.0,1993.4 1304.1,1993.5 1305.2,1993.4 1306.3,1994.4 1307.4,1993.5 1308.5,1992.7 1309.6,1993.6 1310.7,1994.2 1311.8,1992.8 1312.9,1994.3 1314.0,1992.9 1315.1,1993.2 1316.2,1992.5 1317.3,1992.5 1318.4,1992.0 1319.5,1991.9 1320.6,1991.3 1321.7,1992.3 1322.8,1991.3 1323.9,1991.6 1325.0,1991.3 1326.1,1990.7 1327.2,1990.6 1328.3,1990.3 1329.4,1989.8 1330.5,1989.6 1331.6,1989.2 1332.7,1988.4 1333.8,1987.9 1334.9,1987.7 1336.0,1987.6 1337.1,1987.7 1338.2,1987.4 1339.3,1986.7 1340.4,1986.7 1341.5,1986.2 1343.0,1986.1 1343.7,1986.0 1344.8,1986.2 1345.9,1986.1 1347.0,1986.4 1348.1,1987.4 1349.2,1986.5 1350.3,1987.3 1351.4,1987.4 1352.5,1988.3 1353.6,1988.9 1354.7,1988.4 1355.8,1987.8 1356.9,1989.3 1358.0,1989.5 1359.1,1988.8 1360.2,1989.5 1361.3,1989.6 1362.4,1988.8 1363.5,1989.8 1364.6,1989.6 1365.7,1989.3 1366.8,1988.5 1367.9,1988.1 1369.0,1987.5 1370.1,1987.0 1371.2,1985.4 1372.3,1985.0 1373.4,1983.1 1374.5,1980.6 1375.6,1980.6 1376.7,1979.2 1377.3,1979.1 1377.8,1979.2 1378.9,1979.4 1380.0,1981.6 1381.1,1982.3 1382.2,1984.5 1383.3,1986.9 1384.4,1988.1 1385.5,1988.5 1386.6,1989.1 1387.7,1990.5 1388.8,1990.7 1389.9,1991.2 1391.0,1991.7 1392.1,1991.4 1393.2,1992.3 1394.3,1991.4 1395.4,1992.9 1396.5,1991.9 1397.6,1992.4 1398.7,1992.5 1399.8,1993.1 1400.9,1993.1 1402.0,1993.1 1403.1,1993.2 1404.2,1993.2 1405.3,1993.1 1406.4,1992.5 1407.5,1992.3 1408.6,1992.4 1409.7,1993.2 1410.8,1993.2 1411.9,1993.2 1413.0,1993.4 1414.1,1993.3 1415.2,1993.0 1416.3,1992.8 1417.4,1992.7 1418.5,1993.8 1419.6,1993.7 1420.7,1992.9 1421.8,1993.4 1422.9,1993.6 1424.0,1994.1 1425.1,1993.3 1426.2,1993.6 1427.3,1994.0 1428.4,1993.0 1429.5,1993.4 1430.6,1993.6 1431.7,1993.4 1432.8,1994.5 1433.9,1994.0 1435.0,1993.8 1436.1,1993.4 1437.2,1994.1 1438.3,1994.0 1439.4,1993.6 1440.5,1993.6 1441.6,1993.3 1442.7,1993.8 1443.8,1994.1 1444.9,1994.2 1446.0,1994.0 1447.1,1994.1 1448.2,1993.6 1449.3,1993.6 1450.4,1994.2 1451.5,1993.9 1452.6,1993.5 1453.7,1993.9 1454.8,1994.0 1455.9,1993.9 1457.0,1993.6 1458.1,1993.2 1459.2,1993.5 1460.3,1993.8 1461.4,1993.1 1462.5,1992.6 1463.6,1992.8 1464.7,1992.0 1465.8,1992.4 1467.0,1992.3 1468.0,1992.4 1469.1,1992.5 1470.2,1993.1 1471.3,1993.7 1472.4,1993.0 1473.5,1993.0 1474.6,1993.7 1475.7,1993.6 1476.8,1993.8 1477.9,1993.7 1479.0,1994.2 1480.1,1994.1 1481.2,1993.3 1482.3,1994.1 1483.4,1994.4 1484.5,1994.7 1485.6,1994.1 1486.7,1994.1 1487.8,1994.8 1488.9,1994.2 1490.0,1994.5 1491.1,1994.6 1492.2,1994.7 1493.3,1994.5 1494.4,1994.1 1495.5,1994.9 1496.6,1994.4 1497.7,1994.4 1498.8,1995.3 1499.9,1994.9 1501.0,1994.2 1502.1,1994.4 1503.2,1994.5 1504.3,1994.3 1505.4,1993.9 1506.5,1994.9 1507.6,1994.8 1508.7,1994.6 1509.8,1994.4 1510.9,1994.6 1512.0,1994.7 1513.1,1994.0 1514.2,1994.2 1515.3,1994.0 1516.4,1994.4 1517.5,1994.1 1518.6,1993.4 1519.7,1993.6 1520.8,1993.9 1521.7,1993.6 1523.0,1993.8 1524.1,1993.6 1525.2,1994.4 1526.3,1994.1 1527.4,1994.1 1528.5,1994.0 1529.6,1994.4 1530.7,1994.9 1531.8,1994.9 1532.9,1994.3 1534.0,1995.4 1535.1,1994.8 1536.2,1994.5 1537.3,1995.0 1538.4,1994.7 1539.5,1994.7 1540.6,1994.7 1541.7,1994.9 1542.8,1994.8 1543.9,1994.3 1545.0,1995.1 1546.1,1994.7 1547.2,1995.3 1548.3,1995.0 1549.4,1995.0 1550.5,1994.8 1551.6,1995.2 1553.0,1994.7 1553.8,1994.6 1554.9,1994.9 1556.0,1993.9 1557.1,1994.8 1558.2,1995.1 1559.3,1994.9 1560.4,1995.6 1561.5,1995.5 1562.6,1995.3 1563.7,1995.2 1564.8,1995.7 1565.9,1995.1 1567.0,1995.3 1568.1,1995.7 1569.2,1995.7 1570.3,1996.2 1571.4,1995.4 1572.5,1994.8 1573.6,1995.8 1574.7,1996.0 1575.8,1995.5 1576.9,1996.2 1578.0,1996.3 1579.1,1995.4 1580.2,1995.5 1581.3,1995.2 1582.4,1995.9 1583.5,1996.0 1584.6,1995.9 1585.7,1995.3 1586.8,1995.5 1587.9,1995.2 1589.0,1995.2 1590.1,1995.3 1591.2,1995.2 1592.3,1995.7 1593.4,1996.0 1594.5,1996.1 1595.6,1995.8 1596.7,1995.6 1597.8,1995.9 1598.9,1996.1 1600.0,1995.8 1601.1,1995.9 1602.2,1995.8 1603.3,1995.7 1604.4,1996.0 1605.5,1995.6 1606.6,1996.4 1607.7,1995.4 1608.8,1996.2 1609.9,1995.5 1611.0,1996.6 1612.1,1996.3 1613.2,1995.8 1614.3,1995.9 1615.4,1995.7 1616.5,1996.1 1617.6,1996.2 1618.7,1997.0 1619.8,1995.6 1620.9,1996.5 1622.0,1995.9 1623.1,1996.2 1624.2,1996.4 1625.3,1996.3 1626.4,1996.2 1627.5,1996.0 1628.6,1996.1 1629.7,1996.1 1630.8,1996.4 1631.9,1995.4 1633.0,1995.8 1634.1,1995.4 1635.2,1995.5 1636.3,1995.5 1637.4,1996.1 1638.5,1996.5 1640.0,1995.8 1640.7,1995.6 1641.8,1995.8 1642.9,1995.4 1644.0,1996.1 1645.1,1996.4 1646.2,1996.3 1647.3,1996.4 1648.4,1996.1 1649.5,1995.6 1650.6,1995.6 1651.7,1996.3 1652.8,1996.6 1653.9,1996.9 1655.0,1996.4 1656.1,1996.5 1657.2,1996.6 1658.3,1997.0 1659.4,1996.6 1660.5,1996.2 1661.6,1997.0 1662.7,1996.8 1663.8,1996.8 1664.9,1996.2 1666.0,1996.7 1667.1,1996.1 1668.2,1996.0 1669.3,1996.7 1670.4,1996.6 1671.5,1997.0 1672.6,1997.3 1673.7,1996.8 1674.8,1997.5 1675.9,1996.7 1677.0,1997.2 1678.1,1996.5 1679.2,1997.0 1680.3,1996.8 1681.4,1996.9 1682.5,1997.2 1683.6,1996.3 1684.7,1997.0 1685.8,1996.7 1686.9,1997.1 1688.0,1997.2 1689.1,1996.9 1690.2,1996.9 1691.3,1996.7 1692.4,1997.3 1693.5,1996.9 1694.6,1997.3 1695.7,1996.6 1696.8,1997.7 1697.9,1996.8 1699.0,1997.6 1700.1,1997.0 1701.2,1997.4 1702.3,1997.2 1703.4,1997.5 1704.5,1997.3 1705.6,1997.7 1706.7,1997.5 1707.8,1997.5 1708.9,1997.9 1710.0,1997.1 1711.1,1997.8 1712.2,1997.4 1713.3,1996.8 1714.4,1997.6 1715.5,1997.3 1716.6,1998.0 1717.7,1997.3 1718.8,1997.5 1719.9,1997.5 1721.0,1996.8 1722.1,1997.7 1723.2,1997.1 1724.3,1998.0 1725.4,1998.1 1726.5,1997.5 1728.0,1997.4 1728.7,1997.6 1729.8,1997.6 1730.9,1997.9 1732.0,1997.5 1733.1,1997.2 1734.2,1997.6 1735.3,1997.3 1736.4,1998.3 1737.5,1997.4 1738.6,1997.5 1739.7,1997.7 1740.8,1997.3 1741.9,1997.6 1743.0,1997.7 1744.1,1997.6 1745.2,1997.7 1746.3,1998.2 1747.4,1998.0 1748.5,1997.3 1749.6,1997.7 1750.7,1998.1 1751.8,1997.6 1752.9,1997.9 1754.0,1997.9 1755.1,1998.1 1756.2,1997.9 1757.3,1997.9 1758.4,1997.6 1759.5,1998.1 1760.6,1997.6 1761.7,1998.6 1762.8,1998.0 1763.9,1997.9 1765.0,1998.3 1766.1,1998.0 1767.2,1998.1 1768.3,1998.1 1769.4,1997.8 1770.5,1997.8 1771.6,1997.9 1772.7,1998.5 1773.8,1997.9 1774.9,1998.0 1776.0,1998.0 1777.1,1998.4 1778.2,1998.9 1779.3,1997.9 1780.4,1998.4 1781.5,1998.3 1782.6,1998.1 1783.7,1998.5 1784.8,1997.8 1785.9,1998.6 1787.0,1998.4 1788.1,1998.0 1789.2,1998.9 1790.3,1998.7 1791.4,1998.8 1792.5,1997.9 1793.6,1998.3 1794.7,1998.2 1795.8,1998.6 1796.9,1998.9 1798.0,1997.8 1799.1,1998.5 1800.2,1998.4 1801.3,1998.8 1802.4,1998.5 1803.5,1998.1 1804.6,1998.5 1805.7,1998.2 1806.8,1998.3 1807.9,1998.6 1809.0,1998.4 1810.1,1998.7 1811.2,1998.1 1812.3,1999.5 1813.4,1999.1 1814.5,1998.9 1815.6,1998.2 1816.7,1997.9 1817.8,1998.4 1818.9,1998.6 1820.0,1999.5 1821.1,1999.2 1822.2,1998.6 1823.3,1999.2 1824.4,1999.2 1825.5,1998.8 1826.6,1999.2 1827.7,1998.9 1828.8,1998.6 1829.9,1998.4 1831.0,1998.8 1832.1,1999.2 1833.2,1998.4 1834.3,1998.3 1835.4,1999.1 1836.5,1998.0 1837.6,1999.6 1838.7,1998.8 1839.8,1999.2 1840.9,1999.7 1842.0,1998.5 1843.1,1998.6 1844.2,1999.8 1845.3,1998.9 1846.4,1999.0 1847.5,1999.1 1848.6,1999.5 1849.7,1999.6 1850.8,1999.1 1851.9,1999.0 1853.0,1999.1 1854.1,1999.3 1855.2,1999.6 1856.3,1999.2 1857.4,1999.8 1858.5,1998.9 1859.6,1999.4 1860.7,1999.9 1861.8,1999.7 1862.9,1999.4 1864.0,1999.0 1865.1,1999.0 1866.2,1999.2 1867.3,1999.4 1868.4,1999.2 1869.5,1998.8 1870.6,1999.1 1871.7,1999.6 1872.8,1999.7 1873.9,1998.9 1875.0,1999.3 1876.1,1998.8 1877.2,1999.2 1878.3,2000.7 1879.4,1999.5 1880.5,1999.4 1881.6,1999.3 1882.7,1999.1 1883.8,1998.9 1884.9,1999.5 1886.0,1999.4 1887.1,2000.1 1888.2,1999.0 1889.3,1999.7 1890.4,2000.1 1891.5,1998.9 1892.6,1999.9 1893.7,1999.1 1894.8,1999.8 1895.9,2000.2 1897.0,1999.7 1898.1,1999.8 1899.2,1999.5 1900.3,1999.8 1901.4,2000.1 1902.5,1999.7 1903.6,1999.7 1904.7,1999.9 1905.8,2000.1 1906.9,1999.2 1908.0,1999.8 1909.1,1999.6 1910.2,2000.0 1911.3,2000.2 1912.4,2000.0 1913.5,2000.4 1914.6,1999.5 1915.7,1999.8 1916.8,1999.6 1917.9,2000.0 1919.0,2000.0 1920.1,1999.9" fill="none" stroke="#000000" stroke-width="6" stroke-linejoin="round" stroke-linecap="round" />
<rect x="269.0" y="854.0" width="1652.0" height="1232.0" fill="none" stroke="#000" stroke-width="6"/>
<line x1="269.0" y1="2086.0" x2="269.0" y2="2110" stroke="#000" stroke-width="5" stroke-linecap="round"/>
<text transform="matrix(0.9578 0 0 1.0400 270.70 2174.80)" font-size="64" font-family="Liberation Sans" font-weight="bold" fill="#000" text-anchor="middle">5</text>
<line x1="544.3" y1="2086.0" x2="544.3" y2="2110" stroke="#000" stroke-width="5" stroke-linecap="round"/>
<text transform="matrix(0.9578 0 0 1.0400 546.03 2174.80)" font-size="64" font-family="Liberation Sans" font-weight="bold" fill="#000" text-anchor="middle">10</text>
<line x1="819.7" y1="2086.0" x2="819.7" y2="2110" stroke="#000" stroke-width="5" stroke-linecap="round"/>
<text transform="matrix(0.9578 0 0 1.0400 821.37 2174.80)" font-size="64" font-family="Liberation Sans" font-weight="bold" fill="#000" text-anchor="middle">15</text>
<line x1="1095.0" y1="2086.0" x2="1095.0" y2="2110" stroke="#000" stroke-width="5" stroke-linecap="round"/>
<text transform="matrix(0.9578 0 0 1.0400 1096.70 2174.80)" font-size="64" font-family="Liberation Sans" font-weight="bold" fill="#000" text-anchor="middle">20</text>
<line x1="1370.3" y1="2086.0" x2="1370.3" y2="2110" stroke="#000" stroke-width="5" stroke-linecap="round"/>
<text transform="matrix(0.9578 0 0 1.0400 1372.03 2174.80)" font-size="64" font-family="Liberation Sans" font-weight="bold" fill="#000" text-anchor="middle">25</text>
<line x1="1645.7" y1="2086.0" x2="1645.7" y2="2110" stroke="#000" stroke-width="5" stroke-linecap="round"/>
<text transform="matrix(0.9578 0 0 1.0400 1647.37 2174.80)" font-size="64" font-family="Liberation Sans" font-weight="bold" fill="#000" text-anchor="middle">30</text>
<line x1="1921.0" y1="2086.0" x2="1921.0" y2="2110" stroke="#000" stroke-width="5" stroke-linecap="round"/>
<text transform="matrix(0.9578 0 0 1.0400 1922.70 2174.80)" font-size="64" font-family="Liberation Sans" font-weight="bold" fill="#000" text-anchor="middle">35</text>
<line x1="406.7" y1="2086.0" x2="406.7" y2="2098" stroke="#000" stroke-width="5" stroke-linecap="round"/>
<line x1="682.0" y1="2086.0" x2="682.0" y2="2098" stroke="#000" stroke-width="5" stroke-linecap="round"/>
<line x1="957.3" y1="2086.0" x2="957.3" y2="2098" stroke="#000" stroke-width="5" stroke-linecap="round"/>
<line x1="1232.7" y1="2086.0" x2="1232.7" y2="2098" stroke="#000" stroke-width="5" stroke-linecap="round"/>
<line x1="1508.0" y1="2086.0" x2="1508.0" y2="2098" stroke="#000" stroke-width="5" stroke-linecap="round"/>
<line x1="1783.3" y1="2086.0" x2="1783.3" y2="2098" stroke="#000" stroke-width="5" stroke-linecap="round"/>
<text transform="matrix(1.0000 0 0 1.0392 844.00 2292.80)" font-size="73" font-family="Liberation Sans" font-weight="bold" fill="#000">2</text>
<text transform="matrix(1.0882 0 0 0.9604 885.74 2293.84)" font-size="73" font-family="Liberation Serif" font-style="italic" font-weight="bold" fill="#000">θ</text>
<text transform="matrix(0.9641 0 0 1.0000 938.04 2292.80)" font-size="73" font-family="Liberation Sans" font-weight="bold" fill="#000">/Degrees</text>
<text transform="matrix(0.7544 0 0 0.9600 1739.49 1195.00)" font-size="60" font-family="Noto Serif CJK SC" font-weight="300" fill="#000">Ⅳ</text>
<text transform="matrix(1.0741 0 0 0.9533 1741.78 1525.60)" font-size="60" font-family="Noto Serif CJK SC" font-weight="300" fill="#000">Ⅲ</text>
<text transform="matrix(1.0833 0 0 0.9556 1751.00 1852.00)" font-size="60" font-family="Noto Serif CJK SC" font-weight="300" fill="#000">Ⅱ</text>
<text transform="matrix(1.0050 0 0 0.9556 1752.80 1982.00)" font-size="60" font-family="Noto Serif CJK SC" font-weight="300" fill="#000">Ⅰ</text>
<polyline points="340.0,2594.4 342.5,2594.4 345.0,2594.7 347.4,2594.8 349.9,2595.0 352.4,2595.0 354.9,2595.0 357.4,2594.9 359.8,2594.8 362.3,2595.2 364.8,2595.4 367.3,2595.7 369.8,2595.7 372.2,2595.5 374.7,2595.3 377.2,2595.3 379.7,2595.5 382.2,2595.6 384.6,2595.8 387.1,2595.9 389.6,2596.2 392.1,2596.4 394.5,2596.5 397.0,2596.5 399.5,2596.4 402.0,2596.5 404.5,2596.5 406.9,2596.7 409.4,2596.8 411.9,2597.0 414.4,2596.9 416.9,2597.3 419.3,2597.5 421.8,2597.8 424.3,2597.7 426.8,2597.8 429.3,2597.9 431.7,2597.9 434.2,2597.8 436.7,2598.0 439.2,2597.9 441.7,2598.2 444.1,2598.4 446.6,2598.5 449.1,2598.8 451.6,2598.8 454.1,2599.2 456.5,2599.1 459.0,2599.5 461.5,2599.5 464.0,2600.0 466.5,2600.2 468.9,2600.7 471.4,2600.7 473.9,2601.0 476.4,2601.1 478.9,2601.3 481.3,2601.6 483.8,2601.9 486.3,2602.4 488.8,2602.8 491.3,2603.4 493.7,2604.3 496.2,2605.2 498.7,2606.2 501.2,2607.0 503.6,2607.9 506.1,2608.9 508.6,2610.1 511.1,2611.5 513.6,2613.0 516.0,2614.8 518.5,2616.7 521.0,2618.7 523.5,2621.0 526.0,2623.7 528.4,2626.8 530.9,2630.3 533.4,2634.0 535.9,2638.0 538.4,2642.0 540.8,2646.6 543.3,2651.8 545.8,2657.4 548.3,2664.0 550.8,2672.0 553.2,2681.6 555.7,2691.9 558.2,2702.6 560.7,2714.6 563.2,2727.4 565.6,2741.6 568.1,2756.8 570.6,2772.9 573.1,2788.4 575.6,2803.9 578.0,2819.9 580.5,2837.6 583.0,2856.8 585.5,2877.0 588.0,2898.2 590.4,2920.5 592.9,2943.6 595.4,2966.6 597.9,2990.6 600.3,3014.4 602.8,3037.6 605.3,3059.6 607.8,3079.8 610.3,3098.5 612.7,3116.3 615.2,3132.2 617.7,3147.2 620.2,3161.0 622.7,3173.5 625.1,3184.7 627.6,3194.8 630.1,3204.0 632.6,3212.7 635.1,3220.7 637.5,3228.5 640.0,3235.3 642.5,3241.7 645.0,3247.4 647.5,3253.4 649.9,3259.2 652.4,3264.9 654.9,3270.1 657.4,3275.0 659.9,3279.2 662.3,3283.4 664.8,3287.3 667.3,3291.5 669.8,3295.4 672.3,3299.3 674.7,3303.2 677.2,3306.7 679.7,3310.0 682.2,3313.0 684.7,3315.9 687.1,3318.4 689.6,3320.7 692.1,3323.0 694.6,3324.9 697.1,3326.7 699.5,3328.4 702.0,3330.4 704.5,3332.2 707.0,3333.8 709.4,3335.3 711.9,3337.0 714.4,3338.6 716.9,3340.4 719.4,3341.8 721.8,3343.6 724.3,3345.2 726.8,3346.8 729.3,3348.3 731.8,3349.8 734.2,3351.5 736.7,3352.7 739.2,3354.2 741.7,3355.5 744.2,3356.8 746.6,3358.2 749.1,3359.6 751.6,3361.1 754.1,3362.4 756.6,3363.7 759.0,3365.3 761.5,3366.8 764.0,3368.4 766.5,3370.0 769.0,3371.5 771.4,3372.9 773.9,3374.1 776.4,3375.5 778.9,3377.0 781.4,3378.3 783.8,3379.4 786.3,3380.6 788.8,3381.7 791.3,3382.9 793.8,3384.0 796.2,3384.8 798.7,3385.8 801.2,3386.3 803.7,3387.3 806.1,3388.2 808.6,3389.4 811.1,3390.1 813.6,3391.0 816.1,3391.9 818.5,3392.8 821.0,3393.9 823.5,3394.7 826.0,3395.6 828.5,3396.3 830.9,3397.1 833.4,3398.4 835.9,3399.5 838.4,3400.6 840.9,3401.6 843.3,3402.6 845.8,3403.9 848.3,3404.8 850.8,3405.7 853.3,3406.4 855.7,3407.6 858.2,3408.7 860.7,3410.0 863.2,3411.3 865.7,3412.6 868.1,3413.8 870.6,3415.1 873.1,3416.5 875.6,3418.0 878.1,3419.5 880.5,3420.9 883.0,3422.3 885.5,3424.0 888.0,3425.7 890.5,3427.3 892.9,3428.6 895.4,3430.2 897.9,3431.7 900.4,3433.2 902.9,3434.7 905.3,3436.2 907.8,3437.7 910.3,3438.7 912.8,3439.8 915.2,3441.0 917.7,3442.2 920.2,3443.6 922.7,3444.6 925.2,3445.5 927.6,3446.5 930.1,3447.4 932.6,3448.6 935.1,3449.8 937.6,3451.2 940.0,3452.3 942.5,3453.4 945.0,3454.4 947.5,3455.7 950.0,3456.8 952.4,3458.1 954.9,3459.6 957.4,3461.5 959.9,3463.0 962.4,3464.7 964.8,3466.4 967.3,3468.1 969.8,3469.6 972.3,3471.0 974.8,3472.6 977.2,3474.2 979.7,3475.7 982.2,3477.0 984.7,3477.9 987.2,3478.8 989.6,3480.0 992.1,3481.1 994.6,3482.1 997.1,3483.0 999.6,3483.8 1002.0,3484.7 1004.5,3485.3 1007.0,3486.0 1009.5,3486.9 1011.9,3487.8 1014.4,3488.6 1016.9,3489.4 1019.4,3490.3 1021.9,3491.2 1024.3,3492.1 1026.8,3492.8 1029.3,3493.7 1031.8,3494.4 1034.3,3495.3 1036.7,3496.2 1039.2,3497.3 1041.7,3498.2 1044.2,3499.1 1046.7,3500.0 1049.1,3500.9 1051.6,3501.9 1054.1,3502.7 1056.6,3503.4 1059.1,3504.1 1061.5,3504.6 1064.0,3505.7 1066.5,3506.4 1069.0,3507.3 1071.5,3508.1 1073.9,3508.8 1076.4,3509.5 1078.9,3510.1 1081.4,3510.8 1083.9,3511.6 1086.3,3512.2 1088.8,3513.0 1091.3,3513.4 1093.8,3513.8 1096.3,3514.0 1098.7,3514.4 1101.2,3514.5 1103.7,3514.9 1106.2,3515.2 1108.7,3515.6 1111.1,3515.7 1113.6,3515.8 1116.1,3515.9 1118.6,3516.2 1121.0,3516.5 1123.5,3516.5 1126.0,3516.7 1128.5,3516.7 1131.0,3517.0 1133.4,3517.2 1135.9,3517.3 1138.4,3517.5 1140.9,3517.9 1143.4,3518.6 1145.8,3519.2 1148.3,3519.7 1150.8,3520.3 1153.3,3521.1 1155.8,3521.8 1158.2,3522.5 1160.7,3523.2 1163.2,3523.9 1165.7,3524.7 1168.2,3525.3 1170.6,3526.1 1173.1,3527.0 1175.6,3528.0 1178.1,3529.2 1180.6,3530.4 1183.0,3531.5 1185.5,3532.4 1188.0,3533.3 1190.5,3534.3 1193.0,3535.3 1195.4,3536.4 1197.9,3537.4 1200.4,3538.4 1202.9,3539.4 1205.4,3540.6 1207.8,3541.7 1210.3,3543.1 1212.8,3544.1 1215.3,3545.4 1217.8,3546.3 1220.2,3547.4 1222.7,3548.5 1225.2,3549.8 1227.7,3551.1 1230.1,3552.4 1232.6,3553.5 1235.1,3554.7 1237.6,3555.6 1240.1,3557.0 1242.5,3558.2 1245.0,3559.4 1247.5,3560.2 1250.0,3561.3 1252.5,3562.4 1254.9,3563.7 1257.4,3564.8 1259.9,3565.8 1262.4,3566.9 1264.9,3567.9 1267.3,3569.0 1269.8,3569.9 1272.3,3570.7 1274.8,3571.5 1277.3,3572.4 1279.7,3573.5 1282.2,3574.5 1284.7,3575.4 1287.2,3576.3 1289.7,3577.0 1292.1,3577.7 1294.6,3578.8 1297.1,3579.9 1299.6,3581.0 1302.1,3581.6 1304.5,3582.4 1307.0,3583.4 1309.5,3584.2 1312.0,3585.0 1314.5,3585.8 1316.9,3586.7 1319.4,3587.5 1321.9,3588.3 1324.4,3589.1 1326.8,3589.8 1329.3,3590.4 1331.8,3591.4 1334.3,3591.9 1336.8,3592.8 1339.2,3593.3 1341.7,3594.2 1344.2,3594.9 1346.7,3595.6 1349.2,3596.1 1351.6,3596.6 1354.1,3597.1 1356.6,3597.8 1359.1,3598.3 1361.6,3599.0 1364.0,3599.6 1366.5,3600.2 1369.0,3600.6 1371.5,3601.2 1374.0,3601.8 1376.4,3602.4 1378.9,3603.0 1381.4,3603.5 1383.9,3604.1 1386.4,3604.7 1388.8,3605.1 1391.3,3605.7 1393.8,3606.0 1396.3,3606.7 1398.8,3607.0 1401.2,3607.5 1403.7,3607.7 1406.2,3608.3 1408.7,3608.7 1411.2,3609.2 1413.6,3609.6 1416.1,3610.1 1418.6,3610.8 1421.1,3611.3 1423.6,3611.8 1426.0,3612.0 1428.5,3612.3 1431.0,3612.5 1433.5,3612.9 1435.9,3613.2 1438.4,3613.6 1440.9,3614.0 1443.4,3614.2 1445.9,3614.6 1448.3,3615.1 1450.8,3615.4 1453.3,3615.7 1455.8,3616.0 1458.3,3616.5 1460.7,3616.7 1463.2,3616.7 1465.7,3617.1 1468.2,3617.7 1470.7,3618.0 1473.1,3618.2 1475.6,3618.2 1478.1,3618.5 1480.6,3618.8 1483.1,3619.2 1485.5,3619.4 1488.0,3619.9 1490.5,3620.1 1493.0,3620.4 1495.5,3620.6 1497.9,3620.9 1500.4,3621.1 1502.9,3621.4 1505.4,3621.5 1507.9,3621.9 1510.3,3622.1 1512.8,3622.5 1515.3,3622.7 1517.8,3622.8 1520.3,3622.8 1522.7,3623.1 1525.2,3623.4 1527.7,3623.9 1530.2,3624.1 1532.6,3624.3 1535.1,3624.4 1537.6,3624.6 1540.1,3624.9 1542.6,3625.4 1545.0,3625.6 1547.5,3625.8 1550.0,3625.9 1552.5,3626.1 1555.0,3626.4 1557.4,3626.4 1559.9,3626.6 1562.4,3626.7 1564.9,3627.2 1567.4,3627.6 1569.8,3628.0 1572.3,3628.3 1574.8,3628.4 1577.3,3628.7 1579.8,3628.9 1582.2,3629.1 1584.7,3629.4 1587.2,3629.4 1589.7,3629.6 1592.2,3629.6 1594.6,3630.0 1597.1,3630.3 1599.6,3630.3 1602.1,3630.4 1604.6,3630.6 1607.0,3631.2 1609.5,3631.6 1612.0,3631.7 1614.5,3631.5 1617.0,3631.6 1619.4,3631.6 1621.9,3631.8 1624.4,3632.0 1626.9,3632.2 1629.4,3632.3 1631.8,3632.3 1634.3,3632.4 1636.8,3632.7 1639.3,3632.9 1641.7,3633.0 1644.2,3632.9 1646.7,3632.9 1649.2,3633.1 1651.7,3633.4 1654.1,3633.6 1656.6,3633.7 1659.1,3633.6 1661.6,3633.8 1664.1,3633.9 1666.5,3634.2 1669.0,3634.2 1671.5,3634.0 1674.0,3634.0 1676.5,3633.9 1678.9,3634.3 1681.4,3634.3 1683.9,3634.4 1686.4,3634.5 1688.9,3634.7 1691.3,3634.8 1693.8,3634.9 1696.3,3634.8 1698.8,3635.0 1701.3,3634.8 1703.7,3635.1 1706.2,3635.1 1708.7,3635.1 1711.2,3635.1 1713.7,3635.1 1716.1,3635.3 1718.6,3635.3 1721.1,3635.6 1723.6,3635.6 1726.1,3635.6 1728.5,3635.6 1731.0,3635.9 1733.5,3635.8 1736.0,3635.9 1738.4,3635.9 1740.9,3636.0 1743.4,3636.0 1745.9,3636.0 1748.4,3636.2 1750.8,3636.3 1753.3,3636.4 1755.8,3636.5 1758.3,3636.5 1760.8,3636.2 1763.2,3636.3 1765.7,3636.3 1768.2,3636.8 1770.7,3637.0 1773.2,3637.1 1775.6,3637.2 1778.1,3637.2 1780.6,3637.4 1783.1,3637.3 1785.6,3637.4 1788.0,3637.4 1790.5,3637.2 1793.0,3637.1 1795.5,3637.3 1798.0,3637.5 1800.4,3637.5 1802.9,3637.7 1805.4,3637.7 1807.9,3637.9 1810.4,3637.8 1812.8,3638.0 1815.3,3637.9 1817.8,3638.0 1820.3,3637.9 1822.8,3637.9 1825.2,3638.0 1827.7,3638.1 1830.2,3638.4 1832.7,3638.5 1835.2,3638.5 1837.6,3638.4 1840.1,3638.2 1842.6,3638.2 1845.1,3638.4 1847.5,3638.9 1850.0,3639.1 1852.5,3639.1 1855.0,3639.0 1857.5,3639.1 1859.9,3638.9 1862.4,3638.8 1864.9,3638.9 1867.4,3639.3 1869.9,3639.4 1872.3,3639.3 1874.8,3639.2 1877.3,3639.2 1879.8,3639.2 1882.3,3639.1 1884.7,3639.2 1887.2,3639.3 1889.7,3639.5" fill="none" stroke="#000000" stroke-width="7" stroke-linejoin="round" stroke-linecap="round" />
<polyline points="340.0,2609.3 342.5,2609.3 345.0,2609.1 347.4,2608.9 349.9,2608.5 352.4,2608.4 354.9,2608.1 357.4,2608.0 359.8,2607.5 362.3,2607.2 364.8,2606.6 367.3,2605.8 369.8,2605.3 372.2,2604.8 374.7,2604.3 377.2,2603.3 379.7,2602.5 382.2,2601.4 384.6,2600.6 387.1,2599.7 389.6,2598.9 392.1,2598.2 394.5,2597.6 397.0,2596.9 399.5,2596.3 402.0,2595.8 404.5,2595.5 406.9,2595.1 409.4,2594.8 411.9,2594.5 414.4,2594.2 416.9,2593.8 419.3,2593.6 421.8,2593.6 424.3,2593.6 426.8,2593.7 429.3,2593.6 431.7,2593.8 434.2,2593.8 436.7,2593.7 439.2,2593.7 441.7,2593.7 444.1,2593.8 446.6,2594.1 449.1,2594.2 451.6,2594.4 454.1,2594.1 456.5,2594.2 459.0,2594.1 461.5,2594.5 464.0,2594.7 466.5,2595.1 468.9,2594.9 471.4,2595.3 473.9,2595.6 476.4,2596.1 478.9,2596.1 481.3,2596.5 483.8,2596.9 486.3,2597.7 488.8,2598.1 491.3,2598.2 493.7,2598.4 496.2,2598.8 498.7,2599.3 501.2,2599.6 503.6,2599.8 506.1,2600.2 508.6,2600.5 511.1,2600.7 513.6,2601.3 516.0,2601.5 518.5,2601.8 521.0,2601.7 523.5,2602.0 526.0,2602.2 528.4,2602.3 530.9,2602.4 533.4,2602.8 535.9,2603.1 538.4,2603.3 540.8,2603.3 543.3,2603.6 545.8,2604.1 548.3,2604.6 550.8,2604.8 553.2,2605.2 555.7,2605.4 558.2,2605.7 560.7,2606.0 563.2,2606.4 565.6,2606.9 568.1,2607.3 570.6,2607.5 573.1,2607.8 575.6,2607.9 578.0,2608.3 580.5,2608.7 583.0,2609.1 585.5,2609.6 588.0,2610.1 590.4,2610.6 592.9,2610.9 595.4,2611.3 597.9,2611.6 600.3,2612.0 602.8,2612.3 605.3,2612.8 607.8,2613.1 610.3,2613.3 612.7,2613.5 615.2,2614.2 617.7,2614.8 620.2,2615.4 622.7,2615.6 625.1,2615.9 627.6,2616.4 630.1,2616.6 632.6,2616.8 635.1,2616.6 637.5,2616.6 640.0,2616.5 642.5,2616.4 645.0,2616.5 647.5,2616.6 649.9,2616.7 652.4,2616.6 654.9,2616.7 657.4,2616.7 659.9,2616.9 662.3,2616.7 664.8,2616.3 667.3,2616.2 669.8,2616.4 672.3,2616.6 674.7,2616.6 677.2,2616.5 679.7,2616.6 682.2,2616.3 684.7,2616.4 687.1,2616.3 689.6,2616.3 692.1,2616.4 694.6,2616.4 697.1,2616.3 699.5,2616.3 702.0,2616.3 704.5,2616.3 707.0,2616.2 709.4,2616.1 711.9,2616.2 714.4,2616.2 716.9,2616.2 719.4,2616.2 721.8,2616.4 724.3,2616.2 726.8,2616.2 729.3,2616.1 731.8,2616.4 734.2,2616.5 736.7,2616.2 739.2,2615.8 741.7,2615.9 744.2,2615.9 746.6,2615.9 749.1,2615.8 751.6,2615.9 754.1,2616.0 756.6,2616.1 759.0,2616.0 761.5,2615.9 764.0,2615.6 766.5,2615.5 769.0,2615.5 771.4,2615.5 773.9,2615.5 776.4,2615.3 778.9,2615.2 781.4,2615.2 783.8,2615.0 786.3,2614.8 788.8,2614.8 791.3,2614.8 793.8,2614.8 796.2,2614.6 798.7,2614.5 801.2,2614.4 803.7,2614.3 806.1,2614.2 808.6,2614.3 811.1,2614.3 813.6,2614.6 816.1,2614.5 818.5,2614.5 821.0,2614.4 823.5,2614.3 826.0,2614.1 828.5,2614.2 830.9,2614.3 833.4,2614.3 835.9,2614.2 838.4,2614.2 840.9,2614.1 843.3,2614.1 845.8,2614.3 848.3,2614.3 850.8,2614.1 853.3,2613.9 855.7,2614.1 858.2,2614.2 860.7,2614.3 863.2,2614.1 865.7,2614.3 868.1,2614.1 870.6,2614.0 873.1,2613.9 875.6,2614.1 878.1,2614.2 880.5,2614.3 883.0,2614.1 885.5,2614.1 888.0,2614.0 890.5,2614.1 892.9,2614.3 895.4,2614.3 897.9,2614.4 900.4,2614.2 902.9,2614.2 905.3,2614.2 907.8,2614.6 910.3,2614.8 912.8,2615.3 915.2,2615.7 917.7,2616.1 920.2,2616.2 922.7,2616.5 925.2,2616.9 927.6,2617.5 930.1,2617.8 932.6,2618.2 935.1,2618.5 937.6,2619.0 940.0,2619.4 942.5,2619.8 945.0,2620.2 947.5,2620.9 950.0,2621.8 952.4,2622.9 954.9,2624.1 957.4,2625.2 959.9,2626.1 962.4,2627.1 964.8,2628.0 967.3,2629.1 969.8,2630.5 972.3,2631.8 974.8,2633.4 977.2,2634.9 979.7,2637.0 982.2,2639.0 984.7,2641.2 987.2,2643.2 989.6,2645.4 992.1,2647.7 994.6,2650.2 997.1,2652.9 999.6,2655.8 1002.0,2658.9 1004.5,2662.6 1007.0,2666.4 1009.5,2670.4 1011.9,2674.5 1014.4,2678.9 1016.9,2684.0 1019.4,2689.5 1021.9,2695.2 1024.3,2701.1 1026.8,2707.2 1029.3,2713.8 1031.8,2720.7 1034.3,2727.4 1036.7,2734.3 1039.2,2741.0 1041.7,2747.6 1044.2,2754.2 1046.7,2760.6 1049.1,2767.1 1051.6,2773.7 1054.1,2780.3 1056.6,2787.4 1059.1,2794.2 1061.5,2801.2 1064.0,2807.6 1066.5,2813.7 1069.0,2819.3 1071.5,2824.8 1073.9,2829.9 1076.4,2835.1 1078.9,2839.9 1081.4,2844.8 1083.9,2849.0 1086.3,2853.0 1088.8,2856.9 1091.3,2861.1 1093.8,2865.3 1096.3,2869.2 1098.7,2872.9 1101.2,2876.4 1103.7,2879.8 1106.2,2883.3 1108.7,2886.4 1111.1,2889.6 1113.6,2892.5 1116.1,2895.3 1118.6,2898.1 1121.0,2900.8 1123.5,2903.5 1126.0,2906.1 1128.5,2908.5 1131.0,2911.0 1133.4,2913.5 1135.9,2915.9 1138.4,2918.3 1140.9,2920.8 1143.4,2923.3 1145.8,2925.9 1148.3,2928.2 1150.8,2930.7 1153.3,2933.1 1155.8,2935.7 1158.2,2938.1 1160.7,2940.3 1163.2,2942.5 1165.7,2944.9 1168.2,2947.6 1170.6,2950.2 1173.1,2952.9 1175.6,2955.4 1178.1,2958.4 1180.6,2961.1 1183.0,2964.2 1185.5,2967.1 1188.0,2970.5 1190.5,2973.9 1193.0,2977.3 1195.4,2980.6 1197.9,2983.9 1200.4,2987.4 1202.9,2990.9 1205.4,2994.3 1207.8,2998.2 1210.3,3002.1 1212.8,3006.0 1215.3,3009.7 1217.8,3013.5 1220.2,3017.3 1222.7,3021.1 1225.2,3024.8 1227.7,3028.4 1230.1,3031.7 1232.6,3034.7 1235.1,3037.8 1237.6,3040.7 1240.1,3043.7 1242.5,3046.6 1245.0,3049.8 1247.5,3053.3 1250.0,3057.1 1252.5,3061.2 1254.9,3065.3 1257.4,3069.3 1259.9,3073.0 1262.4,3077.0 1264.9,3080.9 1267.3,3085.0 1269.8,3088.6 1272.3,3092.4 1274.8,3096.2 1277.3,3100.2 1279.7,3104.3 1282.2,3108.1 1284.7,3112.3 1287.2,3116.4 1289.7,3120.5 1292.1,3124.6 1294.6,3128.3 1297.1,3132.2 1299.6,3135.6 1302.1,3139.0 1304.5,3142.7 1307.0,3146.4 1309.5,3150.0 1312.0,3152.9 1314.5,3155.9 1316.9,3159.0 1319.4,3162.4 1321.9,3165.5 1324.4,3168.5 1326.8,3171.7 1329.3,3174.7 1331.8,3178.0 1334.3,3181.2 1336.8,3184.4 1339.2,3187.6 1341.7,3190.7 1344.2,3194.0 1346.7,3197.3 1349.2,3200.5 1351.6,3203.7 1354.1,3206.7 1356.6,3209.9 1359.1,3213.2 1361.6,3216.5 1364.0,3219.8 1366.5,3222.9 1369.0,3226.4 1371.5,3229.6 1374.0,3232.9 1376.4,3236.0 1378.9,3239.3 1381.4,3242.5 1383.9,3245.7 1386.4,3248.7 1388.8,3251.7 1391.3,3254.6 1393.8,3257.5 1396.3,3260.4 1398.8,3263.4 1401.2,3266.3 1403.7,3269.1 1406.2,3271.8 1408.7,3274.4 1411.2,3276.8 1413.6,3279.1 1416.1,3281.5 1418.6,3283.8 1421.1,3286.3 1423.6,3288.6 1426.0,3290.9 1428.5,3293.0 1431.0,3295.3 1433.5,3297.4 1435.9,3299.6 1438.4,3301.4 1440.9,3303.2 1443.4,3304.9 1445.9,3306.7 1448.3,3308.3 1450.8,3309.7 1453.3,3311.2 1455.8,3312.5 1458.3,3314.1 1460.7,3315.6 1463.2,3317.3 1465.7,3318.9 1468.2,3320.4 1470.7,3321.9 1473.1,3323.3 1475.6,3325.1 1478.1,3326.8 1480.6,3328.7 1483.1,3330.1 1485.5,3331.7 1488.0,3333.3 1490.5,3335.0 1493.0,3336.7 1495.5,3338.3 1497.9,3340.1 1500.4,3341.9 1502.9,3344.0 1505.4,3345.8 1507.9,3347.6 1510.3,3349.6 1512.8,3351.9 1515.3,3354.2 1517.8,3356.4 1520.3,3358.7 1522.7,3361.3 1525.2,3363.8 1527.7,3366.6 1530.2,3369.3 1532.6,3372.0 1535.1,3374.3 1537.6,3376.8 1540.1,3379.5 1542.6,3382.2 1545.0,3384.7 1547.5,3386.8 1550.0,3389.2 1552.5,3391.3 1555.0,3394.0 1557.4,3396.4 1559.9,3398.7 1562.4,3400.6 1564.9,3402.9 1567.4,3405.5 1569.8,3407.9 1572.3,3410.1 1574.8,3412.5 1577.3,3414.7 1579.8,3416.6 1582.2,3418.5 1584.7,3420.4 1587.2,3422.5 1589.7,3424.6 1592.2,3426.7 1594.6,3428.6 1597.1,3430.5 1599.6,3432.4 1602.1,3434.4 1604.6,3436.3 1607.0,3438.3 1609.5,3440.1 1612.0,3442.1 1614.5,3443.9 1617.0,3445.7 1619.4,3447.5 1621.9,3449.3 1624.4,3451.0 1626.9,3453.1 1629.4,3454.9 1631.8,3456.8 1634.3,3458.3 1636.8,3460.1 1639.3,3461.9 1641.7,3463.7 1644.2,3465.4 1646.7,3467.0 1649.2,3468.7 1651.7,3470.4 1654.1,3472.4 1656.6,3474.1 1659.1,3475.8 1661.6,3477.4 1664.1,3479.4 1666.5,3481.0 1669.0,3482.6 1671.5,3484.1 1674.0,3486.0 1676.5,3487.7 1678.9,3489.3 1681.4,3490.8 1683.9,3492.7 1686.4,3494.6 1688.9,3496.5 1691.3,3498.1 1693.8,3499.8 1696.3,3501.5 1698.8,3503.2 1701.3,3504.9 1703.7,3506.5 1706.2,3508.2 1708.7,3509.9 1711.2,3511.7 1713.7,3513.4 1716.1,3515.2 1718.6,3517.0 1721.1,3518.8 1723.6,3520.4 1726.1,3522.1 1728.5,3524.1 1731.0,3525.8 1733.5,3527.3 1736.0,3528.7 1738.4,3530.5 1740.9,3532.2 1743.4,3533.9 1745.9,3535.8 1748.4,3537.7 1750.8,3539.7 1753.3,3541.5 1755.8,3543.0 1758.3,3544.7 1760.8,3546.3 1763.2,3548.1 1765.7,3549.6 1768.2,3551.5 1770.7,3553.4 1773.2,3555.2 1775.6,3556.8 1778.1,3558.4 1780.6,3560.2 1783.1,3562.1 1785.6,3563.8 1788.0,3565.6 1790.5,3567.1 1793.0,3568.9 1795.5,3570.4 1798.0,3572.5 1800.4,3574.4 1802.9,3576.5 1805.4,3578.2 1807.9,3580.0 1810.4,3581.8 1812.8,3583.3 1815.3,3584.9 1817.8,3586.3 1820.3,3588.2 1822.8,3589.9 1825.2,3591.9 1827.7,3593.8 1830.2,3595.7 1832.7,3597.4 1835.2,3599.2 1837.6,3601.1 1840.1,3602.9 1842.6,3604.5 1845.1,3606.2 1847.5,3608.2 1850.0,3610.2 1852.5,3611.9 1855.0,3613.7 1857.5,3615.5 1859.9,3617.4 1862.4,3619.3 1864.9,3621.0 1867.4,3622.9 1869.9,3624.6 1872.3,3626.8 1874.8,3628.6 1877.3,3630.4 1879.8,3632.1 1882.3,3633.9 1884.7,3635.8 1887.2,3637.4 1889.7,3639.3" fill="none" stroke="#ff0000" stroke-width="7" stroke-linejoin="round" stroke-linecap="round" />
<polyline points="340.0,2605.0 342.5,2604.4 345.0,2604.1 347.4,2603.7 349.9,2603.4 352.4,2602.6 354.9,2601.9 357.4,2601.4 359.8,2600.9 362.3,2600.7 364.8,2600.4 367.3,2600.0 369.8,2599.2 372.2,2598.4 374.7,2597.6 377.2,2597.1 379.7,2596.5 382.2,2595.8 384.6,2595.0 387.1,2594.5 389.6,2594.1 392.1,2593.6 394.5,2593.1 397.0,2592.7 399.5,2592.5 402.0,2592.8 404.5,2593.3 406.9,2594.1 409.4,2594.8 411.9,2595.6 414.4,2596.3 416.9,2597.5 419.3,2598.5 421.8,2599.5 424.3,2600.1 426.8,2600.8 429.3,2601.2 431.7,2601.5 434.2,2601.7 436.7,2602.2 439.2,2602.4 441.7,2603.1 444.1,2603.3 446.6,2603.8 449.1,2603.9 451.6,2604.3 454.1,2604.8 456.5,2605.2 459.0,2605.7 461.5,2606.2 464.0,2606.9 466.5,2608.1 468.9,2609.2 471.4,2610.6 473.9,2611.5 476.4,2612.8 478.9,2613.9 481.3,2615.5 483.8,2617.1 486.3,2618.7 488.8,2620.2 491.3,2621.6 493.7,2623.1 496.2,2624.9 498.7,2626.0 501.2,2627.5 503.6,2628.9 506.1,2630.7 508.6,2632.5 511.1,2634.3 513.6,2636.0 516.0,2637.9 518.5,2640.1 521.0,2642.8 523.5,2645.1 526.0,2647.4 528.4,2649.4 530.9,2652.0 533.4,2654.9 535.9,2658.1 538.4,2661.1 540.8,2664.4 543.3,2667.8 545.8,2671.9 548.3,2675.9 550.8,2680.2 553.2,2684.7 555.7,2689.4 558.2,2694.2 560.7,2698.5 563.2,2702.8 565.6,2707.7 568.1,2712.8 570.6,2718.9 573.1,2725.3 575.6,2733.2 578.0,2741.8 580.5,2751.1 583.0,2759.9 585.5,2768.2 588.0,2776.0 590.4,2784.2 592.9,2792.0 595.4,2800.8 597.9,2810.1 600.3,2820.0 602.8,2828.9 605.3,2837.1 607.8,2844.2 610.3,2850.8 612.7,2857.0 615.2,2862.4 617.7,2867.6 620.2,2872.4 622.7,2876.6 625.1,2880.2 627.6,2883.3 630.1,2886.7 632.6,2889.5 635.1,2892.4 637.5,2895.1 640.0,2897.7 642.5,2899.9 645.0,2901.8 647.5,2903.9 649.9,2906.3 652.4,2908.4 654.9,2910.2 657.4,2911.9 659.9,2913.7 662.3,2915.3 664.8,2917.0 667.3,2918.4 669.8,2920.0 672.3,2921.0 674.7,2922.2 677.2,2923.6 679.7,2925.2 682.2,2926.6 684.7,2927.5 687.1,2928.5 689.6,2929.3 692.1,2930.4 694.6,2931.6 697.1,2932.5 699.5,2933.7 702.0,2934.5 704.5,2935.6 707.0,2936.3 709.4,2937.4 711.9,2938.6 714.4,2939.9 716.9,2941.3 719.4,2942.8 721.8,2944.5 724.3,2946.2 726.8,2947.8 729.3,2949.1 731.8,2949.9 734.2,2950.3 736.7,2950.4 739.2,2950.7 741.7,2951.0 744.2,2951.3 746.6,2951.9 749.1,2952.1 751.6,2952.9 754.1,2953.4 756.6,2954.6 759.0,2956.1 761.5,2957.3 764.0,2958.4 766.5,2959.3 769.0,2959.9 771.4,2960.2 773.9,2960.1 776.4,2960.2 778.9,2960.5 781.4,2960.8 783.8,2960.9 786.3,2961.2 788.8,2962.1 791.3,2963.5 793.8,2965.0 796.2,2966.5 798.7,2968.4 801.2,2969.7 803.7,2970.8 806.1,2971.7 808.6,2973.2 811.1,2974.6 813.6,2975.7 816.1,2976.5 818.5,2977.4 821.0,2978.7 823.5,2980.3 826.0,2981.8 828.5,2983.6 830.9,2985.0 833.4,2986.4 835.9,2987.7 838.4,2989.0 840.9,2990.2 843.3,2991.6 845.8,2993.3 848.3,2994.7 850.8,2996.3 853.3,2997.8 855.7,2999.3 858.2,3000.6 860.7,3001.7 863.2,3003.1 865.7,3004.7 868.1,3006.3 870.6,3008.4 873.1,3010.7 875.6,3013.4 878.1,3015.5 880.5,3017.7 883.0,3020.3 885.5,3023.0 888.0,3025.4 890.5,3027.3 892.9,3028.9 895.4,3030.5 897.9,3031.9 900.4,3033.3 902.9,3034.8 905.3,3036.1 907.8,3038.0 910.3,3039.3 912.8,3041.7 915.2,3043.1 917.7,3045.2 920.2,3046.4 922.7,3047.7 925.2,3048.5 927.6,3048.9 930.1,3049.2 932.6,3049.6 935.1,3050.1 937.6,3050.6 940.0,3050.7 942.5,3050.9 945.0,3051.5 947.5,3052.4 950.0,3053.3 952.4,3053.8 954.9,3054.2 957.4,3053.8 959.9,3053.9 962.4,3053.6 964.8,3053.5 967.3,3052.5 969.8,3051.8 972.3,3050.8 974.8,3050.1 977.2,3049.3 979.7,3048.2 982.2,3047.1 984.7,3045.5 987.2,3044.1 989.6,3042.4 992.1,3041.1 994.6,3039.4 997.1,3037.0 999.6,3034.2 1002.0,3031.7 1004.5,3030.0 1007.0,3028.1 1009.5,3026.7 1011.9,3024.7 1014.4,3023.1 1016.9,3021.4 1019.4,3020.2 1021.9,3018.7 1024.3,3017.7 1026.8,3015.9 1029.3,3014.1 1031.8,3011.8 1034.3,3009.7 1036.7,3006.9 1039.2,3004.2 1041.7,3001.0 1044.2,2998.3 1046.7,2995.8 1049.1,2993.7 1051.6,2991.8 1054.1,2990.2 1056.6,2989.2 1059.1,2988.5 1061.5,2987.6 1064.0,2986.2 1066.5,2985.0 1069.0,2983.6 1071.5,2982.0 1073.9,2979.9 1076.4,2977.9 1078.9,2975.8 1081.4,2973.6 1083.9,2971.0 1086.3,2968.6 1088.8,2966.8 1091.3,2964.8 1093.8,2963.1 1096.3,2960.8 1098.7,2958.7 1101.2,2956.2 1103.7,2953.9 1106.2,2951.7 1108.7,2949.0 1111.1,2946.6 1113.6,2944.2 1116.1,2942.2 1118.6,2940.1 1121.0,2938.0 1123.5,2936.2 1126.0,2934.5 1128.5,2933.2 1131.0,2931.5 1133.4,2929.8 1135.9,2928.6 1138.4,2927.3 1140.9,2926.3 1143.4,2925.0 1145.8,2924.0 1148.3,2922.7 1150.8,2921.4 1153.3,2920.1 1155.8,2919.1 1158.2,2918.1 1160.7,2916.9 1163.2,2915.8 1165.7,2914.7 1168.2,2913.9 1170.6,2912.8 1173.1,2911.9 1175.6,2910.9 1178.1,2910.0 1180.6,2908.9 1183.0,2907.8 1185.5,2906.6 1188.0,2905.7 1190.5,2904.9 1193.0,2904.4 1195.4,2903.5 1197.9,2902.5 1200.4,2901.5 1202.9,2900.9 1205.4,2900.2 1207.8,2899.5 1210.3,2898.7 1212.8,2897.8 1215.3,2897.2 1217.8,2896.5 1220.2,2895.9 1222.7,2895.0 1225.2,2894.4 1227.7,2894.0 1230.1,2893.3 1232.6,2892.5 1235.1,2891.7 1237.6,2891.7 1240.1,2891.1 1242.5,2890.5 1245.0,2889.9 1247.5,2890.0 1250.0,2890.0 1252.5,2890.0 1254.9,2890.1 1257.4,2889.9 1259.9,2889.7 1262.4,2889.8 1264.9,2890.4 1267.3,2890.7 1269.8,2891.0 1272.3,2891.2 1274.8,2891.8 1277.3,2891.9 1279.7,2892.3 1282.2,2892.5 1284.7,2893.1 1287.2,2894.0 1289.7,2895.4 1292.1,2896.7 1294.6,2897.7 1297.1,2898.5 1299.6,2899.3 1302.1,2899.8 1304.5,2899.9 1307.0,2899.7 1309.5,2899.8 1312.0,2899.5 1314.5,2899.6 1316.9,2899.3 1319.4,2899.6 1321.9,2899.3 1324.4,2899.2 1326.8,2899.1 1329.3,2899.3 1331.8,2899.6 1334.3,2899.6 1336.8,2899.6 1339.2,2899.5 1341.7,2899.4 1344.2,2899.5 1346.7,2899.7 1349.2,2899.9 1351.6,2899.8 1354.1,2899.7 1356.6,2899.5 1359.1,2899.3 1361.6,2898.8 1364.0,2898.2 1366.5,2897.9 1369.0,2897.5 1371.5,2897.0 1374.0,2896.1 1376.4,2895.6 1378.9,2894.8 1381.4,2894.2 1383.9,2893.7 1386.4,2893.3 1388.8,2893.3 1391.3,2892.9 1393.8,2892.9 1396.3,2892.9 1398.8,2893.4 1401.2,2893.3 1403.7,2893.1 1406.2,2892.9 1408.7,2893.1 1411.2,2893.4 1413.6,2893.6 1416.1,2893.9 1418.6,2893.9 1421.1,2893.9 1423.6,2893.8 1426.0,2894.0 1428.5,2894.4 1431.0,2894.8 1433.5,2895.6 1435.9,2896.0 1438.4,2896.2 1440.9,2896.3 1443.4,2896.4 1445.9,2896.8 1448.3,2897.0 1450.8,2897.5 1453.3,2897.9 1455.8,2898.2 1458.3,2898.4 1460.7,2898.9 1463.2,2899.4 1465.7,2900.3 1468.2,2901.0 1470.7,2901.9 1473.1,2902.3 1475.6,2903.2 1478.1,2903.9 1480.6,2904.7 1483.1,2905.3 1485.5,2906.2 1488.0,2907.5 1490.5,2908.9 1493.0,2910.0 1495.5,2911.1 1497.9,2912.3 1500.4,2913.7 1502.9,2915.0 1505.4,2916.3 1507.9,2917.9 1510.3,2919.3 1512.8,2921.2 1515.3,2922.9 1517.8,2924.9 1520.3,2926.7 1522.7,2928.8 1525.2,2930.7 1527.7,2932.9 1530.2,2934.9 1532.6,2937.3 1535.1,2939.6 1537.6,2941.7 1540.1,2943.9 1542.6,2946.1 1545.0,2948.7 1547.5,2951.4 1550.0,2954.2 1552.5,2957.0 1555.0,2959.8 1557.4,2963.0 1559.9,2966.0 1562.4,2969.1 1564.9,2972.2 1567.4,2974.9 1569.8,2978.5 1572.3,2981.8 1574.8,2985.6 1577.3,2988.6 1579.8,2992.2 1582.2,2995.3 1584.7,2998.8 1587.2,3001.8 1589.7,3005.0 1592.2,3008.2 1594.6,3011.5 1597.1,3014.8 1599.6,3018.6 1602.1,3022.3 1604.6,3026.6 1607.0,3030.5 1609.5,3035.2 1612.0,3039.8 1614.5,3045.3 1617.0,3050.2 1619.4,3055.7 1621.9,3061.0 1624.4,3066.7 1626.9,3072.0 1629.4,3077.9 1631.8,3084.0 1634.3,3090.4 1636.8,3096.6 1639.3,3102.9 1641.7,3109.6 1644.2,3116.0 1646.7,3122.3 1649.2,3127.9 1651.7,3133.6 1654.1,3139.2 1656.6,3144.7 1659.1,3150.3 1661.6,3155.8 1664.1,3161.4 1666.5,3166.6 1669.0,3172.1 1671.5,3177.5 1674.0,3183.1 1676.5,3188.7 1678.9,3194.2 1681.4,3199.7 1683.9,3205.0 1686.4,3210.8 1688.9,3216.2 1691.3,3221.5 1693.8,3226.8 1696.3,3232.2 1698.8,3237.2 1701.3,3242.3 1703.7,3248.0 1706.2,3253.6 1708.7,3259.1 1711.2,3264.2 1713.7,3269.4 1716.1,3274.8 1718.6,3280.1 1721.1,3285.6 1723.6,3290.7 1726.1,3295.7 1728.5,3300.3 1731.0,3305.3 1733.5,3310.2 1736.0,3315.2 1738.4,3320.2 1740.9,3325.4 1743.4,3330.5 1745.9,3335.6 1748.4,3340.9 1750.8,3345.9 1753.3,3351.3 1755.8,3356.5 1758.3,3361.8 1760.8,3367.2 1763.2,3372.4 1765.7,3377.7 1768.2,3382.5 1770.7,3387.8 1773.2,3393.0 1775.6,3398.4 1778.1,3403.6 1780.6,3408.7 1783.1,3414.2 1785.6,3419.2 1788.0,3424.6 1790.5,3429.5 1793.0,3434.7 1795.5,3439.7 1798.0,3444.9 1800.4,3450.2 1802.9,3455.4 1805.4,3460.6 1807.9,3465.7 1810.4,3470.8 1812.8,3475.5 1815.3,3480.3 1817.8,3485.4 1820.3,3490.8 1822.8,3496.1 1825.2,3501.4 1827.7,3506.5 1830.2,3511.7 1832.7,3516.6 1835.2,3522.1 1837.6,3527.4 1840.1,3533.0 1842.6,3538.1 1845.1,3543.5 1847.5,3548.7 1850.0,3554.2 1852.5,3559.4 1855.0,3565.0 1857.5,3570.3 1859.9,3576.2 1862.4,3581.4 1864.9,3586.6 1867.4,3591.7 1869.9,3597.1 1872.3,3602.4 1874.8,3607.5 1877.3,3612.7 1879.8,3617.9 1882.3,3623.3 1884.7,3628.6 1887.2,3633.8 1889.7,3639.2" fill="none" stroke="#0000ff" stroke-width="7" stroke-linejoin="round" stroke-linecap="round" />
<rect x="340.0" y="2489.0" width="1581.0" height="1203.0" fill="none" stroke="#000" stroke-width="6"/>
<line x1="340.0" y1="3692.0" x2="340.0" y2="3715" stroke="#000" stroke-width="5" stroke-linecap="round"/>
<text transform="matrix(0.9245 0 0 1.0222 340.50 3777.90)" font-size="64" font-family="Liberation Sans" font-weight="bold" fill="#000" text-anchor="middle">300</text>
<line x1="649.9" y1="3692.0" x2="649.9" y2="3715" stroke="#000" stroke-width="5" stroke-linecap="round"/>
<text transform="matrix(0.9245 0 0 1.0222 650.44 3777.90)" font-size="64" font-family="Liberation Sans" font-weight="bold" fill="#000" text-anchor="middle">400</text>
<line x1="959.9" y1="3692.0" x2="959.9" y2="3715" stroke="#000" stroke-width="5" stroke-linecap="round"/>
<text transform="matrix(0.9245 0 0 1.0222 960.38 3777.90)" font-size="64" font-family="Liberation Sans" font-weight="bold" fill="#000" text-anchor="middle">500</text>
<line x1="1269.8" y1="3692.0" x2="1269.8" y2="3715" stroke="#000" stroke-width="5" stroke-linecap="round"/>
<text transform="matrix(0.9245 0 0 1.0222 1270.32 3777.90)" font-size="64" font-family="Liberation Sans" font-weight="bold" fill="#000" text-anchor="middle">600</text>
<line x1="1579.8" y1="3692.0" x2="1579.8" y2="3715" stroke="#000" stroke-width="5" stroke-linecap="round"/>
<text transform="matrix(0.9245 0 0 1.0222 1580.26 3777.90)" font-size="64" font-family="Liberation Sans" font-weight="bold" fill="#000" text-anchor="middle">700</text>
<line x1="1889.7" y1="3692.0" x2="1889.7" y2="3715" stroke="#000" stroke-width="5" stroke-linecap="round"/>
<text transform="matrix(0.9245 0 0 1.0222 1890.20 3777.90)" font-size="64" font-family="Liberation Sans" font-weight="bold" fill="#000" text-anchor="middle">800</text>
<line x1="495.0" y1="3692.0" x2="495.0" y2="3703" stroke="#000" stroke-width="5" stroke-linecap="round"/>
<line x1="804.9" y1="3692.0" x2="804.9" y2="3703" stroke="#000" stroke-width="5" stroke-linecap="round"/>
<line x1="1114.8" y1="3692.0" x2="1114.8" y2="3703" stroke="#000" stroke-width="5" stroke-linecap="round"/>
<line x1="1424.8" y1="3692.0" x2="1424.8" y2="3703" stroke="#000" stroke-width="5" stroke-linecap="round"/>
<line x1="1734.7" y1="3692.0" x2="1734.7" y2="3703" stroke="#000" stroke-width="5" stroke-linecap="round"/>
<line x1="340.0" y1="3639.5" x2="317" y2="3639.5" stroke="#000" stroke-width="6" stroke-linecap="round"/>
<text transform="matrix(0.9159 0 0 1.0156 303.80 3656.70)" font-size="64" font-family="Liberation Sans" font-weight="bold" fill="#000" text-anchor="end">0.0</text>
<line x1="340.0" y1="3430.5" x2="317" y2="3430.5" stroke="#000" stroke-width="6" stroke-linecap="round"/>
<text transform="matrix(0.9159 0 0 1.0156 303.80 3447.70)" font-size="64" font-family="Liberation Sans" font-weight="bold" fill="#000" text-anchor="end">0.2</text>
<line x1="340.0" y1="3221.5" x2="317" y2="3221.5" stroke="#000" stroke-width="6" stroke-linecap="round"/>
<text transform="matrix(0.9159 0 0 1.0156 303.80 3238.70)" font-size="64" font-family="Liberation Sans" font-weight="bold" fill="#000" text-anchor="end">0.4</text>
<line x1="340.0" y1="3012.5" x2="317" y2="3012.5" stroke="#000" stroke-width="6" stroke-linecap="round"/>
<text transform="matrix(0.9159 0 0 1.0156 303.80 3029.70)" font-size="64" font-family="Liberation Sans" font-weight="bold" fill="#000" text-anchor="end">0.6</text>
<line x1="340.0" y1="2803.5" x2="317" y2="2803.5" stroke="#000" stroke-width="6" stroke-linecap="round"/>
<text transform="matrix(0.9159 0 0 1.0156 303.80 2820.70)" font-size="64" font-family="Liberation Sans" font-weight="bold" fill="#000" text-anchor="end">0.8</text>
<line x1="340.0" y1="2594.5" x2="317" y2="2594.5" stroke="#000" stroke-width="6" stroke-linecap="round"/>
<text transform="matrix(0.9159 0 0 1.0156 303.80 2611.70)" font-size="64" font-family="Liberation Sans" font-weight="bold" fill="#000" text-anchor="end">1.0</text>
<line x1="340.0" y1="3535.0" x2="328" y2="3535.0" stroke="#000" stroke-width="6" stroke-linecap="round"/>
<line x1="340.0" y1="3326.0" x2="328" y2="3326.0" stroke="#000" stroke-width="6" stroke-linecap="round"/>
<line x1="340.0" y1="3117.0" x2="328" y2="3117.0" stroke="#000" stroke-width="6" stroke-linecap="round"/>
<line x1="340.0" y1="2908.0" x2="328" y2="2908.0" stroke="#000" stroke-width="6" stroke-linecap="round"/>
<line x1="340.0" y1="2699.0" x2="328" y2="2699.0" stroke="#000" stroke-width="6" stroke-linecap="round"/>
<line x1="340.0" y1="2490.0" x2="328" y2="2490.0" stroke="#000" stroke-width="6" stroke-linecap="round"/>
<line x1="1404" y1="2592" x2="1528" y2="2592" stroke="#000000" stroke-width="7" stroke-linecap="round"/>
<line x1="1404" y1="2674" x2="1528" y2="2674" stroke="#ff0000" stroke-width="7" stroke-linecap="round"/>
<line x1="1404" y1="2756.3" x2="1528" y2="2756.3" stroke="#0000ff" stroke-width="7" stroke-linecap="round"/>
<text transform="matrix(0.9781 0 0 1.0630 1544.94 2611.90)" font-size="66" font-family="Liberation Sans" font-weight="bold" fill="#000">3</text>
<text transform="matrix(0.9714 0 0 1.0478 1545.01 2694.00)" font-size="66" font-family="Liberation Sans" font-weight="bold" fill="#000">DDQ</text>
<text transform="matrix(0.9683 0 0 0.9915 1545.46 2775.20)" font-size="66" font-family="Liberation Sans" font-weight="bold" fill="#000">3@DDQ</text>
<text transform="matrix(0.9656 0 0 1.0000 876.10 3887.90)" font-size="66" font-family="Liberation Sans" font-weight="bold" fill="#000">Wavelength (nm)</text>
<text transform="translate(134.9 3577.6) rotate(-90) matrix(1.0161 0 0 0.9958 -4.06 0.00)" font-size="66" font-family="Liberation Sans" font-weight="bold" fill="#000">Normalized Reflectance (%)</text>
</svg></body></html>
